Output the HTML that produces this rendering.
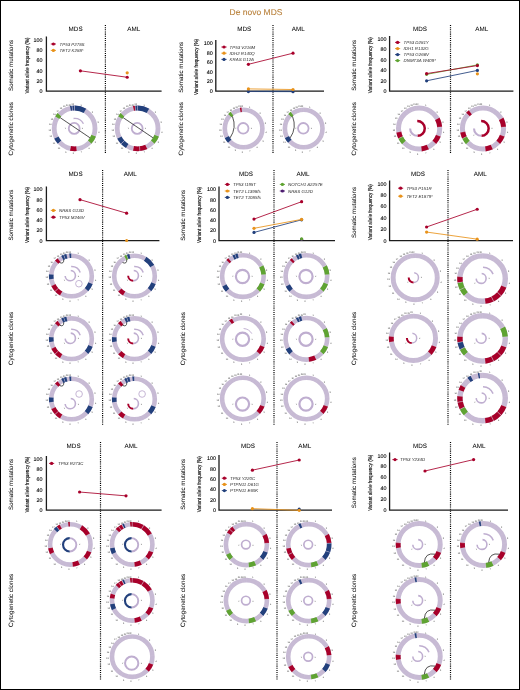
<!DOCTYPE html>
<html><head><meta charset="utf-8"><title>De novo MDS</title>
<style>
html,body{margin:0;padding:0;background:#fff;}
body{width:520px;height:690px;overflow:hidden;position:relative;font-family:"Liberation Sans",sans-serif;}
#frame{position:absolute;left:0;top:0;width:518px;height:688px;border:1px solid #000;}
svg{position:absolute;left:0;top:0;display:block}
svg text{font-family:"Liberation Sans",sans-serif;text-rendering:geometricPrecision;}
</style></head><body>
<svg width="520" height="690" viewBox="0 0 520 690">
<rect x="0" y="0" width="520" height="690" fill="#fff"/>
<defs><filter id="soft" x="0" y="0" width="520" height="690" filterUnits="userSpaceOnUse"><feGaussianBlur stdDeviation="0.28"/></filter></defs>
<g filter="url(#soft)">
<text transform="translate(256 14.6) scale(.1)" font-size="85" text-anchor="middle" fill="#b9823d" stroke="#b9823d" stroke-width="1.2">De novo MDS</text>
<path d="M105.4 25V153.6" stroke="#000" stroke-width="1.2" stroke-dasharray="1.05 1.1" fill="none"/>
<text transform="translate(75.60 31.45) scale(.1)" font-size="63" text-anchor="middle" fill="#000" stroke="#000" stroke-width="0.4">MDS</text>
<text transform="translate(133.70 31.45) scale(.1)" font-size="63" text-anchor="middle" fill="#000" stroke="#000" stroke-width="0.4">AML</text>
<text transform="translate(13.03 65.50) rotate(-90.0) scale(.1)" font-size="62" text-anchor="middle" fill="#000" stroke="#000" stroke-width="0.4">Somatic mutations</text>
<text transform="translate(28.72 65.50) rotate(-90.0) scale(.1)" font-size="56" text-anchor="middle" fill="#000" textLength="560" lengthAdjust="spacingAndGlyphs" stroke="#000" stroke-width="1.3">Variant allele frequency (%)</text>
<text transform="translate(13.07 128.80) rotate(-90.0) scale(.1)" font-size="63" text-anchor="middle" fill="#000" stroke="#000" stroke-width="0.4">Cytogenetic clones</text>
<text transform="translate(42.60 93.15) scale(.1)" font-size="54" text-anchor="end" fill="#000" stroke="#000" stroke-width="1.0">0</text>
<text transform="translate(42.60 82.83) scale(.1)" font-size="54" text-anchor="end" fill="#000" stroke="#000" stroke-width="1.0">20</text>
<text transform="translate(42.60 72.51) scale(.1)" font-size="54" text-anchor="end" fill="#000" stroke="#000" stroke-width="1.0">40</text>
<text transform="translate(42.60 62.19) scale(.1)" font-size="54" text-anchor="end" fill="#000" stroke="#000" stroke-width="1.0">60</text>
<text transform="translate(42.60 51.87) scale(.1)" font-size="54" text-anchor="end" fill="#000" stroke="#000" stroke-width="1.0">80</text>
<text transform="translate(42.60 41.55) scale(.1)" font-size="54" text-anchor="end" fill="#000" stroke="#000" stroke-width="1.0">100</text>
<path d="M46.4 36.6V91.2H161.6" stroke="#1c1c1c" stroke-width="1.3" fill="none" stroke-linejoin="miter"/>
<circle cx="127.20" cy="72.83" r="1.6" fill="#e8921a"/>
<path d="M80.40 70.82L127.20 77.27" stroke="#a8062c" stroke-width="0.85" fill="none"/>
<circle cx="80.40" cy="70.82" r="1.6" fill="#a8062c"/>
<circle cx="127.20" cy="77.27" r="1.6" fill="#a8062c"/>
<path d="M50.8 44H56.0" stroke="#a8062c" stroke-width="0.9"/>
<circle cx="53.4" cy="44" r="1.6" fill="#a8062c"/>
<text transform="translate(59.60 45.55) scale(.1)" font-size="44" text-anchor="start" fill="#2a2a2a" font-style="italic">TP53 P278S</text>
<path d="M50.8 50.4H56.0" stroke="#e8921a" stroke-width="0.9"/>
<circle cx="53.4" cy="50.4" r="1.6" fill="#e8921a"/>
<text transform="translate(59.60 51.95) scale(.1)" font-size="44" text-anchor="start" fill="#2a2a2a" font-style="italic">TET2 K288*</text>
<circle cx="74.6" cy="128.4" r="20.40" fill="none" stroke="#c7bad4" stroke-width="4.80"/>
<text transform="translate(81.16 106.20) scale(.1)" font-size="22" text-anchor="middle" fill="#3a3a3a">1</text>
<text transform="translate(92.28 112.87) scale(.1)" font-size="22" text-anchor="middle" fill="#3a3a3a">2</text>
<text transform="translate(98.09 122.97) scale(.1)" font-size="22" text-anchor="middle" fill="#3a3a3a">3</text>
<text transform="translate(98.80 133.25) scale(.1)" font-size="22" text-anchor="middle" fill="#3a3a3a">4</text>
<text transform="translate(95.45 142.52) scale(.1)" font-size="22" text-anchor="middle" fill="#3a3a3a">5</text>
<text transform="translate(89.15 149.40) scale(.1)" font-size="22" text-anchor="middle" fill="#3a3a3a">6</text>
<text transform="translate(81.29 153.27) scale(.1)" font-size="22" text-anchor="middle" fill="#3a3a3a">7</text>
<text transform="translate(73.24 154.16) scale(.1)" font-size="22" text-anchor="middle" fill="#3a3a3a">8</text>
<text transform="translate(65.79 152.56) scale(.1)" font-size="22" text-anchor="middle" fill="#3a3a3a">9</text>
<text transform="translate(58.90 148.90) scale(.1)" font-size="22" text-anchor="middle" fill="#3a3a3a">10</text>
<text transform="translate(53.98 143.64) scale(.1)" font-size="22" text-anchor="middle" fill="#3a3a3a">11</text>
<text transform="translate(50.82 137.22) scale(.1)" font-size="22" text-anchor="middle" fill="#3a3a3a">12</text>
<text transform="translate(49.67 130.70) scale(.1)" font-size="22" text-anchor="middle" fill="#3a3a3a">13</text>
<text transform="translate(50.15 124.81) scale(.1)" font-size="22" text-anchor="middle" fill="#3a3a3a">14</text>
<text transform="translate(51.90 119.50) scale(.1)" font-size="22" text-anchor="middle" fill="#3a3a3a">15</text>
<text transform="translate(54.54 115.08) scale(.1)" font-size="22" text-anchor="middle" fill="#3a3a3a">16</text>
<text transform="translate(57.60 111.71) scale(.1)" font-size="22" text-anchor="middle" fill="#3a3a3a">17</text>
<text transform="translate(60.96 109.13) scale(.1)" font-size="22" text-anchor="middle" fill="#3a3a3a">18</text>
<text transform="translate(64.18 107.40) scale(.1)" font-size="22" text-anchor="middle" fill="#3a3a3a">19</text>
<text transform="translate(67.23 106.28) scale(.1)" font-size="22" text-anchor="middle" fill="#3a3a3a">20</text>
<text transform="translate(70.12 105.63) scale(.1)" font-size="22" text-anchor="middle" fill="#3a3a3a">21</text>
<text transform="translate(72.74 105.34) scale(.1)" font-size="22" text-anchor="middle" fill="#3a3a3a">22</text>
<path d="M70.43 108.43A20.40 20.40 0 0 1 71.97 108.17" fill="none" stroke="#213f7b" stroke-width="4.80" />
<path d="M72.54 108.10A20.40 20.40 0 0 1 74.32 108.00" fill="none" stroke="#213f7b" stroke-width="4.80" />
<path d="M74.74 108.00A20.40 20.40 0 0 1 85.03 110.87" fill="none" stroke="#213f7b" stroke-width="4.80" />
<path d="M57.23 117.70A20.40 20.40 0 0 1 59.46 114.73" fill="none" stroke="#5ea330" stroke-width="4.80" />
<path d="M93.70 135.57A20.40 20.40 0 0 1 89.67 142.15" fill="none" stroke="#5ea330" stroke-width="4.80" />
<path d="M76.57 148.70A20.40 20.40 0 0 1 70.39 148.36" fill="none" stroke="#a8062c" stroke-width="4.80" />
<path d="M59.59 142.22A20.40 20.40 0 0 1 56.35 137.52" fill="none" stroke="#213f7b" stroke-width="4.80" />
<path d="M83.87 112.97L86.34 108.85" stroke="#f1ecf6" stroke-width="0.32" opacity="0.8"/>
<path d="M90.40 119.78L94.61 117.48" stroke="#f1ecf6" stroke-width="0.25" opacity="0.22"/>
<path d="M92.56 127.19L97.35 126.86" stroke="#f1ecf6" stroke-width="0.25" opacity="0.22"/>
<path d="M91.51 134.56L96.02 136.20" stroke="#f1ecf6" stroke-width="0.32" opacity="0.8"/>
<path d="M87.84 140.59L91.37 143.85" stroke="#f1ecf6" stroke-width="0.32" opacity="0.8"/>
<path d="M82.48 144.58L84.58 148.90" stroke="#f1ecf6" stroke-width="0.25" opacity="0.22"/>
<path d="M76.51 146.30L77.02 151.07" stroke="#f1ecf6" stroke-width="0.32" opacity="0.8"/>
<path d="M70.81 146.00L69.79 150.69" stroke="#f1ecf6" stroke-width="0.32" opacity="0.8"/>
<path d="M65.66 144.02L63.27 148.19" stroke="#f1ecf6" stroke-width="0.25" opacity="0.22"/>
<path d="M61.48 140.72L57.98 144.01" stroke="#f1ecf6" stroke-width="0.32" opacity="0.8"/>
<path d="M58.47 136.38L54.16 138.51" stroke="#f1ecf6" stroke-width="0.32" opacity="0.8"/>
<path d="M56.85 131.39L52.12 132.19" stroke="#f1ecf6" stroke-width="0.25" opacity="0.22"/>
<path d="M56.66 126.89L51.88 126.48" stroke="#f1ecf6" stroke-width="0.25" opacity="0.22"/>
<path d="M57.50 122.78L52.94 121.28" stroke="#f1ecf6" stroke-width="0.25" opacity="0.22"/>
<path d="M59.18 119.11L55.07 116.63" stroke="#f1ecf6" stroke-width="0.32" opacity="0.8"/>
<path d="M61.29 116.28L57.75 113.05" stroke="#f1ecf6" stroke-width="0.32" opacity="0.8"/>
<path d="M63.63 114.13L60.71 110.32" stroke="#f1ecf6" stroke-width="0.25" opacity="0.22"/>
<path d="M66.21 112.48L63.97 108.23" stroke="#f1ecf6" stroke-width="0.25" opacity="0.22"/>
<path d="M68.32 111.53L66.65 107.03" stroke="#f1ecf6" stroke-width="0.25" opacity="0.22"/>
<path d="M70.70 110.83L69.65 106.14" stroke="#f1ecf6" stroke-width="0.25" opacity="0.22"/>
<path d="M72.55 110.52L72.01 105.75" stroke="#f1ecf6" stroke-width="0.25" opacity="0.22"/>
<path d="M74.55 110.40L74.54 105.60" stroke="#f1ecf6" stroke-width="0.32" opacity="0.8"/>
<circle cx="74.20" cy="128.40" r="5.45" fill="none" stroke="#bfaed0" stroke-width="1.8"/>
<text transform="translate(65.40 129.30) scale(.1)" font-size="20" text-anchor="middle" fill="#333">Y</text>
<text transform="translate(82.40 129.30) scale(.1)" font-size="20" text-anchor="middle" fill="#333">X</text>
<path d="M73.55 118.45A10.00 10.00 0 0 1 83.43 123.71" fill="none" stroke="#bfaed0" stroke-width="1.4" />
<path d="M60.15 117.67L89.96 137.78" stroke="#1a1a1a" stroke-width="0.75" fill="none"/>
<circle cx="137.6" cy="128.4" r="20.40" fill="none" stroke="#c7bad4" stroke-width="4.80"/>
<text transform="translate(144.16 106.20) scale(.1)" font-size="22" text-anchor="middle" fill="#3a3a3a">1</text>
<text transform="translate(155.28 112.87) scale(.1)" font-size="22" text-anchor="middle" fill="#3a3a3a">2</text>
<text transform="translate(161.09 122.97) scale(.1)" font-size="22" text-anchor="middle" fill="#3a3a3a">3</text>
<text transform="translate(161.80 133.25) scale(.1)" font-size="22" text-anchor="middle" fill="#3a3a3a">4</text>
<text transform="translate(158.45 142.52) scale(.1)" font-size="22" text-anchor="middle" fill="#3a3a3a">5</text>
<text transform="translate(152.15 149.40) scale(.1)" font-size="22" text-anchor="middle" fill="#3a3a3a">6</text>
<text transform="translate(144.29 153.27) scale(.1)" font-size="22" text-anchor="middle" fill="#3a3a3a">7</text>
<text transform="translate(136.24 154.16) scale(.1)" font-size="22" text-anchor="middle" fill="#3a3a3a">8</text>
<text transform="translate(128.79 152.56) scale(.1)" font-size="22" text-anchor="middle" fill="#3a3a3a">9</text>
<text transform="translate(121.90 148.90) scale(.1)" font-size="22" text-anchor="middle" fill="#3a3a3a">10</text>
<text transform="translate(116.98 143.64) scale(.1)" font-size="22" text-anchor="middle" fill="#3a3a3a">11</text>
<text transform="translate(113.82 137.22) scale(.1)" font-size="22" text-anchor="middle" fill="#3a3a3a">12</text>
<text transform="translate(112.67 130.70) scale(.1)" font-size="22" text-anchor="middle" fill="#3a3a3a">13</text>
<text transform="translate(113.15 124.81) scale(.1)" font-size="22" text-anchor="middle" fill="#3a3a3a">14</text>
<text transform="translate(114.90 119.50) scale(.1)" font-size="22" text-anchor="middle" fill="#3a3a3a">15</text>
<text transform="translate(117.54 115.08) scale(.1)" font-size="22" text-anchor="middle" fill="#3a3a3a">16</text>
<text transform="translate(120.60 111.71) scale(.1)" font-size="22" text-anchor="middle" fill="#3a3a3a">17</text>
<text transform="translate(123.96 109.13) scale(.1)" font-size="22" text-anchor="middle" fill="#3a3a3a">18</text>
<text transform="translate(127.18 107.40) scale(.1)" font-size="22" text-anchor="middle" fill="#3a3a3a">19</text>
<text transform="translate(130.23 106.28) scale(.1)" font-size="22" text-anchor="middle" fill="#3a3a3a">20</text>
<text transform="translate(133.12 105.63) scale(.1)" font-size="22" text-anchor="middle" fill="#3a3a3a">21</text>
<text transform="translate(135.74 105.34) scale(.1)" font-size="22" text-anchor="middle" fill="#3a3a3a">22</text>
<path d="M133.37 108.44A20.40 20.40 0 0 1 135.19 108.14" fill="none" stroke="#a8062c" stroke-width="4.80" />
<path d="M135.48 108.11A20.40 20.40 0 0 1 137.46 108.00" fill="none" stroke="#213f7b" stroke-width="4.80" />
<path d="M137.74 108.00A20.40 20.40 0 0 1 148.03 110.87" fill="none" stroke="#213f7b" stroke-width="4.80" />
<path d="M120.23 117.70A20.40 20.40 0 0 1 122.46 114.73" fill="none" stroke="#5ea330" stroke-width="4.80" />
<path d="M156.70 135.57A20.40 20.40 0 0 1 152.67 142.15" fill="none" stroke="#5ea330" stroke-width="4.80" />
<path d="M146.36 146.82A20.40 20.40 0 0 1 139.85 148.68" fill="none" stroke="#a8062c" stroke-width="4.80" />
<path d="M139.57 148.70A20.40 20.40 0 0 1 133.39 148.36" fill="none" stroke="#a8062c" stroke-width="4.80" />
<path d="M127.29 146.00A20.40 20.40 0 0 1 122.79 142.43" fill="none" stroke="#213f7b" stroke-width="4.80" />
<path d="M122.59 142.22A20.40 20.40 0 0 1 119.35 137.52" fill="none" stroke="#213f7b" stroke-width="4.80" />
<path d="M146.87 112.97L149.34 108.85" stroke="#f1ecf6" stroke-width="0.32" opacity="0.8"/>
<path d="M153.40 119.78L157.61 117.48" stroke="#f1ecf6" stroke-width="0.25" opacity="0.22"/>
<path d="M155.56 127.19L160.35 126.86" stroke="#f1ecf6" stroke-width="0.25" opacity="0.22"/>
<path d="M154.51 134.56L159.02 136.20" stroke="#f1ecf6" stroke-width="0.32" opacity="0.8"/>
<path d="M150.84 140.59L154.37 143.85" stroke="#f1ecf6" stroke-width="0.32" opacity="0.8"/>
<path d="M145.48 144.58L147.58 148.90" stroke="#f1ecf6" stroke-width="0.32" opacity="0.8"/>
<path d="M139.51 146.30L140.02 151.07" stroke="#f1ecf6" stroke-width="0.32" opacity="0.8"/>
<path d="M133.81 146.00L132.79 150.69" stroke="#f1ecf6" stroke-width="0.32" opacity="0.8"/>
<path d="M128.66 144.02L126.27 148.19" stroke="#f1ecf6" stroke-width="0.32" opacity="0.8"/>
<path d="M124.48 140.72L120.98 144.01" stroke="#f1ecf6" stroke-width="0.32" opacity="0.8"/>
<path d="M121.47 136.38L117.16 138.51" stroke="#f1ecf6" stroke-width="0.32" opacity="0.8"/>
<path d="M119.85 131.39L115.12 132.19" stroke="#f1ecf6" stroke-width="0.25" opacity="0.22"/>
<path d="M119.66 126.89L114.88 126.48" stroke="#f1ecf6" stroke-width="0.25" opacity="0.22"/>
<path d="M120.50 122.78L115.94 121.28" stroke="#f1ecf6" stroke-width="0.25" opacity="0.22"/>
<path d="M122.18 119.11L118.07 116.63" stroke="#f1ecf6" stroke-width="0.32" opacity="0.8"/>
<path d="M124.29 116.28L120.75 113.05" stroke="#f1ecf6" stroke-width="0.32" opacity="0.8"/>
<path d="M126.63 114.13L123.71 110.32" stroke="#f1ecf6" stroke-width="0.25" opacity="0.22"/>
<path d="M129.21 112.48L126.97 108.23" stroke="#f1ecf6" stroke-width="0.25" opacity="0.22"/>
<path d="M131.32 111.53L129.65 107.03" stroke="#f1ecf6" stroke-width="0.25" opacity="0.22"/>
<path d="M133.70 110.83L132.65 106.14" stroke="#f1ecf6" stroke-width="0.32" opacity="0.8"/>
<path d="M135.55 110.52L135.01 105.75" stroke="#f1ecf6" stroke-width="0.32" opacity="0.8"/>
<path d="M137.55 110.40L137.54 105.60" stroke="#f1ecf6" stroke-width="0.32" opacity="0.8"/>
<circle cx="137.20" cy="128.40" r="5.45" fill="none" stroke="#bfaed0" stroke-width="1.8"/>
<text transform="translate(128.40 129.30) scale(.1)" font-size="20" text-anchor="middle" fill="#333">Y</text>
<text transform="translate(145.40 129.30) scale(.1)" font-size="20" text-anchor="middle" fill="#333">X</text>
<path d="M123.15 117.67L152.96 137.78" stroke="#1a1a1a" stroke-width="0.75" fill="none"/>
<path d="M273 25V153.6" stroke="#000" stroke-width="1.2" stroke-dasharray="1.05 1.1" fill="none"/>
<text transform="translate(244.30 31.45) scale(.1)" font-size="63" text-anchor="middle" fill="#000" stroke="#000" stroke-width="0.4">MDS</text>
<text transform="translate(298.30 31.45) scale(.1)" font-size="63" text-anchor="middle" fill="#000" stroke="#000" stroke-width="0.4">AML</text>
<text transform="translate(182.63 67.30) rotate(-90.0) scale(.1)" font-size="62" text-anchor="middle" fill="#000" stroke="#000" stroke-width="0.4">Somatic mutations</text>
<text transform="translate(198.32 67.00) rotate(-90.0) scale(.1)" font-size="56" text-anchor="middle" fill="#000" textLength="560" lengthAdjust="spacingAndGlyphs" stroke="#000" stroke-width="1.3">Variant allele frequency (%)</text>
<text transform="translate(182.67 128.80) rotate(-90.0) scale(.1)" font-size="63" text-anchor="middle" fill="#000" stroke="#000" stroke-width="0.4">Cytogenetic clones</text>
<text transform="translate(212.80 93.05) scale(.1)" font-size="54" text-anchor="end" fill="#000" stroke="#000" stroke-width="1.0">0</text>
<text transform="translate(212.80 83.45) scale(.1)" font-size="54" text-anchor="end" fill="#000" stroke="#000" stroke-width="1.0">20</text>
<text transform="translate(212.80 73.85) scale(.1)" font-size="54" text-anchor="end" fill="#000" stroke="#000" stroke-width="1.0">40</text>
<text transform="translate(212.80 64.25) scale(.1)" font-size="54" text-anchor="end" fill="#000" stroke="#000" stroke-width="1.0">60</text>
<text transform="translate(212.80 54.65) scale(.1)" font-size="54" text-anchor="end" fill="#000" stroke="#000" stroke-width="1.0">80</text>
<text transform="translate(212.80 45.05) scale(.1)" font-size="54" text-anchor="end" fill="#000" stroke="#000" stroke-width="1.0">100</text>
<path d="M215.8 40V91.1H324" stroke="#1c1c1c" stroke-width="1.3" fill="none" stroke-linejoin="miter"/>
<path d="M248.40 91.53L293.00 91.63" stroke="#213f7b" stroke-width="0.85" fill="none"/>
<circle cx="248.40" cy="91.53" r="1.6" fill="#213f7b"/>
<circle cx="293.00" cy="91.63" r="1.6" fill="#213f7b"/>
<path d="M248.40 88.89L293.00 89.52" stroke="#e8921a" stroke-width="0.85" fill="none"/>
<circle cx="248.40" cy="88.89" r="1.6" fill="#e8921a"/>
<circle cx="293.00" cy="89.52" r="1.6" fill="#e8921a"/>
<path d="M248.40 64.32L293.00 53.18" stroke="#a8062c" stroke-width="0.85" fill="none"/>
<circle cx="248.40" cy="64.32" r="1.6" fill="#a8062c"/>
<circle cx="293.00" cy="53.18" r="1.6" fill="#a8062c"/>
<path d="M221.4 47H226.6" stroke="#a8062c" stroke-width="0.9"/>
<circle cx="224" cy="47" r="1.6" fill="#a8062c"/>
<text transform="translate(229.60 48.55) scale(.1)" font-size="44" text-anchor="start" fill="#2a2a2a" font-style="italic">TP53 V216M</text>
<path d="M221.4 53.2H226.6" stroke="#e8921a" stroke-width="0.9"/>
<circle cx="224" cy="53.2" r="1.6" fill="#e8921a"/>
<text transform="translate(229.60 54.75) scale(.1)" font-size="44" text-anchor="start" fill="#2a2a2a" font-style="italic">IDH2 R140Q</text>
<path d="M221.4 59.4H226.6" stroke="#213f7b" stroke-width="0.9"/>
<circle cx="224" cy="59.4" r="1.6" fill="#213f7b"/>
<text transform="translate(229.60 60.95) scale(.1)" font-size="44" text-anchor="start" fill="#2a2a2a" font-style="italic">KRAS G12A</text>
<circle cx="243.6" cy="128.5" r="18.80" fill="none" stroke="#c7bad4" stroke-width="4.60"/>
<text transform="translate(249.71 107.93) scale(.1)" font-size="22" text-anchor="middle" fill="#3a3a3a">1</text>
<text transform="translate(260.06 114.14) scale(.1)" font-size="22" text-anchor="middle" fill="#3a3a3a">2</text>
<text transform="translate(265.46 123.54) scale(.1)" font-size="22" text-anchor="middle" fill="#3a3a3a">3</text>
<text transform="translate(266.12 133.10) scale(.1)" font-size="22" text-anchor="middle" fill="#3a3a3a">4</text>
<text transform="translate(263.00 141.73) scale(.1)" font-size="22" text-anchor="middle" fill="#3a3a3a">5</text>
<text transform="translate(257.14 148.13) scale(.1)" font-size="22" text-anchor="middle" fill="#3a3a3a">6</text>
<text transform="translate(249.83 151.73) scale(.1)" font-size="22" text-anchor="middle" fill="#3a3a3a">7</text>
<text transform="translate(242.33 152.56) scale(.1)" font-size="22" text-anchor="middle" fill="#3a3a3a">8</text>
<text transform="translate(235.40 151.07) scale(.1)" font-size="22" text-anchor="middle" fill="#3a3a3a">9</text>
<text transform="translate(228.95 147.67) scale(.1)" font-size="22" text-anchor="middle" fill="#3a3a3a">10</text>
<text transform="translate(224.37 142.77) scale(.1)" font-size="22" text-anchor="middle" fill="#3a3a3a">11</text>
<text transform="translate(221.44 136.80) scale(.1)" font-size="22" text-anchor="middle" fill="#3a3a3a">12</text>
<text transform="translate(220.37 130.73) scale(.1)" font-size="22" text-anchor="middle" fill="#3a3a3a">13</text>
<text transform="translate(220.82 125.25) scale(.1)" font-size="22" text-anchor="middle" fill="#3a3a3a">14</text>
<text transform="translate(222.45 120.31) scale(.1)" font-size="22" text-anchor="middle" fill="#3a3a3a">15</text>
<text transform="translate(224.90 116.20) scale(.1)" font-size="22" text-anchor="middle" fill="#3a3a3a">16</text>
<text transform="translate(227.74 113.06) scale(.1)" font-size="22" text-anchor="middle" fill="#3a3a3a">17</text>
<text transform="translate(230.87 110.67) scale(.1)" font-size="22" text-anchor="middle" fill="#3a3a3a">18</text>
<text transform="translate(233.87 109.06) scale(.1)" font-size="22" text-anchor="middle" fill="#3a3a3a">19</text>
<text transform="translate(236.71 108.02) scale(.1)" font-size="22" text-anchor="middle" fill="#3a3a3a">20</text>
<text transform="translate(239.39 107.40) scale(.1)" font-size="22" text-anchor="middle" fill="#3a3a3a">21</text>
<text transform="translate(241.83 107.14) scale(.1)" font-size="22" text-anchor="middle" fill="#3a3a3a">22</text>
<path d="M240.24 110.00A18.80 18.80 0 0 1 241.73 109.79" fill="none" stroke="#a8062c" stroke-width="4.60" />
<path d="M229.82 115.71A18.80 18.80 0 0 1 232.08 113.64" fill="none" stroke="#5ea330" stroke-width="4.60" />
<path d="M229.77 141.24A18.80 18.80 0 0 1 226.78 136.91" fill="none" stroke="#213f7b" stroke-width="4.60" />
<path d="M252.09 114.35L254.46 110.41" stroke="#f1ecf6" stroke-width="0.25" opacity="0.22"/>
<path d="M258.08 120.59L262.12 118.39" stroke="#f1ecf6" stroke-width="0.25" opacity="0.22"/>
<path d="M260.06 127.39L264.65 127.08" stroke="#f1ecf6" stroke-width="0.25" opacity="0.22"/>
<path d="M259.10 134.15L263.43 135.72" stroke="#f1ecf6" stroke-width="0.25" opacity="0.22"/>
<path d="M255.74 139.68L259.12 142.79" stroke="#f1ecf6" stroke-width="0.25" opacity="0.22"/>
<path d="M250.83 143.33L252.84 147.47" stroke="#f1ecf6" stroke-width="0.25" opacity="0.22"/>
<path d="M245.35 144.91L245.84 149.48" stroke="#f1ecf6" stroke-width="0.25" opacity="0.22"/>
<path d="M240.12 144.63L239.15 149.13" stroke="#f1ecf6" stroke-width="0.25" opacity="0.22"/>
<path d="M235.40 142.82L233.11 146.81" stroke="#f1ecf6" stroke-width="0.25" opacity="0.22"/>
<path d="M231.57 139.79L228.22 142.94" stroke="#f1ecf6" stroke-width="0.32" opacity="0.8"/>
<path d="M228.81 135.81L224.69 137.85" stroke="#f1ecf6" stroke-width="0.32" opacity="0.8"/>
<path d="M227.33 131.24L222.79 132.00" stroke="#f1ecf6" stroke-width="0.25" opacity="0.22"/>
<path d="M227.16 127.11L222.57 126.73" stroke="#f1ecf6" stroke-width="0.25" opacity="0.22"/>
<path d="M227.93 123.35L223.56 121.91" stroke="#f1ecf6" stroke-width="0.25" opacity="0.22"/>
<path d="M229.47 119.98L225.53 117.61" stroke="#f1ecf6" stroke-width="0.25" opacity="0.22"/>
<path d="M231.40 117.39L228.00 114.29" stroke="#f1ecf6" stroke-width="0.32" opacity="0.8"/>
<path d="M233.55 115.42L230.74 111.77" stroke="#f1ecf6" stroke-width="0.32" opacity="0.8"/>
<path d="M235.91 113.90L233.76 109.83" stroke="#f1ecf6" stroke-width="0.25" opacity="0.22"/>
<path d="M237.85 113.04L236.24 108.72" stroke="#f1ecf6" stroke-width="0.25" opacity="0.22"/>
<path d="M240.02 112.39L239.02 107.90" stroke="#f1ecf6" stroke-width="0.25" opacity="0.22"/>
<path d="M241.72 112.11L241.20 107.54" stroke="#f1ecf6" stroke-width="0.25" opacity="0.22"/>
<path d="M243.56 112.00L243.54 107.40" stroke="#f1ecf6" stroke-width="0.25" opacity="0.22"/>
<circle cx="243.20" cy="128.30" r="5.3" fill="none" stroke="#bfaed0" stroke-width="1.8"/>
<text transform="translate(235.80 129.40) scale(.1)" font-size="20" text-anchor="middle" fill="#333">Y</text>
<text transform="translate(251.40 129.40) scale(.1)" font-size="20" text-anchor="middle" fill="#333">X</text>
<path d="M232.41 116.37Q236.94 127.77 230.05 137.92" stroke="#1a1a1a" stroke-width="0.75" fill="none"/>
<circle cx="303.7" cy="128.5" r="18.80" fill="none" stroke="#c7bad4" stroke-width="4.60"/>
<text transform="translate(309.81 107.93) scale(.1)" font-size="22" text-anchor="middle" fill="#3a3a3a">1</text>
<text transform="translate(320.16 114.14) scale(.1)" font-size="22" text-anchor="middle" fill="#3a3a3a">2</text>
<text transform="translate(325.56 123.54) scale(.1)" font-size="22" text-anchor="middle" fill="#3a3a3a">3</text>
<text transform="translate(326.22 133.10) scale(.1)" font-size="22" text-anchor="middle" fill="#3a3a3a">4</text>
<text transform="translate(323.10 141.73) scale(.1)" font-size="22" text-anchor="middle" fill="#3a3a3a">5</text>
<text transform="translate(317.24 148.13) scale(.1)" font-size="22" text-anchor="middle" fill="#3a3a3a">6</text>
<text transform="translate(309.93 151.73) scale(.1)" font-size="22" text-anchor="middle" fill="#3a3a3a">7</text>
<text transform="translate(302.43 152.56) scale(.1)" font-size="22" text-anchor="middle" fill="#3a3a3a">8</text>
<text transform="translate(295.50 151.07) scale(.1)" font-size="22" text-anchor="middle" fill="#3a3a3a">9</text>
<text transform="translate(289.05 147.67) scale(.1)" font-size="22" text-anchor="middle" fill="#3a3a3a">10</text>
<text transform="translate(284.47 142.77) scale(.1)" font-size="22" text-anchor="middle" fill="#3a3a3a">11</text>
<text transform="translate(281.54 136.80) scale(.1)" font-size="22" text-anchor="middle" fill="#3a3a3a">12</text>
<text transform="translate(280.47 130.73) scale(.1)" font-size="22" text-anchor="middle" fill="#3a3a3a">13</text>
<text transform="translate(280.92 125.25) scale(.1)" font-size="22" text-anchor="middle" fill="#3a3a3a">14</text>
<text transform="translate(282.55 120.31) scale(.1)" font-size="22" text-anchor="middle" fill="#3a3a3a">15</text>
<text transform="translate(285.00 116.20) scale(.1)" font-size="22" text-anchor="middle" fill="#3a3a3a">16</text>
<text transform="translate(287.84 113.06) scale(.1)" font-size="22" text-anchor="middle" fill="#3a3a3a">17</text>
<text transform="translate(290.97 110.67) scale(.1)" font-size="22" text-anchor="middle" fill="#3a3a3a">18</text>
<text transform="translate(293.97 109.06) scale(.1)" font-size="22" text-anchor="middle" fill="#3a3a3a">19</text>
<text transform="translate(296.81 108.02) scale(.1)" font-size="22" text-anchor="middle" fill="#3a3a3a">20</text>
<text transform="translate(299.49 107.40) scale(.1)" font-size="22" text-anchor="middle" fill="#3a3a3a">21</text>
<text transform="translate(301.93 107.14) scale(.1)" font-size="22" text-anchor="middle" fill="#3a3a3a">22</text>
<path d="M289.92 115.71A18.80 18.80 0 0 1 292.18 113.64" fill="none" stroke="#5ea330" stroke-width="4.60" />
<path d="M289.87 141.24A18.80 18.80 0 0 1 286.88 136.91" fill="none" stroke="#213f7b" stroke-width="4.60" />
<path d="M312.19 114.35L314.56 110.41" stroke="#f1ecf6" stroke-width="0.25" opacity="0.22"/>
<path d="M318.18 120.59L322.22 118.39" stroke="#f1ecf6" stroke-width="0.25" opacity="0.22"/>
<path d="M320.16 127.39L324.75 127.08" stroke="#f1ecf6" stroke-width="0.25" opacity="0.22"/>
<path d="M319.20 134.15L323.53 135.72" stroke="#f1ecf6" stroke-width="0.25" opacity="0.22"/>
<path d="M315.84 139.68L319.22 142.79" stroke="#f1ecf6" stroke-width="0.25" opacity="0.22"/>
<path d="M310.93 143.33L312.94 147.47" stroke="#f1ecf6" stroke-width="0.25" opacity="0.22"/>
<path d="M305.45 144.91L305.94 149.48" stroke="#f1ecf6" stroke-width="0.25" opacity="0.22"/>
<path d="M300.22 144.63L299.25 149.13" stroke="#f1ecf6" stroke-width="0.25" opacity="0.22"/>
<path d="M295.50 142.82L293.21 146.81" stroke="#f1ecf6" stroke-width="0.25" opacity="0.22"/>
<path d="M291.67 139.79L288.32 142.94" stroke="#f1ecf6" stroke-width="0.32" opacity="0.8"/>
<path d="M288.91 135.81L284.79 137.85" stroke="#f1ecf6" stroke-width="0.32" opacity="0.8"/>
<path d="M287.43 131.24L282.89 132.00" stroke="#f1ecf6" stroke-width="0.25" opacity="0.22"/>
<path d="M287.26 127.11L282.67 126.73" stroke="#f1ecf6" stroke-width="0.25" opacity="0.22"/>
<path d="M288.03 123.35L283.66 121.91" stroke="#f1ecf6" stroke-width="0.25" opacity="0.22"/>
<path d="M289.57 119.98L285.63 117.61" stroke="#f1ecf6" stroke-width="0.25" opacity="0.22"/>
<path d="M291.50 117.39L288.10 114.29" stroke="#f1ecf6" stroke-width="0.32" opacity="0.8"/>
<path d="M293.65 115.42L290.84 111.77" stroke="#f1ecf6" stroke-width="0.32" opacity="0.8"/>
<path d="M296.01 113.90L293.86 109.83" stroke="#f1ecf6" stroke-width="0.25" opacity="0.22"/>
<path d="M297.95 113.04L296.34 108.72" stroke="#f1ecf6" stroke-width="0.25" opacity="0.22"/>
<path d="M300.12 112.39L299.12 107.90" stroke="#f1ecf6" stroke-width="0.25" opacity="0.22"/>
<path d="M301.82 112.11L301.30 107.54" stroke="#f1ecf6" stroke-width="0.25" opacity="0.22"/>
<path d="M303.66 112.00L303.64 107.40" stroke="#f1ecf6" stroke-width="0.25" opacity="0.22"/>
<circle cx="303.30" cy="128.30" r="5.3" fill="none" stroke="#bfaed0" stroke-width="1.8"/>
<text transform="translate(295.90 129.40) scale(.1)" font-size="20" text-anchor="middle" fill="#333">Y</text>
<text transform="translate(311.50 129.40) scale(.1)" font-size="20" text-anchor="middle" fill="#333">X</text>
<path d="M292.51 116.37Q297.04 127.77 290.15 137.92" stroke="#1a1a1a" stroke-width="0.75" fill="none"/>
<path d="M450.5 25V153.6" stroke="#000" stroke-width="1.2" stroke-dasharray="1.05 1.1" fill="none"/>
<text transform="translate(420.00 31.45) scale(.1)" font-size="63" text-anchor="middle" fill="#000" stroke="#000" stroke-width="0.4">MDS</text>
<text transform="translate(481.70 31.45) scale(.1)" font-size="63" text-anchor="middle" fill="#000" stroke="#000" stroke-width="0.4">AML</text>
<text transform="translate(356.03 65.30) rotate(-90.0) scale(.1)" font-size="62" text-anchor="middle" fill="#000" stroke="#000" stroke-width="0.4">Somatic mutations</text>
<text transform="translate(372.12 65.20) rotate(-90.0) scale(.1)" font-size="56" text-anchor="middle" fill="#000" textLength="560" lengthAdjust="spacingAndGlyphs" stroke="#000" stroke-width="1.3">Variant allele frequency (%)</text>
<text transform="translate(356.07 128.80) rotate(-90.0) scale(.1)" font-size="63" text-anchor="middle" fill="#000" stroke="#000" stroke-width="0.4">Cytogenetic clones</text>
<text transform="translate(386.40 93.15) scale(.1)" font-size="54" text-anchor="end" fill="#000" stroke="#000" stroke-width="1.0">0</text>
<text transform="translate(386.40 82.63) scale(.1)" font-size="54" text-anchor="end" fill="#000" stroke="#000" stroke-width="1.0">20</text>
<text transform="translate(386.40 72.11) scale(.1)" font-size="54" text-anchor="end" fill="#000" stroke="#000" stroke-width="1.0">40</text>
<text transform="translate(386.40 61.59) scale(.1)" font-size="54" text-anchor="end" fill="#000" stroke="#000" stroke-width="1.0">60</text>
<text transform="translate(386.40 51.07) scale(.1)" font-size="54" text-anchor="end" fill="#000" stroke="#000" stroke-width="1.0">80</text>
<text transform="translate(386.40 40.55) scale(.1)" font-size="54" text-anchor="end" fill="#000" stroke="#000" stroke-width="1.0">100</text>
<path d="M389.6 36V91.2H513.4" stroke="#1c1c1c" stroke-width="1.3" fill="none" stroke-linejoin="miter"/>
<circle cx="477.40" cy="73.84" r="1.6" fill="#e8921a"/>
<path d="M426.60 80.79L477.40 70.42" stroke="#213f7b" stroke-width="0.85" fill="none"/>
<circle cx="426.60" cy="80.79" r="1.6" fill="#213f7b"/>
<circle cx="477.40" cy="70.42" r="1.6" fill="#213f7b"/>
<path d="M426.60 74.37L477.40 64.90" stroke="#5ea330" stroke-width="0.85" fill="none"/>
<circle cx="426.60" cy="74.37" r="1.6" fill="#5ea330"/>
<circle cx="477.40" cy="64.90" r="1.6" fill="#5ea330"/>
<path d="M426.60 73.58L477.40 65.58" stroke="#a8062c" stroke-width="0.85" fill="none"/>
<circle cx="426.60" cy="73.58" r="1.6" fill="#a8062c"/>
<circle cx="477.40" cy="65.58" r="1.6" fill="#a8062c"/>
<path d="M395.0 42.4H400.20000000000005" stroke="#a8062c" stroke-width="0.9"/>
<circle cx="397.6" cy="42.4" r="1.6" fill="#a8062c"/>
<text transform="translate(403.60 43.95) scale(.1)" font-size="44" text-anchor="start" fill="#2a2a2a" font-style="italic">TP53 D281Y</text>
<path d="M395.0 48.6H400.20000000000005" stroke="#e8921a" stroke-width="0.9"/>
<circle cx="397.6" cy="48.6" r="1.6" fill="#e8921a"/>
<text transform="translate(403.60 50.15) scale(.1)" font-size="44" text-anchor="start" fill="#2a2a2a" font-style="italic">IDH1 R132G</text>
<path d="M395.0 54.6H400.20000000000005" stroke="#213f7b" stroke-width="0.9"/>
<circle cx="397.6" cy="54.6" r="1.6" fill="#213f7b"/>
<text transform="translate(403.60 56.15) scale(.1)" font-size="44" text-anchor="start" fill="#2a2a2a" font-style="italic">TP53 G266V</text>
<path d="M395.0 60.6H400.20000000000005" stroke="#5ea330" stroke-width="0.9"/>
<circle cx="397.6" cy="60.6" r="1.6" fill="#5ea330"/>
<text transform="translate(403.60 62.15) scale(.1)" font-size="44" text-anchor="start" fill="#2a2a2a" font-style="italic">DNMT3A W409*</text>
<circle cx="419.1" cy="128.5" r="20.60" fill="none" stroke="#c7bad4" stroke-width="5.00"/>
<text transform="translate(425.74 106.01) scale(.1)" font-size="22" text-anchor="middle" fill="#3a3a3a">1</text>
<text transform="translate(437.00 112.76) scale(.1)" font-size="22" text-anchor="middle" fill="#3a3a3a">2</text>
<text transform="translate(442.88 122.99) scale(.1)" font-size="22" text-anchor="middle" fill="#3a3a3a">3</text>
<text transform="translate(443.60 133.39) scale(.1)" font-size="22" text-anchor="middle" fill="#3a3a3a">4</text>
<text transform="translate(440.21 142.77) scale(.1)" font-size="22" text-anchor="middle" fill="#3a3a3a">5</text>
<text transform="translate(433.83 149.74) scale(.1)" font-size="22" text-anchor="middle" fill="#3a3a3a">6</text>
<text transform="translate(425.87 153.66) scale(.1)" font-size="22" text-anchor="middle" fill="#3a3a3a">7</text>
<text transform="translate(417.72 154.56) scale(.1)" font-size="22" text-anchor="middle" fill="#3a3a3a">8</text>
<text transform="translate(410.18 152.94) scale(.1)" font-size="22" text-anchor="middle" fill="#3a3a3a">9</text>
<text transform="translate(403.21 149.23) scale(.1)" font-size="22" text-anchor="middle" fill="#3a3a3a">10</text>
<text transform="translate(398.23 143.91) scale(.1)" font-size="22" text-anchor="middle" fill="#3a3a3a">11</text>
<text transform="translate(395.03 137.41) scale(.1)" font-size="22" text-anchor="middle" fill="#3a3a3a">12</text>
<text transform="translate(393.87 130.81) scale(.1)" font-size="22" text-anchor="middle" fill="#3a3a3a">13</text>
<text transform="translate(394.36 124.85) scale(.1)" font-size="22" text-anchor="middle" fill="#3a3a3a">14</text>
<text transform="translate(396.13 119.47) scale(.1)" font-size="22" text-anchor="middle" fill="#3a3a3a">15</text>
<text transform="translate(398.80 115.00) scale(.1)" font-size="22" text-anchor="middle" fill="#3a3a3a">16</text>
<text transform="translate(401.89 111.59) scale(.1)" font-size="22" text-anchor="middle" fill="#3a3a3a">17</text>
<text transform="translate(405.30 108.98) scale(.1)" font-size="22" text-anchor="middle" fill="#3a3a3a">18</text>
<text transform="translate(408.55 107.23) scale(.1)" font-size="22" text-anchor="middle" fill="#3a3a3a">19</text>
<text transform="translate(411.65 106.10) scale(.1)" font-size="22" text-anchor="middle" fill="#3a3a3a">20</text>
<text transform="translate(414.57 105.43) scale(.1)" font-size="22" text-anchor="middle" fill="#3a3a3a">21</text>
<text transform="translate(417.22 105.14) scale(.1)" font-size="22" text-anchor="middle" fill="#3a3a3a">22</text>
<path d="M437.28 118.80A20.60 20.60 0 0 1 439.65 127.02" fill="none" stroke="#a8062c" stroke-width="5.00" />
<path d="M438.39 135.74A20.60 20.60 0 0 1 434.31 142.39" fill="none" stroke="#a8062c" stroke-width="5.00" />
<path d="M427.94 147.11A20.60 20.60 0 0 1 421.37 148.97" fill="none" stroke="#a8062c" stroke-width="5.00" />
<path d="M400.55 137.45A20.60 20.60 0 0 1 398.80 132.01" fill="none" stroke="#a8062c" stroke-width="5.00" />
<path d="M403.95 142.46A20.60 20.60 0 0 1 400.67 137.71" fill="none" stroke="#5ea330" stroke-width="5.00" />
<path d="M428.42 112.98L430.99 108.70" stroke="#f1ecf6" stroke-width="0.25" opacity="0.22"/>
<path d="M434.99 119.83L439.38 117.43" stroke="#f1ecf6" stroke-width="0.32" opacity="0.8"/>
<path d="M437.16 127.28L442.15 126.94" stroke="#f1ecf6" stroke-width="0.32" opacity="0.8"/>
<path d="M436.11 134.69L440.81 136.41" stroke="#f1ecf6" stroke-width="0.32" opacity="0.8"/>
<path d="M432.41 140.76L436.09 144.15" stroke="#f1ecf6" stroke-width="0.32" opacity="0.8"/>
<path d="M427.03 144.77L429.22 149.27" stroke="#f1ecf6" stroke-width="0.32" opacity="0.8"/>
<path d="M421.02 146.50L421.55 151.47" stroke="#f1ecf6" stroke-width="0.32" opacity="0.8"/>
<path d="M415.29 146.19L414.23 151.08" stroke="#f1ecf6" stroke-width="0.25" opacity="0.22"/>
<path d="M410.11 144.21L407.62 148.55" stroke="#f1ecf6" stroke-width="0.25" opacity="0.22"/>
<path d="M405.90 140.89L402.26 144.31" stroke="#f1ecf6" stroke-width="0.32" opacity="0.8"/>
<path d="M402.88 136.52L398.39 138.74" stroke="#f1ecf6" stroke-width="0.32" opacity="0.8"/>
<path d="M401.25 131.51L396.32 132.34" stroke="#f1ecf6" stroke-width="0.32" opacity="0.8"/>
<path d="M401.06 126.98L396.08 126.56" stroke="#f1ecf6" stroke-width="0.25" opacity="0.22"/>
<path d="M401.91 122.85L397.16 121.29" stroke="#f1ecf6" stroke-width="0.25" opacity="0.22"/>
<path d="M403.60 119.16L399.32 116.58" stroke="#f1ecf6" stroke-width="0.25" opacity="0.22"/>
<path d="M405.72 116.31L402.02 112.94" stroke="#f1ecf6" stroke-width="0.25" opacity="0.22"/>
<path d="M408.07 114.15L405.03 110.18" stroke="#f1ecf6" stroke-width="0.25" opacity="0.22"/>
<path d="M410.66 112.49L408.33 108.06" stroke="#f1ecf6" stroke-width="0.25" opacity="0.22"/>
<path d="M412.79 111.54L411.05 106.85" stroke="#f1ecf6" stroke-width="0.25" opacity="0.22"/>
<path d="M415.17 110.83L414.09 105.95" stroke="#f1ecf6" stroke-width="0.25" opacity="0.22"/>
<path d="M417.04 110.52L416.47 105.55" stroke="#f1ecf6" stroke-width="0.25" opacity="0.22"/>
<path d="M419.05 110.40L419.04 105.40" stroke="#f1ecf6" stroke-width="0.25" opacity="0.22"/>
<path d="M417.24 121.00A7.40 7.40 0 1 1 417.50 135.80" fill="none" stroke="#a8062c" stroke-width="2.5" />
<path d="M417.50 135.80A7.40 7.40 0 0 1 410.10 128.40" fill="none" stroke="#bfaed0" stroke-width="2.1" />
<text transform="translate(428.10 129.30) scale(.1)" font-size="20" text-anchor="middle" fill="#333">X</text>
<text transform="translate(410.10 136.00) scale(.1)" font-size="20" text-anchor="middle" fill="#333">Y</text>
<circle cx="483" cy="128.5" r="20.60" fill="none" stroke="#c7bad4" stroke-width="5.00"/>
<text transform="translate(489.64 106.01) scale(.1)" font-size="22" text-anchor="middle" fill="#3a3a3a">1</text>
<text transform="translate(500.90 112.76) scale(.1)" font-size="22" text-anchor="middle" fill="#3a3a3a">2</text>
<text transform="translate(506.78 122.99) scale(.1)" font-size="22" text-anchor="middle" fill="#3a3a3a">3</text>
<text transform="translate(507.50 133.39) scale(.1)" font-size="22" text-anchor="middle" fill="#3a3a3a">4</text>
<text transform="translate(504.11 142.77) scale(.1)" font-size="22" text-anchor="middle" fill="#3a3a3a">5</text>
<text transform="translate(497.73 149.74) scale(.1)" font-size="22" text-anchor="middle" fill="#3a3a3a">6</text>
<text transform="translate(489.77 153.66) scale(.1)" font-size="22" text-anchor="middle" fill="#3a3a3a">7</text>
<text transform="translate(481.62 154.56) scale(.1)" font-size="22" text-anchor="middle" fill="#3a3a3a">8</text>
<text transform="translate(474.08 152.94) scale(.1)" font-size="22" text-anchor="middle" fill="#3a3a3a">9</text>
<text transform="translate(467.11 149.23) scale(.1)" font-size="22" text-anchor="middle" fill="#3a3a3a">10</text>
<text transform="translate(462.13 143.91) scale(.1)" font-size="22" text-anchor="middle" fill="#3a3a3a">11</text>
<text transform="translate(458.93 137.41) scale(.1)" font-size="22" text-anchor="middle" fill="#3a3a3a">12</text>
<text transform="translate(457.77 130.81) scale(.1)" font-size="22" text-anchor="middle" fill="#3a3a3a">13</text>
<text transform="translate(458.26 124.85) scale(.1)" font-size="22" text-anchor="middle" fill="#3a3a3a">14</text>
<text transform="translate(460.03 119.47) scale(.1)" font-size="22" text-anchor="middle" fill="#3a3a3a">15</text>
<text transform="translate(462.70 115.00) scale(.1)" font-size="22" text-anchor="middle" fill="#3a3a3a">16</text>
<text transform="translate(465.79 111.59) scale(.1)" font-size="22" text-anchor="middle" fill="#3a3a3a">17</text>
<text transform="translate(469.20 108.98) scale(.1)" font-size="22" text-anchor="middle" fill="#3a3a3a">18</text>
<text transform="translate(472.45 107.23) scale(.1)" font-size="22" text-anchor="middle" fill="#3a3a3a">19</text>
<text transform="translate(475.55 106.10) scale(.1)" font-size="22" text-anchor="middle" fill="#3a3a3a">20</text>
<text transform="translate(478.47 105.43) scale(.1)" font-size="22" text-anchor="middle" fill="#3a3a3a">21</text>
<text transform="translate(481.12 105.14) scale(.1)" font-size="22" text-anchor="middle" fill="#3a3a3a">22</text>
<path d="M501.18 118.80A20.60 20.60 0 0 1 503.55 127.02" fill="none" stroke="#a8062c" stroke-width="5.00" />
<path d="M502.29 135.74A20.60 20.60 0 0 1 498.21 142.39" fill="none" stroke="#a8062c" stroke-width="5.00" />
<path d="M491.84 147.11A20.60 20.60 0 0 1 485.27 148.97" fill="none" stroke="#a8062c" stroke-width="5.00" />
<path d="M464.45 137.45A20.60 20.60 0 0 1 462.70 132.01" fill="none" stroke="#a8062c" stroke-width="5.00" />
<path d="M467.85 142.46A20.60 20.60 0 0 1 464.57 137.71" fill="none" stroke="#5ea330" stroke-width="5.00" />
<path d="M467.91 114.48A20.60 20.60 0 0 1 470.38 112.22" fill="none" stroke="#a8062c" stroke-width="5.00" />
<path d="M492.32 112.98L494.89 108.70" stroke="#f1ecf6" stroke-width="0.25" opacity="0.22"/>
<path d="M498.89 119.83L503.28 117.43" stroke="#f1ecf6" stroke-width="0.32" opacity="0.8"/>
<path d="M501.06 127.28L506.05 126.94" stroke="#f1ecf6" stroke-width="0.32" opacity="0.8"/>
<path d="M500.01 134.69L504.71 136.41" stroke="#f1ecf6" stroke-width="0.32" opacity="0.8"/>
<path d="M496.31 140.76L499.99 144.15" stroke="#f1ecf6" stroke-width="0.32" opacity="0.8"/>
<path d="M490.93 144.77L493.12 149.27" stroke="#f1ecf6" stroke-width="0.32" opacity="0.8"/>
<path d="M484.92 146.50L485.45 151.47" stroke="#f1ecf6" stroke-width="0.32" opacity="0.8"/>
<path d="M479.19 146.19L478.13 151.08" stroke="#f1ecf6" stroke-width="0.25" opacity="0.22"/>
<path d="M474.01 144.21L471.52 148.55" stroke="#f1ecf6" stroke-width="0.25" opacity="0.22"/>
<path d="M469.80 140.89L466.16 144.31" stroke="#f1ecf6" stroke-width="0.32" opacity="0.8"/>
<path d="M466.78 136.52L462.29 138.74" stroke="#f1ecf6" stroke-width="0.32" opacity="0.8"/>
<path d="M465.15 131.51L460.22 132.34" stroke="#f1ecf6" stroke-width="0.32" opacity="0.8"/>
<path d="M464.96 126.98L459.98 126.56" stroke="#f1ecf6" stroke-width="0.25" opacity="0.22"/>
<path d="M465.81 122.85L461.06 121.29" stroke="#f1ecf6" stroke-width="0.25" opacity="0.22"/>
<path d="M467.50 119.16L463.22 116.58" stroke="#f1ecf6" stroke-width="0.25" opacity="0.22"/>
<path d="M469.62 116.31L465.92 112.94" stroke="#f1ecf6" stroke-width="0.32" opacity="0.8"/>
<path d="M471.97 114.15L468.93 110.18" stroke="#f1ecf6" stroke-width="0.32" opacity="0.8"/>
<path d="M474.56 112.49L472.23 108.06" stroke="#f1ecf6" stroke-width="0.25" opacity="0.22"/>
<path d="M476.69 111.54L474.95 106.85" stroke="#f1ecf6" stroke-width="0.25" opacity="0.22"/>
<path d="M479.07 110.83L477.99 105.95" stroke="#f1ecf6" stroke-width="0.25" opacity="0.22"/>
<path d="M480.94 110.52L480.37 105.55" stroke="#f1ecf6" stroke-width="0.25" opacity="0.22"/>
<path d="M482.95 110.40L482.94 105.40" stroke="#f1ecf6" stroke-width="0.25" opacity="0.22"/>
<path d="M481.14 121.00A7.40 7.40 0 1 1 481.40 135.80" fill="none" stroke="#a8062c" stroke-width="2.5" />
<path d="M481.40 135.80A7.40 7.40 0 0 1 474.00 128.40" fill="none" stroke="#bfaed0" stroke-width="2.1" />
<text transform="translate(492.00 129.30) scale(.1)" font-size="20" text-anchor="middle" fill="#333">X</text>
<text transform="translate(474.00 136.00) scale(.1)" font-size="20" text-anchor="middle" fill="#333">Y</text>
<path d="M102.6 170V425" stroke="#000" stroke-width="1.2" stroke-dasharray="1.05 1.1" fill="none"/>
<text transform="translate(75.60 176.25) scale(.1)" font-size="63" text-anchor="middle" fill="#000" stroke="#000" stroke-width="0.4">MDS</text>
<text transform="translate(130.30 176.25) scale(.1)" font-size="63" text-anchor="middle" fill="#000" stroke="#000" stroke-width="0.4">AML</text>
<text transform="translate(13.03 215.10) rotate(-90.0) scale(.1)" font-size="62" text-anchor="middle" fill="#000" stroke="#000" stroke-width="0.4">Somatic mutations</text>
<text transform="translate(28.52 215.00) rotate(-90.0) scale(.1)" font-size="56" text-anchor="middle" fill="#000" textLength="560" lengthAdjust="spacingAndGlyphs" stroke="#000" stroke-width="1.3">Variant allele frequency (%)</text>
<text transform="translate(13.07 338.40) rotate(-90.0) scale(.1)" font-size="63" text-anchor="middle" fill="#000" stroke="#000" stroke-width="0.4">Cytogenetic clones</text>
<text transform="translate(42.60 242.55) scale(.1)" font-size="54" text-anchor="end" fill="#000" stroke="#000" stroke-width="1.0">0</text>
<text transform="translate(42.60 232.31) scale(.1)" font-size="54" text-anchor="end" fill="#000" stroke="#000" stroke-width="1.0">20</text>
<text transform="translate(42.60 222.07) scale(.1)" font-size="54" text-anchor="end" fill="#000" stroke="#000" stroke-width="1.0">40</text>
<text transform="translate(42.60 211.83) scale(.1)" font-size="54" text-anchor="end" fill="#000" stroke="#000" stroke-width="1.0">60</text>
<text transform="translate(42.60 201.59) scale(.1)" font-size="54" text-anchor="end" fill="#000" stroke="#000" stroke-width="1.0">80</text>
<text transform="translate(42.60 191.35) scale(.1)" font-size="54" text-anchor="end" fill="#000" stroke="#000" stroke-width="1.0">100</text>
<path d="M46.4 186.4V240.6H159.4" stroke="#1c1c1c" stroke-width="1.3" fill="none" stroke-linejoin="miter"/>
<path d="M80.00 199.64L126.60 213.21" stroke="#a8062c" stroke-width="0.85" fill="none"/>
<circle cx="80.00" cy="199.64" r="1.6" fill="#a8062c"/>
<circle cx="126.60" cy="213.21" r="1.6" fill="#a8062c"/>
<path d="M50.8 210.4H56.0" stroke="#e8921a" stroke-width="0.9"/>
<circle cx="53.4" cy="210.4" r="1.6" fill="#e8921a"/>
<text transform="translate(59.00 211.95) scale(.1)" font-size="44" text-anchor="start" fill="#2a2a2a" font-style="italic">NRAS G13D</text>
<path d="M50.8 217.2H56.0" stroke="#a8062c" stroke-width="0.9"/>
<circle cx="53.4" cy="217.2" r="1.6" fill="#a8062c"/>
<text transform="translate(59.00 218.75) scale(.1)" font-size="44" text-anchor="start" fill="#2a2a2a" font-style="italic">TP53 M246V</text>
<circle cx="126.6" cy="240.4" r="1.5" fill="#e8921a"/>
<circle cx="71.5" cy="276" r="20.30" fill="none" stroke="#c7bad4" stroke-width="4.60"/>
<text transform="translate(78.01 253.99) scale(.1)" font-size="22" text-anchor="middle" fill="#3a3a3a">1</text>
<text transform="translate(89.04 260.60) scale(.1)" font-size="22" text-anchor="middle" fill="#3a3a3a">2</text>
<text transform="translate(94.80 270.63) scale(.1)" font-size="22" text-anchor="middle" fill="#3a3a3a">3</text>
<text transform="translate(95.50 280.82) scale(.1)" font-size="22" text-anchor="middle" fill="#3a3a3a">4</text>
<text transform="translate(92.18 290.01) scale(.1)" font-size="22" text-anchor="middle" fill="#3a3a3a">5</text>
<text transform="translate(85.93 296.84) scale(.1)" font-size="22" text-anchor="middle" fill="#3a3a3a">6</text>
<text transform="translate(78.14 300.67) scale(.1)" font-size="22" text-anchor="middle" fill="#3a3a3a">7</text>
<text transform="translate(70.15 301.56) scale(.1)" font-size="22" text-anchor="middle" fill="#3a3a3a">8</text>
<text transform="translate(62.76 299.97) scale(.1)" font-size="22" text-anchor="middle" fill="#3a3a3a">9</text>
<text transform="translate(55.92 296.34) scale(.1)" font-size="22" text-anchor="middle" fill="#3a3a3a">10</text>
<text transform="translate(51.04 291.12) scale(.1)" font-size="22" text-anchor="middle" fill="#3a3a3a">11</text>
<text transform="translate(47.91 284.76) scale(.1)" font-size="22" text-anchor="middle" fill="#3a3a3a">12</text>
<text transform="translate(46.77 278.29) scale(.1)" font-size="22" text-anchor="middle" fill="#3a3a3a">13</text>
<text transform="translate(47.25 272.45) scale(.1)" font-size="22" text-anchor="middle" fill="#3a3a3a">14</text>
<text transform="translate(48.98 267.18) scale(.1)" font-size="22" text-anchor="middle" fill="#3a3a3a">15</text>
<text transform="translate(51.60 262.80) scale(.1)" font-size="22" text-anchor="middle" fill="#3a3a3a">16</text>
<text transform="translate(54.63 259.46) scale(.1)" font-size="22" text-anchor="middle" fill="#3a3a3a">17</text>
<text transform="translate(57.97 256.90) scale(.1)" font-size="22" text-anchor="middle" fill="#3a3a3a">18</text>
<text transform="translate(61.16 255.19) scale(.1)" font-size="22" text-anchor="middle" fill="#3a3a3a">19</text>
<text transform="translate(64.19 254.08) scale(.1)" font-size="22" text-anchor="middle" fill="#3a3a3a">20</text>
<text transform="translate(67.05 253.42) scale(.1)" font-size="22" text-anchor="middle" fill="#3a3a3a">21</text>
<text transform="translate(69.65 253.14) scale(.1)" font-size="22" text-anchor="middle" fill="#3a3a3a">22</text>
<path d="M69.39 255.81A20.30 20.30 0 0 1 71.36 255.70" fill="none" stroke="#213f7b" stroke-width="4.60" />
<path d="M62.21 257.95A20.30 20.30 0 0 1 64.34 257.01" fill="none" stroke="#213f7b" stroke-width="4.60" />
<path d="M64.60 256.91A20.30 20.30 0 0 1 67.01 256.20" fill="none" stroke="#213f7b" stroke-width="4.60" />
<path d="M56.63 262.19A20.30 20.30 0 0 1 59.06 259.96" fill="none" stroke="#a8062c" stroke-width="4.60" />
<path d="M51.45 279.18A20.30 20.30 0 0 1 51.26 274.38" fill="none" stroke="#213f7b" stroke-width="4.60" />
<path d="M61.24 293.52A20.30 20.30 0 0 1 56.76 289.96" fill="none" stroke="#a8062c" stroke-width="4.60" />
<path d="M56.57 289.75A20.30 20.30 0 0 1 53.34 285.08" fill="none" stroke="#a8062c" stroke-width="4.60" />
<path d="M90.51 283.13A20.30 20.30 0 0 1 86.49 289.69" fill="none" stroke="#213f7b" stroke-width="4.60" />
<path d="M80.77 260.57L83.14 256.63" stroke="#f1ecf6" stroke-width="0.25" opacity="0.22"/>
<path d="M87.30 267.38L91.34 265.17" stroke="#f1ecf6" stroke-width="0.25" opacity="0.22"/>
<path d="M89.46 274.79L94.05 274.47" stroke="#f1ecf6" stroke-width="0.25" opacity="0.22"/>
<path d="M88.41 282.16L92.74 283.73" stroke="#f1ecf6" stroke-width="0.32" opacity="0.8"/>
<path d="M84.74 288.19L88.12 291.31" stroke="#f1ecf6" stroke-width="0.32" opacity="0.8"/>
<path d="M79.38 292.18L81.40 296.32" stroke="#f1ecf6" stroke-width="0.25" opacity="0.22"/>
<path d="M73.41 293.90L73.90 298.47" stroke="#f1ecf6" stroke-width="0.25" opacity="0.22"/>
<path d="M67.71 293.60L66.74 298.09" stroke="#f1ecf6" stroke-width="0.25" opacity="0.22"/>
<path d="M62.56 291.62L60.27 295.61" stroke="#f1ecf6" stroke-width="0.32" opacity="0.8"/>
<path d="M58.38 288.32L55.02 291.47" stroke="#f1ecf6" stroke-width="0.32" opacity="0.8"/>
<path d="M55.37 283.98L51.24 286.02" stroke="#f1ecf6" stroke-width="0.32" opacity="0.8"/>
<path d="M53.75 278.99L49.21 279.75" stroke="#f1ecf6" stroke-width="0.32" opacity="0.8"/>
<path d="M53.56 274.49L48.98 274.10" stroke="#f1ecf6" stroke-width="0.32" opacity="0.8"/>
<path d="M54.40 270.38L50.03 268.94" stroke="#f1ecf6" stroke-width="0.25" opacity="0.22"/>
<path d="M56.08 266.71L52.14 264.33" stroke="#f1ecf6" stroke-width="0.25" opacity="0.22"/>
<path d="M58.19 263.88L54.79 260.78" stroke="#f1ecf6" stroke-width="0.32" opacity="0.8"/>
<path d="M60.53 261.73L57.73 258.08" stroke="#f1ecf6" stroke-width="0.32" opacity="0.8"/>
<path d="M63.11 260.08L60.97 256.01" stroke="#f1ecf6" stroke-width="0.32" opacity="0.8"/>
<path d="M65.22 259.13L63.62 254.82" stroke="#f1ecf6" stroke-width="0.32" opacity="0.8"/>
<path d="M67.60 258.43L66.60 253.94" stroke="#f1ecf6" stroke-width="0.32" opacity="0.8"/>
<path d="M69.45 258.12L68.93 253.55" stroke="#f1ecf6" stroke-width="0.32" opacity="0.8"/>
<path d="M71.45 258.00L71.44 253.40" stroke="#f1ecf6" stroke-width="0.32" opacity="0.8"/>
<path d="M71.17 266.61A9.40 9.40 0 0 1 80.22 272.48" fill="none" stroke="#bfaed0" stroke-width="1.5" />
<path d="M70.75 270.47A5.15 5.15 0 1 1 65.16 275.96" fill="none" stroke="#bfaed0" stroke-width="1.6" />
<circle cx="78.90" cy="283.70" r="3.3" fill="none" stroke="#bfaed0" stroke-width="0.9"/>
<text transform="translate(78.30 276.50) scale(.1)" font-size="20" text-anchor="middle" fill="#333">X</text>
<text transform="translate(64.50 281.30) scale(.1)" font-size="20" text-anchor="middle" fill="#333">Y</text>
<path d="M59.57 262.52Q63.85 264.45 63.75 259.75" stroke="#1a1a1a" stroke-width="0.75" fill="none"/>
<circle cx="134.5" cy="276" r="20.30" fill="none" stroke="#c7bad4" stroke-width="4.60"/>
<text transform="translate(141.01 253.99) scale(.1)" font-size="22" text-anchor="middle" fill="#3a3a3a">1</text>
<text transform="translate(152.04 260.60) scale(.1)" font-size="22" text-anchor="middle" fill="#3a3a3a">2</text>
<text transform="translate(157.80 270.63) scale(.1)" font-size="22" text-anchor="middle" fill="#3a3a3a">3</text>
<text transform="translate(158.50 280.82) scale(.1)" font-size="22" text-anchor="middle" fill="#3a3a3a">4</text>
<text transform="translate(155.18 290.01) scale(.1)" font-size="22" text-anchor="middle" fill="#3a3a3a">5</text>
<text transform="translate(148.93 296.84) scale(.1)" font-size="22" text-anchor="middle" fill="#3a3a3a">6</text>
<text transform="translate(141.14 300.67) scale(.1)" font-size="22" text-anchor="middle" fill="#3a3a3a">7</text>
<text transform="translate(133.15 301.56) scale(.1)" font-size="22" text-anchor="middle" fill="#3a3a3a">8</text>
<text transform="translate(125.76 299.97) scale(.1)" font-size="22" text-anchor="middle" fill="#3a3a3a">9</text>
<text transform="translate(118.92 296.34) scale(.1)" font-size="22" text-anchor="middle" fill="#3a3a3a">10</text>
<text transform="translate(114.04 291.12) scale(.1)" font-size="22" text-anchor="middle" fill="#3a3a3a">11</text>
<text transform="translate(110.91 284.76) scale(.1)" font-size="22" text-anchor="middle" fill="#3a3a3a">12</text>
<text transform="translate(109.77 278.29) scale(.1)" font-size="22" text-anchor="middle" fill="#3a3a3a">13</text>
<text transform="translate(110.25 272.45) scale(.1)" font-size="22" text-anchor="middle" fill="#3a3a3a">14</text>
<text transform="translate(111.98 267.18) scale(.1)" font-size="22" text-anchor="middle" fill="#3a3a3a">15</text>
<text transform="translate(114.60 262.80) scale(.1)" font-size="22" text-anchor="middle" fill="#3a3a3a">16</text>
<text transform="translate(117.63 259.46) scale(.1)" font-size="22" text-anchor="middle" fill="#3a3a3a">17</text>
<text transform="translate(120.97 256.90) scale(.1)" font-size="22" text-anchor="middle" fill="#3a3a3a">18</text>
<text transform="translate(124.16 255.19) scale(.1)" font-size="22" text-anchor="middle" fill="#3a3a3a">19</text>
<text transform="translate(127.19 254.08) scale(.1)" font-size="22" text-anchor="middle" fill="#3a3a3a">20</text>
<text transform="translate(130.05 253.42) scale(.1)" font-size="22" text-anchor="middle" fill="#3a3a3a">21</text>
<text transform="translate(132.65 253.14) scale(.1)" font-size="22" text-anchor="middle" fill="#3a3a3a">22</text>
<path d="M125.21 257.95A20.30 20.30 0 0 1 127.34 257.01" fill="none" stroke="#5ea330" stroke-width="4.60" />
<path d="M127.60 256.91A20.30 20.30 0 0 1 130.01 256.20" fill="none" stroke="#213f7b" stroke-width="4.60" />
<path d="M145.12 258.70A20.30 20.30 0 0 1 152.28 266.20" fill="none" stroke="#213f7b" stroke-width="4.60" />
<path d="M153.51 283.13A20.30 20.30 0 0 1 149.49 289.69" fill="none" stroke="#213f7b" stroke-width="4.60" />
<path d="M124.24 293.52A20.30 20.30 0 0 1 119.76 289.96" fill="none" stroke="#a8062c" stroke-width="4.60" />
<path d="M143.77 260.57L146.14 256.63" stroke="#f1ecf6" stroke-width="0.32" opacity="0.8"/>
<path d="M150.30 267.38L154.34 265.17" stroke="#f1ecf6" stroke-width="0.32" opacity="0.8"/>
<path d="M152.46 274.79L157.05 274.47" stroke="#f1ecf6" stroke-width="0.25" opacity="0.22"/>
<path d="M151.41 282.16L155.74 283.73" stroke="#f1ecf6" stroke-width="0.32" opacity="0.8"/>
<path d="M147.74 288.19L151.12 291.31" stroke="#f1ecf6" stroke-width="0.32" opacity="0.8"/>
<path d="M142.38 292.18L144.40 296.32" stroke="#f1ecf6" stroke-width="0.25" opacity="0.22"/>
<path d="M136.41 293.90L136.90 298.47" stroke="#f1ecf6" stroke-width="0.25" opacity="0.22"/>
<path d="M130.71 293.60L129.74 298.09" stroke="#f1ecf6" stroke-width="0.25" opacity="0.22"/>
<path d="M125.56 291.62L123.27 295.61" stroke="#f1ecf6" stroke-width="0.32" opacity="0.8"/>
<path d="M121.38 288.32L118.02 291.47" stroke="#f1ecf6" stroke-width="0.32" opacity="0.8"/>
<path d="M118.37 283.98L114.24 286.02" stroke="#f1ecf6" stroke-width="0.25" opacity="0.22"/>
<path d="M116.75 278.99L112.21 279.75" stroke="#f1ecf6" stroke-width="0.25" opacity="0.22"/>
<path d="M116.56 274.49L111.98 274.10" stroke="#f1ecf6" stroke-width="0.25" opacity="0.22"/>
<path d="M117.40 270.38L113.03 268.94" stroke="#f1ecf6" stroke-width="0.25" opacity="0.22"/>
<path d="M119.08 266.71L115.14 264.33" stroke="#f1ecf6" stroke-width="0.25" opacity="0.22"/>
<path d="M121.19 263.88L117.79 260.78" stroke="#f1ecf6" stroke-width="0.25" opacity="0.22"/>
<path d="M123.53 261.73L120.73 258.08" stroke="#f1ecf6" stroke-width="0.25" opacity="0.22"/>
<path d="M126.11 260.08L123.97 256.01" stroke="#f1ecf6" stroke-width="0.32" opacity="0.8"/>
<path d="M128.22 259.13L126.62 254.82" stroke="#f1ecf6" stroke-width="0.32" opacity="0.8"/>
<path d="M130.60 258.43L129.60 253.94" stroke="#f1ecf6" stroke-width="0.32" opacity="0.8"/>
<path d="M132.45 258.12L131.93 253.55" stroke="#f1ecf6" stroke-width="0.25" opacity="0.22"/>
<path d="M134.45 258.00L134.44 253.40" stroke="#f1ecf6" stroke-width="0.25" opacity="0.22"/>
<path d="M134.17 266.61A9.40 9.40 0 0 1 143.22 272.48" fill="none" stroke="#bfaed0" stroke-width="1.5" />
<path d="M133.75 270.47A5.15 5.15 0 0 1 133.21 280.75" fill="none" stroke="#bfaed0" stroke-width="1.6" />
<path d="M133.21 280.75A5.15 5.15 0 0 1 128.15 275.78" fill="none" stroke="#a8062c" stroke-width="1.95" />
<text transform="translate(141.30 276.50) scale(.1)" font-size="20" text-anchor="middle" fill="#333">X</text>
<text transform="translate(127.50 281.30) scale(.1)" font-size="20" text-anchor="middle" fill="#333">Y</text>
<path d="M122.57 262.52Q126.85 264.45 126.75 259.75" stroke="#1a1a1a" stroke-width="0.75" fill="none"/>
<circle cx="71.5" cy="338.7" r="20.30" fill="none" stroke="#c7bad4" stroke-width="4.60"/>
<text transform="translate(78.01 316.69) scale(.1)" font-size="22" text-anchor="middle" fill="#3a3a3a">1</text>
<text transform="translate(89.04 323.30) scale(.1)" font-size="22" text-anchor="middle" fill="#3a3a3a">2</text>
<text transform="translate(94.80 333.33) scale(.1)" font-size="22" text-anchor="middle" fill="#3a3a3a">3</text>
<text transform="translate(95.50 343.52) scale(.1)" font-size="22" text-anchor="middle" fill="#3a3a3a">4</text>
<text transform="translate(92.18 352.71) scale(.1)" font-size="22" text-anchor="middle" fill="#3a3a3a">5</text>
<text transform="translate(85.93 359.54) scale(.1)" font-size="22" text-anchor="middle" fill="#3a3a3a">6</text>
<text transform="translate(78.14 363.37) scale(.1)" font-size="22" text-anchor="middle" fill="#3a3a3a">7</text>
<text transform="translate(70.15 364.26) scale(.1)" font-size="22" text-anchor="middle" fill="#3a3a3a">8</text>
<text transform="translate(62.76 362.67) scale(.1)" font-size="22" text-anchor="middle" fill="#3a3a3a">9</text>
<text transform="translate(55.92 359.04) scale(.1)" font-size="22" text-anchor="middle" fill="#3a3a3a">10</text>
<text transform="translate(51.04 353.82) scale(.1)" font-size="22" text-anchor="middle" fill="#3a3a3a">11</text>
<text transform="translate(47.91 347.46) scale(.1)" font-size="22" text-anchor="middle" fill="#3a3a3a">12</text>
<text transform="translate(46.77 340.99) scale(.1)" font-size="22" text-anchor="middle" fill="#3a3a3a">13</text>
<text transform="translate(47.25 335.15) scale(.1)" font-size="22" text-anchor="middle" fill="#3a3a3a">14</text>
<text transform="translate(48.98 329.88) scale(.1)" font-size="22" text-anchor="middle" fill="#3a3a3a">15</text>
<text transform="translate(51.60 325.50) scale(.1)" font-size="22" text-anchor="middle" fill="#3a3a3a">16</text>
<text transform="translate(54.63 322.16) scale(.1)" font-size="22" text-anchor="middle" fill="#3a3a3a">17</text>
<text transform="translate(57.97 319.60) scale(.1)" font-size="22" text-anchor="middle" fill="#3a3a3a">18</text>
<text transform="translate(61.16 317.89) scale(.1)" font-size="22" text-anchor="middle" fill="#3a3a3a">19</text>
<text transform="translate(64.19 316.78) scale(.1)" font-size="22" text-anchor="middle" fill="#3a3a3a">20</text>
<text transform="translate(67.05 316.12) scale(.1)" font-size="22" text-anchor="middle" fill="#3a3a3a">21</text>
<text transform="translate(69.65 315.84) scale(.1)" font-size="22" text-anchor="middle" fill="#3a3a3a">22</text>
<path d="M62.21 320.65A20.30 20.30 0 0 1 64.34 319.71" fill="none" stroke="#213f7b" stroke-width="4.60" />
<path d="M64.60 319.61A20.30 20.30 0 0 1 67.01 318.90" fill="none" stroke="#213f7b" stroke-width="4.60" />
<path d="M56.63 324.89A20.30 20.30 0 0 1 59.06 322.66" fill="none" stroke="#a8062c" stroke-width="4.60" />
<path d="M51.45 341.88A20.30 20.30 0 0 1 51.26 337.08" fill="none" stroke="#213f7b" stroke-width="4.60" />
<path d="M61.24 356.22A20.30 20.30 0 0 1 56.76 352.66" fill="none" stroke="#a8062c" stroke-width="4.60" />
<path d="M56.57 352.45A20.30 20.30 0 0 1 53.34 347.78" fill="none" stroke="#a8062c" stroke-width="4.60" />
<path d="M90.51 345.83A20.30 20.30 0 0 1 86.49 352.39" fill="none" stroke="#213f7b" stroke-width="4.60" />
<path d="M80.77 323.27L83.14 319.33" stroke="#f1ecf6" stroke-width="0.25" opacity="0.22"/>
<path d="M87.30 330.08L91.34 327.87" stroke="#f1ecf6" stroke-width="0.25" opacity="0.22"/>
<path d="M89.46 337.49L94.05 337.17" stroke="#f1ecf6" stroke-width="0.25" opacity="0.22"/>
<path d="M88.41 344.86L92.74 346.43" stroke="#f1ecf6" stroke-width="0.32" opacity="0.8"/>
<path d="M84.74 350.89L88.12 354.01" stroke="#f1ecf6" stroke-width="0.32" opacity="0.8"/>
<path d="M79.38 354.88L81.40 359.02" stroke="#f1ecf6" stroke-width="0.25" opacity="0.22"/>
<path d="M73.41 356.60L73.90 361.17" stroke="#f1ecf6" stroke-width="0.25" opacity="0.22"/>
<path d="M67.71 356.30L66.74 360.79" stroke="#f1ecf6" stroke-width="0.25" opacity="0.22"/>
<path d="M62.56 354.32L60.27 358.31" stroke="#f1ecf6" stroke-width="0.32" opacity="0.8"/>
<path d="M58.38 351.02L55.02 354.17" stroke="#f1ecf6" stroke-width="0.32" opacity="0.8"/>
<path d="M55.37 346.68L51.24 348.72" stroke="#f1ecf6" stroke-width="0.32" opacity="0.8"/>
<path d="M53.75 341.69L49.21 342.45" stroke="#f1ecf6" stroke-width="0.32" opacity="0.8"/>
<path d="M53.56 337.19L48.98 336.80" stroke="#f1ecf6" stroke-width="0.32" opacity="0.8"/>
<path d="M54.40 333.08L50.03 331.64" stroke="#f1ecf6" stroke-width="0.25" opacity="0.22"/>
<path d="M56.08 329.41L52.14 327.03" stroke="#f1ecf6" stroke-width="0.25" opacity="0.22"/>
<path d="M58.19 326.58L54.79 323.48" stroke="#f1ecf6" stroke-width="0.32" opacity="0.8"/>
<path d="M60.53 324.43L57.73 320.78" stroke="#f1ecf6" stroke-width="0.32" opacity="0.8"/>
<path d="M63.11 322.78L60.97 318.71" stroke="#f1ecf6" stroke-width="0.32" opacity="0.8"/>
<path d="M65.22 321.83L63.62 317.52" stroke="#f1ecf6" stroke-width="0.32" opacity="0.8"/>
<path d="M67.60 321.13L66.60 316.64" stroke="#f1ecf6" stroke-width="0.32" opacity="0.8"/>
<path d="M69.45 320.82L68.93 316.25" stroke="#f1ecf6" stroke-width="0.25" opacity="0.22"/>
<path d="M71.45 320.70L71.44 316.10" stroke="#f1ecf6" stroke-width="0.25" opacity="0.22"/>
<path d="M71.17 329.31A9.40 9.40 0 0 1 80.22 335.18" fill="none" stroke="#bfaed0" stroke-width="1.5" />
<path d="M70.75 333.17A5.15 5.15 0 1 1 65.16 338.66" fill="none" stroke="#bfaed0" stroke-width="1.6" />
<text transform="translate(78.30 339.20) scale(.1)" font-size="20" text-anchor="middle" fill="#333">X</text>
<text transform="translate(64.50 344.00) scale(.1)" font-size="20" text-anchor="middle" fill="#333">Y</text>
<path d="M59.57 325.22Q63.85 327.15 63.75 322.45" stroke="#1a1a1a" stroke-width="0.75" fill="none"/>
<circle cx="134.5" cy="338.7" r="20.30" fill="none" stroke="#c7bad4" stroke-width="4.60"/>
<text transform="translate(141.01 316.69) scale(.1)" font-size="22" text-anchor="middle" fill="#3a3a3a">1</text>
<text transform="translate(152.04 323.30) scale(.1)" font-size="22" text-anchor="middle" fill="#3a3a3a">2</text>
<text transform="translate(157.80 333.33) scale(.1)" font-size="22" text-anchor="middle" fill="#3a3a3a">3</text>
<text transform="translate(158.50 343.52) scale(.1)" font-size="22" text-anchor="middle" fill="#3a3a3a">4</text>
<text transform="translate(155.18 352.71) scale(.1)" font-size="22" text-anchor="middle" fill="#3a3a3a">5</text>
<text transform="translate(148.93 359.54) scale(.1)" font-size="22" text-anchor="middle" fill="#3a3a3a">6</text>
<text transform="translate(141.14 363.37) scale(.1)" font-size="22" text-anchor="middle" fill="#3a3a3a">7</text>
<text transform="translate(133.15 364.26) scale(.1)" font-size="22" text-anchor="middle" fill="#3a3a3a">8</text>
<text transform="translate(125.76 362.67) scale(.1)" font-size="22" text-anchor="middle" fill="#3a3a3a">9</text>
<text transform="translate(118.92 359.04) scale(.1)" font-size="22" text-anchor="middle" fill="#3a3a3a">10</text>
<text transform="translate(114.04 353.82) scale(.1)" font-size="22" text-anchor="middle" fill="#3a3a3a">11</text>
<text transform="translate(110.91 347.46) scale(.1)" font-size="22" text-anchor="middle" fill="#3a3a3a">12</text>
<text transform="translate(109.77 340.99) scale(.1)" font-size="22" text-anchor="middle" fill="#3a3a3a">13</text>
<text transform="translate(110.25 335.15) scale(.1)" font-size="22" text-anchor="middle" fill="#3a3a3a">14</text>
<text transform="translate(111.98 329.88) scale(.1)" font-size="22" text-anchor="middle" fill="#3a3a3a">15</text>
<text transform="translate(114.60 325.50) scale(.1)" font-size="22" text-anchor="middle" fill="#3a3a3a">16</text>
<text transform="translate(117.63 322.16) scale(.1)" font-size="22" text-anchor="middle" fill="#3a3a3a">17</text>
<text transform="translate(120.97 319.60) scale(.1)" font-size="22" text-anchor="middle" fill="#3a3a3a">18</text>
<text transform="translate(124.16 317.89) scale(.1)" font-size="22" text-anchor="middle" fill="#3a3a3a">19</text>
<text transform="translate(127.19 316.78) scale(.1)" font-size="22" text-anchor="middle" fill="#3a3a3a">20</text>
<text transform="translate(130.05 316.12) scale(.1)" font-size="22" text-anchor="middle" fill="#3a3a3a">21</text>
<text transform="translate(132.65 315.84) scale(.1)" font-size="22" text-anchor="middle" fill="#3a3a3a">22</text>
<path d="M125.21 320.65A20.30 20.30 0 0 1 127.34 319.71" fill="none" stroke="#213f7b" stroke-width="4.60" />
<path d="M127.60 319.61A20.30 20.30 0 0 1 130.01 318.90" fill="none" stroke="#213f7b" stroke-width="4.60" />
<path d="M119.63 324.89A20.30 20.30 0 0 1 122.06 322.66" fill="none" stroke="#a8062c" stroke-width="4.60" />
<path d="M114.45 341.88A20.30 20.30 0 0 1 114.26 337.08" fill="none" stroke="#213f7b" stroke-width="4.60" />
<path d="M124.24 356.22A20.30 20.30 0 0 1 119.76 352.66" fill="none" stroke="#a8062c" stroke-width="4.60" />
<path d="M153.51 345.83A20.30 20.30 0 0 1 149.49 352.39" fill="none" stroke="#213f7b" stroke-width="4.60" />
<path d="M143.77 323.27L146.14 319.33" stroke="#f1ecf6" stroke-width="0.25" opacity="0.22"/>
<path d="M150.30 330.08L154.34 327.87" stroke="#f1ecf6" stroke-width="0.25" opacity="0.22"/>
<path d="M152.46 337.49L157.05 337.17" stroke="#f1ecf6" stroke-width="0.25" opacity="0.22"/>
<path d="M151.41 344.86L155.74 346.43" stroke="#f1ecf6" stroke-width="0.32" opacity="0.8"/>
<path d="M147.74 350.89L151.12 354.01" stroke="#f1ecf6" stroke-width="0.32" opacity="0.8"/>
<path d="M142.38 354.88L144.40 359.02" stroke="#f1ecf6" stroke-width="0.25" opacity="0.22"/>
<path d="M136.41 356.60L136.90 361.17" stroke="#f1ecf6" stroke-width="0.25" opacity="0.22"/>
<path d="M130.71 356.30L129.74 360.79" stroke="#f1ecf6" stroke-width="0.25" opacity="0.22"/>
<path d="M125.56 354.32L123.27 358.31" stroke="#f1ecf6" stroke-width="0.32" opacity="0.8"/>
<path d="M121.38 351.02L118.02 354.17" stroke="#f1ecf6" stroke-width="0.32" opacity="0.8"/>
<path d="M118.37 346.68L114.24 348.72" stroke="#f1ecf6" stroke-width="0.25" opacity="0.22"/>
<path d="M116.75 341.69L112.21 342.45" stroke="#f1ecf6" stroke-width="0.32" opacity="0.8"/>
<path d="M116.56 337.19L111.98 336.80" stroke="#f1ecf6" stroke-width="0.32" opacity="0.8"/>
<path d="M117.40 333.08L113.03 331.64" stroke="#f1ecf6" stroke-width="0.25" opacity="0.22"/>
<path d="M119.08 329.41L115.14 327.03" stroke="#f1ecf6" stroke-width="0.25" opacity="0.22"/>
<path d="M121.19 326.58L117.79 323.48" stroke="#f1ecf6" stroke-width="0.32" opacity="0.8"/>
<path d="M123.53 324.43L120.73 320.78" stroke="#f1ecf6" stroke-width="0.32" opacity="0.8"/>
<path d="M126.11 322.78L123.97 318.71" stroke="#f1ecf6" stroke-width="0.32" opacity="0.8"/>
<path d="M128.22 321.83L126.62 317.52" stroke="#f1ecf6" stroke-width="0.32" opacity="0.8"/>
<path d="M130.60 321.13L129.60 316.64" stroke="#f1ecf6" stroke-width="0.32" opacity="0.8"/>
<path d="M132.45 320.82L131.93 316.25" stroke="#f1ecf6" stroke-width="0.25" opacity="0.22"/>
<path d="M134.45 320.70L134.44 316.10" stroke="#f1ecf6" stroke-width="0.25" opacity="0.22"/>
<path d="M134.17 329.31A9.40 9.40 0 0 1 143.22 335.18" fill="none" stroke="#bfaed0" stroke-width="1.5" />
<path d="M133.75 333.17A5.15 5.15 0 0 1 133.21 343.45" fill="none" stroke="#bfaed0" stroke-width="1.6" />
<path d="M133.21 343.45A5.15 5.15 0 0 1 128.15 338.48" fill="none" stroke="#a8062c" stroke-width="1.95" />
<text transform="translate(141.30 339.20) scale(.1)" font-size="20" text-anchor="middle" fill="#333">X</text>
<text transform="translate(127.50 344.00) scale(.1)" font-size="20" text-anchor="middle" fill="#333">Y</text>
<path d="M122.57 325.22Q126.85 327.15 126.75 322.45" stroke="#1a1a1a" stroke-width="0.75" fill="none"/>
<circle cx="71.5" cy="399" r="20.30" fill="none" stroke="#c7bad4" stroke-width="4.60"/>
<text transform="translate(78.01 376.99) scale(.1)" font-size="22" text-anchor="middle" fill="#3a3a3a">1</text>
<text transform="translate(89.04 383.60) scale(.1)" font-size="22" text-anchor="middle" fill="#3a3a3a">2</text>
<text transform="translate(94.80 393.63) scale(.1)" font-size="22" text-anchor="middle" fill="#3a3a3a">3</text>
<text transform="translate(95.50 403.82) scale(.1)" font-size="22" text-anchor="middle" fill="#3a3a3a">4</text>
<text transform="translate(92.18 413.01) scale(.1)" font-size="22" text-anchor="middle" fill="#3a3a3a">5</text>
<text transform="translate(85.93 419.84) scale(.1)" font-size="22" text-anchor="middle" fill="#3a3a3a">6</text>
<text transform="translate(78.14 423.67) scale(.1)" font-size="22" text-anchor="middle" fill="#3a3a3a">7</text>
<text transform="translate(70.15 424.56) scale(.1)" font-size="22" text-anchor="middle" fill="#3a3a3a">8</text>
<text transform="translate(62.76 422.97) scale(.1)" font-size="22" text-anchor="middle" fill="#3a3a3a">9</text>
<text transform="translate(55.92 419.34) scale(.1)" font-size="22" text-anchor="middle" fill="#3a3a3a">10</text>
<text transform="translate(51.04 414.12) scale(.1)" font-size="22" text-anchor="middle" fill="#3a3a3a">11</text>
<text transform="translate(47.91 407.76) scale(.1)" font-size="22" text-anchor="middle" fill="#3a3a3a">12</text>
<text transform="translate(46.77 401.29) scale(.1)" font-size="22" text-anchor="middle" fill="#3a3a3a">13</text>
<text transform="translate(47.25 395.45) scale(.1)" font-size="22" text-anchor="middle" fill="#3a3a3a">14</text>
<text transform="translate(48.98 390.18) scale(.1)" font-size="22" text-anchor="middle" fill="#3a3a3a">15</text>
<text transform="translate(51.60 385.80) scale(.1)" font-size="22" text-anchor="middle" fill="#3a3a3a">16</text>
<text transform="translate(54.63 382.46) scale(.1)" font-size="22" text-anchor="middle" fill="#3a3a3a">17</text>
<text transform="translate(57.97 379.90) scale(.1)" font-size="22" text-anchor="middle" fill="#3a3a3a">18</text>
<text transform="translate(61.16 378.19) scale(.1)" font-size="22" text-anchor="middle" fill="#3a3a3a">19</text>
<text transform="translate(64.19 377.08) scale(.1)" font-size="22" text-anchor="middle" fill="#3a3a3a">20</text>
<text transform="translate(67.05 376.42) scale(.1)" font-size="22" text-anchor="middle" fill="#3a3a3a">21</text>
<text transform="translate(69.65 376.14) scale(.1)" font-size="22" text-anchor="middle" fill="#3a3a3a">22</text>
<path d="M69.39 378.81A20.30 20.30 0 0 1 71.36 378.70" fill="none" stroke="#213f7b" stroke-width="4.60" />
<path d="M62.21 380.95A20.30 20.30 0 0 1 64.34 380.01" fill="none" stroke="#213f7b" stroke-width="4.60" />
<path d="M64.60 379.91A20.30 20.30 0 0 1 67.01 379.20" fill="none" stroke="#213f7b" stroke-width="4.60" />
<path d="M56.63 385.19A20.30 20.30 0 0 1 59.06 382.96" fill="none" stroke="#a8062c" stroke-width="4.60" />
<path d="M51.45 402.18A20.30 20.30 0 0 1 51.26 397.38" fill="none" stroke="#213f7b" stroke-width="4.60" />
<path d="M61.24 416.52A20.30 20.30 0 0 1 56.76 412.96" fill="none" stroke="#a8062c" stroke-width="4.60" />
<path d="M56.57 412.75A20.30 20.30 0 0 1 53.34 408.08" fill="none" stroke="#a8062c" stroke-width="4.60" />
<path d="M90.51 406.13A20.30 20.30 0 0 1 86.49 412.69" fill="none" stroke="#213f7b" stroke-width="4.60" />
<path d="M80.77 383.57L83.14 379.63" stroke="#f1ecf6" stroke-width="0.25" opacity="0.22"/>
<path d="M87.30 390.38L91.34 388.17" stroke="#f1ecf6" stroke-width="0.25" opacity="0.22"/>
<path d="M89.46 397.79L94.05 397.47" stroke="#f1ecf6" stroke-width="0.25" opacity="0.22"/>
<path d="M88.41 405.16L92.74 406.73" stroke="#f1ecf6" stroke-width="0.32" opacity="0.8"/>
<path d="M84.74 411.19L88.12 414.31" stroke="#f1ecf6" stroke-width="0.32" opacity="0.8"/>
<path d="M79.38 415.18L81.40 419.32" stroke="#f1ecf6" stroke-width="0.25" opacity="0.22"/>
<path d="M73.41 416.90L73.90 421.47" stroke="#f1ecf6" stroke-width="0.25" opacity="0.22"/>
<path d="M67.71 416.60L66.74 421.09" stroke="#f1ecf6" stroke-width="0.25" opacity="0.22"/>
<path d="M62.56 414.62L60.27 418.61" stroke="#f1ecf6" stroke-width="0.32" opacity="0.8"/>
<path d="M58.38 411.32L55.02 414.47" stroke="#f1ecf6" stroke-width="0.32" opacity="0.8"/>
<path d="M55.37 406.98L51.24 409.02" stroke="#f1ecf6" stroke-width="0.32" opacity="0.8"/>
<path d="M53.75 401.99L49.21 402.75" stroke="#f1ecf6" stroke-width="0.32" opacity="0.8"/>
<path d="M53.56 397.49L48.98 397.10" stroke="#f1ecf6" stroke-width="0.32" opacity="0.8"/>
<path d="M54.40 393.38L50.03 391.94" stroke="#f1ecf6" stroke-width="0.25" opacity="0.22"/>
<path d="M56.08 389.71L52.14 387.33" stroke="#f1ecf6" stroke-width="0.25" opacity="0.22"/>
<path d="M58.19 386.88L54.79 383.78" stroke="#f1ecf6" stroke-width="0.32" opacity="0.8"/>
<path d="M60.53 384.73L57.73 381.08" stroke="#f1ecf6" stroke-width="0.32" opacity="0.8"/>
<path d="M63.11 383.08L60.97 379.01" stroke="#f1ecf6" stroke-width="0.32" opacity="0.8"/>
<path d="M65.22 382.13L63.62 377.82" stroke="#f1ecf6" stroke-width="0.32" opacity="0.8"/>
<path d="M67.60 381.43L66.60 376.94" stroke="#f1ecf6" stroke-width="0.32" opacity="0.8"/>
<path d="M69.45 381.12L68.93 376.55" stroke="#f1ecf6" stroke-width="0.32" opacity="0.8"/>
<path d="M71.45 381.00L71.44 376.40" stroke="#f1ecf6" stroke-width="0.32" opacity="0.8"/>
<path d="M70.75 398.47A5.15 5.15 0 1 1 65.16 403.96" fill="none" stroke="#bfaed0" stroke-width="1.6" />
<circle cx="79.10" cy="394.00" r="3.3" fill="none" stroke="#bfaed0" stroke-width="0.9"/>
<text transform="translate(78.30 404.50) scale(.1)" font-size="20" text-anchor="middle" fill="#333">X</text>
<text transform="translate(64.50 409.30) scale(.1)" font-size="20" text-anchor="middle" fill="#333">Y</text>
<path d="M59.57 385.52Q63.85 387.45 63.75 382.75" stroke="#1a1a1a" stroke-width="0.75" fill="none"/>
<circle cx="134.5" cy="399" r="20.30" fill="none" stroke="#c7bad4" stroke-width="4.60"/>
<text transform="translate(141.01 376.99) scale(.1)" font-size="22" text-anchor="middle" fill="#3a3a3a">1</text>
<text transform="translate(152.04 383.60) scale(.1)" font-size="22" text-anchor="middle" fill="#3a3a3a">2</text>
<text transform="translate(157.80 393.63) scale(.1)" font-size="22" text-anchor="middle" fill="#3a3a3a">3</text>
<text transform="translate(158.50 403.82) scale(.1)" font-size="22" text-anchor="middle" fill="#3a3a3a">4</text>
<text transform="translate(155.18 413.01) scale(.1)" font-size="22" text-anchor="middle" fill="#3a3a3a">5</text>
<text transform="translate(148.93 419.84) scale(.1)" font-size="22" text-anchor="middle" fill="#3a3a3a">6</text>
<text transform="translate(141.14 423.67) scale(.1)" font-size="22" text-anchor="middle" fill="#3a3a3a">7</text>
<text transform="translate(133.15 424.56) scale(.1)" font-size="22" text-anchor="middle" fill="#3a3a3a">8</text>
<text transform="translate(125.76 422.97) scale(.1)" font-size="22" text-anchor="middle" fill="#3a3a3a">9</text>
<text transform="translate(118.92 419.34) scale(.1)" font-size="22" text-anchor="middle" fill="#3a3a3a">10</text>
<text transform="translate(114.04 414.12) scale(.1)" font-size="22" text-anchor="middle" fill="#3a3a3a">11</text>
<text transform="translate(110.91 407.76) scale(.1)" font-size="22" text-anchor="middle" fill="#3a3a3a">12</text>
<text transform="translate(109.77 401.29) scale(.1)" font-size="22" text-anchor="middle" fill="#3a3a3a">13</text>
<text transform="translate(110.25 395.45) scale(.1)" font-size="22" text-anchor="middle" fill="#3a3a3a">14</text>
<text transform="translate(111.98 390.18) scale(.1)" font-size="22" text-anchor="middle" fill="#3a3a3a">15</text>
<text transform="translate(114.60 385.80) scale(.1)" font-size="22" text-anchor="middle" fill="#3a3a3a">16</text>
<text transform="translate(117.63 382.46) scale(.1)" font-size="22" text-anchor="middle" fill="#3a3a3a">17</text>
<text transform="translate(120.97 379.90) scale(.1)" font-size="22" text-anchor="middle" fill="#3a3a3a">18</text>
<text transform="translate(124.16 378.19) scale(.1)" font-size="22" text-anchor="middle" fill="#3a3a3a">19</text>
<text transform="translate(127.19 377.08) scale(.1)" font-size="22" text-anchor="middle" fill="#3a3a3a">20</text>
<text transform="translate(130.05 376.42) scale(.1)" font-size="22" text-anchor="middle" fill="#3a3a3a">21</text>
<text transform="translate(132.65 376.14) scale(.1)" font-size="22" text-anchor="middle" fill="#3a3a3a">22</text>
<path d="M132.39 378.81A20.30 20.30 0 0 1 134.36 378.70" fill="none" stroke="#213f7b" stroke-width="4.60" />
<path d="M125.21 380.95A20.30 20.30 0 0 1 127.34 380.01" fill="none" stroke="#213f7b" stroke-width="4.60" />
<path d="M127.60 379.91A20.30 20.30 0 0 1 130.01 379.20" fill="none" stroke="#213f7b" stroke-width="4.60" />
<path d="M119.63 385.19A20.30 20.30 0 0 1 122.06 382.96" fill="none" stroke="#a8062c" stroke-width="4.60" />
<path d="M114.45 402.18A20.30 20.30 0 0 1 114.26 397.38" fill="none" stroke="#213f7b" stroke-width="4.60" />
<path d="M124.24 416.52A20.30 20.30 0 0 1 119.76 412.96" fill="none" stroke="#a8062c" stroke-width="4.60" />
<path d="M153.51 406.13A20.30 20.30 0 0 1 149.49 412.69" fill="none" stroke="#213f7b" stroke-width="4.60" />
<path d="M143.77 383.57L146.14 379.63" stroke="#f1ecf6" stroke-width="0.25" opacity="0.22"/>
<path d="M150.30 390.38L154.34 388.17" stroke="#f1ecf6" stroke-width="0.25" opacity="0.22"/>
<path d="M152.46 397.79L157.05 397.47" stroke="#f1ecf6" stroke-width="0.25" opacity="0.22"/>
<path d="M151.41 405.16L155.74 406.73" stroke="#f1ecf6" stroke-width="0.32" opacity="0.8"/>
<path d="M147.74 411.19L151.12 414.31" stroke="#f1ecf6" stroke-width="0.32" opacity="0.8"/>
<path d="M142.38 415.18L144.40 419.32" stroke="#f1ecf6" stroke-width="0.25" opacity="0.22"/>
<path d="M136.41 416.90L136.90 421.47" stroke="#f1ecf6" stroke-width="0.25" opacity="0.22"/>
<path d="M130.71 416.60L129.74 421.09" stroke="#f1ecf6" stroke-width="0.25" opacity="0.22"/>
<path d="M125.56 414.62L123.27 418.61" stroke="#f1ecf6" stroke-width="0.32" opacity="0.8"/>
<path d="M121.38 411.32L118.02 414.47" stroke="#f1ecf6" stroke-width="0.32" opacity="0.8"/>
<path d="M118.37 406.98L114.24 409.02" stroke="#f1ecf6" stroke-width="0.25" opacity="0.22"/>
<path d="M116.75 401.99L112.21 402.75" stroke="#f1ecf6" stroke-width="0.32" opacity="0.8"/>
<path d="M116.56 397.49L111.98 397.10" stroke="#f1ecf6" stroke-width="0.32" opacity="0.8"/>
<path d="M117.40 393.38L113.03 391.94" stroke="#f1ecf6" stroke-width="0.25" opacity="0.22"/>
<path d="M119.08 389.71L115.14 387.33" stroke="#f1ecf6" stroke-width="0.25" opacity="0.22"/>
<path d="M121.19 386.88L117.79 383.78" stroke="#f1ecf6" stroke-width="0.32" opacity="0.8"/>
<path d="M123.53 384.73L120.73 381.08" stroke="#f1ecf6" stroke-width="0.32" opacity="0.8"/>
<path d="M126.11 383.08L123.97 379.01" stroke="#f1ecf6" stroke-width="0.32" opacity="0.8"/>
<path d="M128.22 382.13L126.62 377.82" stroke="#f1ecf6" stroke-width="0.32" opacity="0.8"/>
<path d="M130.60 381.43L129.60 376.94" stroke="#f1ecf6" stroke-width="0.32" opacity="0.8"/>
<path d="M132.45 381.12L131.93 376.55" stroke="#f1ecf6" stroke-width="0.32" opacity="0.8"/>
<path d="M134.45 381.00L134.44 376.40" stroke="#f1ecf6" stroke-width="0.32" opacity="0.8"/>
<path d="M133.75 398.47A5.15 5.15 0 0 1 133.21 408.75" fill="none" stroke="#bfaed0" stroke-width="1.6" />
<path d="M133.21 408.75A5.15 5.15 0 0 1 128.15 403.78" fill="none" stroke="#a8062c" stroke-width="1.95" />
<circle cx="142.10" cy="394.00" r="3.3" fill="none" stroke="#bfaed0" stroke-width="0.9"/>
<text transform="translate(141.30 404.50) scale(.1)" font-size="20" text-anchor="middle" fill="#333">X</text>
<text transform="translate(127.50 409.30) scale(.1)" font-size="20" text-anchor="middle" fill="#333">Y</text>
<path d="M122.57 385.52Q126.85 387.45 126.75 382.75" stroke="#1a1a1a" stroke-width="0.75" fill="none"/>
<path d="M274 170V425.8" stroke="#000" stroke-width="1.2" stroke-dasharray="1.05 1.1" fill="none"/>
<text transform="translate(246.00 176.25) scale(.1)" font-size="63" text-anchor="middle" fill="#000" stroke="#000" stroke-width="0.4">MDS</text>
<text transform="translate(303.00 176.25) scale(.1)" font-size="63" text-anchor="middle" fill="#000" stroke="#000" stroke-width="0.4">AML</text>
<text transform="translate(185.03 215.30) rotate(-90.0) scale(.1)" font-size="62" text-anchor="middle" fill="#000" stroke="#000" stroke-width="0.4">Somatic mutations</text>
<text transform="translate(201.32 215.00) rotate(-90.0) scale(.1)" font-size="56" text-anchor="middle" fill="#000" textLength="560" lengthAdjust="spacingAndGlyphs" stroke="#000" stroke-width="1.3">Variant allele frequency (%)</text>
<text transform="translate(185.07 338.70) rotate(-90.0) scale(.1)" font-size="63" text-anchor="middle" fill="#000" stroke="#000" stroke-width="0.4">Cytogenetic clones</text>
<text transform="translate(216.00 242.55) scale(.1)" font-size="54" text-anchor="end" fill="#000" stroke="#000" stroke-width="1.0">0</text>
<text transform="translate(216.00 232.31) scale(.1)" font-size="54" text-anchor="end" fill="#000" stroke="#000" stroke-width="1.0">20</text>
<text transform="translate(216.00 222.07) scale(.1)" font-size="54" text-anchor="end" fill="#000" stroke="#000" stroke-width="1.0">40</text>
<text transform="translate(216.00 211.83) scale(.1)" font-size="54" text-anchor="end" fill="#000" stroke="#000" stroke-width="1.0">60</text>
<text transform="translate(216.00 201.59) scale(.1)" font-size="54" text-anchor="end" fill="#000" stroke="#000" stroke-width="1.0">80</text>
<text transform="translate(216.00 191.35) scale(.1)" font-size="54" text-anchor="end" fill="#000" stroke="#000" stroke-width="1.0">100</text>
<path d="M219 186.4V240.6H335" stroke="#1c1c1c" stroke-width="1.3" fill="none" stroke-linejoin="miter"/>
<circle cx="301.60" cy="239.32" r="1.6" fill="#4a1a6e"/>
<circle cx="301.60" cy="238.81" r="1.6" fill="#5ea330"/>
<path d="M254.00 232.41L301.60 219.81" stroke="#213f7b" stroke-width="0.85" fill="none"/>
<circle cx="254.00" cy="232.41" r="1.6" fill="#213f7b"/>
<circle cx="301.60" cy="219.81" r="1.6" fill="#213f7b"/>
<path d="M254.00 228.31L301.60 219.40" stroke="#e8921a" stroke-width="0.85" fill="none"/>
<circle cx="254.00" cy="228.31" r="1.6" fill="#e8921a"/>
<circle cx="301.60" cy="219.40" r="1.6" fill="#e8921a"/>
<path d="M254.00 219.10L301.60 201.69" stroke="#a8062c" stroke-width="0.85" fill="none"/>
<circle cx="254.00" cy="219.10" r="1.6" fill="#a8062c"/>
<circle cx="301.60" cy="201.69" r="1.6" fill="#a8062c"/>
<path d="M224.8 184.4H230.0" stroke="#a8062c" stroke-width="0.9"/>
<circle cx="227.4" cy="184.4" r="1.6" fill="#a8062c"/>
<text transform="translate(233.00 185.95) scale(.1)" font-size="44" text-anchor="start" fill="#2a2a2a" font-style="italic">TP53 I195T</text>
<path d="M224.8 191H230.0" stroke="#e8921a" stroke-width="0.9"/>
<circle cx="227.4" cy="191" r="1.6" fill="#e8921a"/>
<text transform="translate(233.00 192.55) scale(.1)" font-size="44" text-anchor="start" fill="#2a2a2a" font-style="italic">TET2 L1398fs</text>
<path d="M224.8 197.4H230.0" stroke="#213f7b" stroke-width="0.9"/>
<circle cx="227.4" cy="197.4" r="1.6" fill="#213f7b"/>
<text transform="translate(233.00 198.95) scale(.1)" font-size="44" text-anchor="start" fill="#2a2a2a" font-style="italic">TET2 T1085fs</text>
<path d="M279.79999999999995 184.4H285.0" stroke="#5ea330" stroke-width="0.9"/>
<circle cx="282.4" cy="184.4" r="1.6" fill="#5ea330"/>
<text transform="translate(288.00 185.95) scale(.1)" font-size="44" text-anchor="start" fill="#2a2a2a" font-style="italic">NOTCH1 A2257E</text>
<path d="M279.79999999999995 191H285.0" stroke="#4a1a6e" stroke-width="0.9"/>
<circle cx="282.4" cy="191" r="1.6" fill="#4a1a6e"/>
<text transform="translate(288.00 192.55) scale(.1)" font-size="44" text-anchor="start" fill="#2a2a2a" font-style="italic">NRAS G12D</text>
<circle cx="242.9" cy="276.1" r="20.80" fill="none" stroke="#c7bad4" stroke-width="4.60"/>
<text transform="translate(249.54 253.61) scale(.1)" font-size="22" text-anchor="middle" fill="#3a3a3a">1</text>
<text transform="translate(260.80 260.36) scale(.1)" font-size="22" text-anchor="middle" fill="#3a3a3a">2</text>
<text transform="translate(266.68 270.59) scale(.1)" font-size="22" text-anchor="middle" fill="#3a3a3a">3</text>
<text transform="translate(267.40 280.99) scale(.1)" font-size="22" text-anchor="middle" fill="#3a3a3a">4</text>
<text transform="translate(264.01 290.37) scale(.1)" font-size="22" text-anchor="middle" fill="#3a3a3a">5</text>
<text transform="translate(257.63 297.34) scale(.1)" font-size="22" text-anchor="middle" fill="#3a3a3a">6</text>
<text transform="translate(249.67 301.26) scale(.1)" font-size="22" text-anchor="middle" fill="#3a3a3a">7</text>
<text transform="translate(241.52 302.16) scale(.1)" font-size="22" text-anchor="middle" fill="#3a3a3a">8</text>
<text transform="translate(233.98 300.54) scale(.1)" font-size="22" text-anchor="middle" fill="#3a3a3a">9</text>
<text transform="translate(227.01 296.83) scale(.1)" font-size="22" text-anchor="middle" fill="#3a3a3a">10</text>
<text transform="translate(222.03 291.51) scale(.1)" font-size="22" text-anchor="middle" fill="#3a3a3a">11</text>
<text transform="translate(218.83 285.01) scale(.1)" font-size="22" text-anchor="middle" fill="#3a3a3a">12</text>
<text transform="translate(217.67 278.41) scale(.1)" font-size="22" text-anchor="middle" fill="#3a3a3a">13</text>
<text transform="translate(218.16 272.45) scale(.1)" font-size="22" text-anchor="middle" fill="#3a3a3a">14</text>
<text transform="translate(219.93 267.07) scale(.1)" font-size="22" text-anchor="middle" fill="#3a3a3a">15</text>
<text transform="translate(222.60 262.60) scale(.1)" font-size="22" text-anchor="middle" fill="#3a3a3a">16</text>
<text transform="translate(225.69 259.19) scale(.1)" font-size="22" text-anchor="middle" fill="#3a3a3a">17</text>
<text transform="translate(229.10 256.58) scale(.1)" font-size="22" text-anchor="middle" fill="#3a3a3a">18</text>
<text transform="translate(232.35 254.83) scale(.1)" font-size="22" text-anchor="middle" fill="#3a3a3a">19</text>
<text transform="translate(235.45 253.70) scale(.1)" font-size="22" text-anchor="middle" fill="#3a3a3a">20</text>
<text transform="translate(238.37 253.03) scale(.1)" font-size="22" text-anchor="middle" fill="#3a3a3a">21</text>
<text transform="translate(241.02 252.74) scale(.1)" font-size="22" text-anchor="middle" fill="#3a3a3a">22</text>
<path d="M233.38 257.61A20.80 20.80 0 0 1 235.56 256.64" fill="none" stroke="#213f7b" stroke-width="4.60" />
<path d="M235.83 256.54A20.80 20.80 0 0 1 238.30 255.82" fill="none" stroke="#213f7b" stroke-width="4.60" />
<path d="M228.04 261.55A20.80 20.80 0 0 1 229.70 260.03" fill="none" stroke="#a8062c" stroke-width="4.60" />
<path d="M261.25 266.31A20.80 20.80 0 0 1 263.65 274.61" fill="none" stroke="#5ea330" stroke-width="4.60" />
<path d="M262.37 283.41A20.80 20.80 0 0 1 258.26 290.12" fill="none" stroke="#5ea330" stroke-width="4.60" />
<path d="M227.60 290.19A20.80 20.80 0 0 1 224.30 285.40" fill="none" stroke="#213f7b" stroke-width="4.60" />
<path d="M252.42 260.24L254.79 256.30" stroke="#f1ecf6" stroke-width="0.25" opacity="0.22"/>
<path d="M259.14 267.24L263.18 265.03" stroke="#f1ecf6" stroke-width="0.32" opacity="0.8"/>
<path d="M261.36 274.85L265.95 274.54" stroke="#f1ecf6" stroke-width="0.32" opacity="0.8"/>
<path d="M260.28 282.43L264.61 284.01" stroke="#f1ecf6" stroke-width="0.32" opacity="0.8"/>
<path d="M256.51 288.63L259.89 291.75" stroke="#f1ecf6" stroke-width="0.32" opacity="0.8"/>
<path d="M251.00 292.73L253.02 296.87" stroke="#f1ecf6" stroke-width="0.25" opacity="0.22"/>
<path d="M244.86 294.50L245.35 299.07" stroke="#f1ecf6" stroke-width="0.25" opacity="0.22"/>
<path d="M239.00 294.18L238.03 298.68" stroke="#f1ecf6" stroke-width="0.25" opacity="0.22"/>
<path d="M233.71 292.15L231.42 296.15" stroke="#f1ecf6" stroke-width="0.25" opacity="0.22"/>
<path d="M229.41 288.76L226.06 291.91" stroke="#f1ecf6" stroke-width="0.32" opacity="0.8"/>
<path d="M226.32 284.30L222.19 286.34" stroke="#f1ecf6" stroke-width="0.32" opacity="0.8"/>
<path d="M224.66 279.17L220.12 279.94" stroke="#f1ecf6" stroke-width="0.25" opacity="0.22"/>
<path d="M224.47 274.55L219.88 274.16" stroke="#f1ecf6" stroke-width="0.25" opacity="0.22"/>
<path d="M225.33 270.32L220.96 268.89" stroke="#f1ecf6" stroke-width="0.25" opacity="0.22"/>
<path d="M227.06 266.55L223.12 264.18" stroke="#f1ecf6" stroke-width="0.25" opacity="0.22"/>
<path d="M229.22 263.64L225.82 260.54" stroke="#f1ecf6" stroke-width="0.25" opacity="0.22"/>
<path d="M231.63 261.43L228.83 257.78" stroke="#f1ecf6" stroke-width="0.25" opacity="0.22"/>
<path d="M234.28 259.73L232.13 255.66" stroke="#f1ecf6" stroke-width="0.32" opacity="0.8"/>
<path d="M236.45 258.76L234.85 254.45" stroke="#f1ecf6" stroke-width="0.32" opacity="0.8"/>
<path d="M238.89 258.04L237.89 253.55" stroke="#f1ecf6" stroke-width="0.32" opacity="0.8"/>
<path d="M240.80 257.72L240.27 253.15" stroke="#f1ecf6" stroke-width="0.25" opacity="0.22"/>
<path d="M242.85 257.60L242.84 253.00" stroke="#f1ecf6" stroke-width="0.25" opacity="0.22"/>
<circle cx="242.50" cy="276.50" r="6.6" fill="none" stroke="#bfaed0" stroke-width="2.2"/>
<text transform="translate(232.90 277.30) scale(.1)" font-size="20" text-anchor="middle" fill="#333">Y</text>
<text transform="translate(252.20 277.30) scale(.1)" font-size="20" text-anchor="middle" fill="#333">X</text>
<circle cx="306.4" cy="276.1" r="20.80" fill="none" stroke="#c7bad4" stroke-width="4.60"/>
<text transform="translate(313.04 253.61) scale(.1)" font-size="22" text-anchor="middle" fill="#3a3a3a">1</text>
<text transform="translate(324.30 260.36) scale(.1)" font-size="22" text-anchor="middle" fill="#3a3a3a">2</text>
<text transform="translate(330.18 270.59) scale(.1)" font-size="22" text-anchor="middle" fill="#3a3a3a">3</text>
<text transform="translate(330.90 280.99) scale(.1)" font-size="22" text-anchor="middle" fill="#3a3a3a">4</text>
<text transform="translate(327.51 290.37) scale(.1)" font-size="22" text-anchor="middle" fill="#3a3a3a">5</text>
<text transform="translate(321.13 297.34) scale(.1)" font-size="22" text-anchor="middle" fill="#3a3a3a">6</text>
<text transform="translate(313.17 301.26) scale(.1)" font-size="22" text-anchor="middle" fill="#3a3a3a">7</text>
<text transform="translate(305.02 302.16) scale(.1)" font-size="22" text-anchor="middle" fill="#3a3a3a">8</text>
<text transform="translate(297.48 300.54) scale(.1)" font-size="22" text-anchor="middle" fill="#3a3a3a">9</text>
<text transform="translate(290.51 296.83) scale(.1)" font-size="22" text-anchor="middle" fill="#3a3a3a">10</text>
<text transform="translate(285.53 291.51) scale(.1)" font-size="22" text-anchor="middle" fill="#3a3a3a">11</text>
<text transform="translate(282.33 285.01) scale(.1)" font-size="22" text-anchor="middle" fill="#3a3a3a">12</text>
<text transform="translate(281.17 278.41) scale(.1)" font-size="22" text-anchor="middle" fill="#3a3a3a">13</text>
<text transform="translate(281.66 272.45) scale(.1)" font-size="22" text-anchor="middle" fill="#3a3a3a">14</text>
<text transform="translate(283.43 267.07) scale(.1)" font-size="22" text-anchor="middle" fill="#3a3a3a">15</text>
<text transform="translate(286.10 262.60) scale(.1)" font-size="22" text-anchor="middle" fill="#3a3a3a">16</text>
<text transform="translate(289.19 259.19) scale(.1)" font-size="22" text-anchor="middle" fill="#3a3a3a">17</text>
<text transform="translate(292.60 256.58) scale(.1)" font-size="22" text-anchor="middle" fill="#3a3a3a">18</text>
<text transform="translate(295.85 254.83) scale(.1)" font-size="22" text-anchor="middle" fill="#3a3a3a">19</text>
<text transform="translate(298.95 253.70) scale(.1)" font-size="22" text-anchor="middle" fill="#3a3a3a">20</text>
<text transform="translate(301.87 253.03) scale(.1)" font-size="22" text-anchor="middle" fill="#3a3a3a">21</text>
<text transform="translate(304.52 252.74) scale(.1)" font-size="22" text-anchor="middle" fill="#3a3a3a">22</text>
<path d="M296.88 257.61A20.80 20.80 0 0 1 299.06 256.64" fill="none" stroke="#213f7b" stroke-width="4.60" />
<path d="M299.33 256.54A20.80 20.80 0 0 1 301.80 255.82" fill="none" stroke="#213f7b" stroke-width="4.60" />
<path d="M291.54 261.55A20.80 20.80 0 0 1 293.20 260.03" fill="none" stroke="#a8062c" stroke-width="4.60" />
<path d="M324.75 266.31A20.80 20.80 0 0 1 327.15 274.61" fill="none" stroke="#5ea330" stroke-width="4.60" />
<path d="M325.87 283.41A20.80 20.80 0 0 1 321.76 290.12" fill="none" stroke="#5ea330" stroke-width="4.60" />
<path d="M291.10 290.19A20.80 20.80 0 0 1 287.80 285.40" fill="none" stroke="#213f7b" stroke-width="4.60" />
<path d="M315.92 260.24L318.29 256.30" stroke="#f1ecf6" stroke-width="0.25" opacity="0.22"/>
<path d="M322.64 267.24L326.68 265.03" stroke="#f1ecf6" stroke-width="0.32" opacity="0.8"/>
<path d="M324.86 274.85L329.45 274.54" stroke="#f1ecf6" stroke-width="0.32" opacity="0.8"/>
<path d="M323.78 282.43L328.11 284.01" stroke="#f1ecf6" stroke-width="0.32" opacity="0.8"/>
<path d="M320.01 288.63L323.39 291.75" stroke="#f1ecf6" stroke-width="0.32" opacity="0.8"/>
<path d="M314.50 292.73L316.52 296.87" stroke="#f1ecf6" stroke-width="0.25" opacity="0.22"/>
<path d="M308.36 294.50L308.85 299.07" stroke="#f1ecf6" stroke-width="0.25" opacity="0.22"/>
<path d="M302.50 294.18L301.53 298.68" stroke="#f1ecf6" stroke-width="0.25" opacity="0.22"/>
<path d="M297.21 292.15L294.92 296.15" stroke="#f1ecf6" stroke-width="0.25" opacity="0.22"/>
<path d="M292.91 288.76L289.56 291.91" stroke="#f1ecf6" stroke-width="0.32" opacity="0.8"/>
<path d="M289.82 284.30L285.69 286.34" stroke="#f1ecf6" stroke-width="0.32" opacity="0.8"/>
<path d="M288.16 279.17L283.62 279.94" stroke="#f1ecf6" stroke-width="0.25" opacity="0.22"/>
<path d="M287.97 274.55L283.38 274.16" stroke="#f1ecf6" stroke-width="0.25" opacity="0.22"/>
<path d="M288.83 270.32L284.46 268.89" stroke="#f1ecf6" stroke-width="0.25" opacity="0.22"/>
<path d="M290.56 266.55L286.62 264.18" stroke="#f1ecf6" stroke-width="0.25" opacity="0.22"/>
<path d="M292.72 263.64L289.32 260.54" stroke="#f1ecf6" stroke-width="0.25" opacity="0.22"/>
<path d="M295.13 261.43L292.33 257.78" stroke="#f1ecf6" stroke-width="0.25" opacity="0.22"/>
<path d="M297.78 259.73L295.63 255.66" stroke="#f1ecf6" stroke-width="0.32" opacity="0.8"/>
<path d="M299.95 258.76L298.35 254.45" stroke="#f1ecf6" stroke-width="0.32" opacity="0.8"/>
<path d="M302.39 258.04L301.39 253.55" stroke="#f1ecf6" stroke-width="0.32" opacity="0.8"/>
<path d="M304.30 257.72L303.77 253.15" stroke="#f1ecf6" stroke-width="0.25" opacity="0.22"/>
<path d="M306.35 257.60L306.34 253.00" stroke="#f1ecf6" stroke-width="0.25" opacity="0.22"/>
<circle cx="306.00" cy="276.50" r="6.6" fill="none" stroke="#bfaed0" stroke-width="2.2"/>
<text transform="translate(296.40 277.30) scale(.1)" font-size="20" text-anchor="middle" fill="#333">Y</text>
<text transform="translate(315.70 277.30) scale(.1)" font-size="20" text-anchor="middle" fill="#333">X</text>
<circle cx="242.9" cy="338.8" r="20.80" fill="none" stroke="#c7bad4" stroke-width="4.60"/>
<text transform="translate(249.54 316.31) scale(.1)" font-size="22" text-anchor="middle" fill="#3a3a3a">1</text>
<text transform="translate(260.80 323.06) scale(.1)" font-size="22" text-anchor="middle" fill="#3a3a3a">2</text>
<text transform="translate(266.68 333.29) scale(.1)" font-size="22" text-anchor="middle" fill="#3a3a3a">3</text>
<text transform="translate(267.40 343.69) scale(.1)" font-size="22" text-anchor="middle" fill="#3a3a3a">4</text>
<text transform="translate(264.01 353.07) scale(.1)" font-size="22" text-anchor="middle" fill="#3a3a3a">5</text>
<text transform="translate(257.63 360.04) scale(.1)" font-size="22" text-anchor="middle" fill="#3a3a3a">6</text>
<text transform="translate(249.67 363.96) scale(.1)" font-size="22" text-anchor="middle" fill="#3a3a3a">7</text>
<text transform="translate(241.52 364.86) scale(.1)" font-size="22" text-anchor="middle" fill="#3a3a3a">8</text>
<text transform="translate(233.98 363.24) scale(.1)" font-size="22" text-anchor="middle" fill="#3a3a3a">9</text>
<text transform="translate(227.01 359.53) scale(.1)" font-size="22" text-anchor="middle" fill="#3a3a3a">10</text>
<text transform="translate(222.03 354.21) scale(.1)" font-size="22" text-anchor="middle" fill="#3a3a3a">11</text>
<text transform="translate(218.83 347.71) scale(.1)" font-size="22" text-anchor="middle" fill="#3a3a3a">12</text>
<text transform="translate(217.67 341.11) scale(.1)" font-size="22" text-anchor="middle" fill="#3a3a3a">13</text>
<text transform="translate(218.16 335.15) scale(.1)" font-size="22" text-anchor="middle" fill="#3a3a3a">14</text>
<text transform="translate(219.93 329.77) scale(.1)" font-size="22" text-anchor="middle" fill="#3a3a3a">15</text>
<text transform="translate(222.60 325.30) scale(.1)" font-size="22" text-anchor="middle" fill="#3a3a3a">16</text>
<text transform="translate(225.69 321.89) scale(.1)" font-size="22" text-anchor="middle" fill="#3a3a3a">17</text>
<text transform="translate(229.10 319.28) scale(.1)" font-size="22" text-anchor="middle" fill="#3a3a3a">18</text>
<text transform="translate(232.35 317.53) scale(.1)" font-size="22" text-anchor="middle" fill="#3a3a3a">19</text>
<text transform="translate(235.45 316.40) scale(.1)" font-size="22" text-anchor="middle" fill="#3a3a3a">20</text>
<text transform="translate(238.37 315.73) scale(.1)" font-size="22" text-anchor="middle" fill="#3a3a3a">21</text>
<text transform="translate(241.02 315.44) scale(.1)" font-size="22" text-anchor="middle" fill="#3a3a3a">22</text>
<path d="M230.39 322.19A20.80 20.80 0 0 1 233.12 320.44" fill="none" stroke="#a8062c" stroke-width="4.60" />
<path d="M262.37 346.11A20.80 20.80 0 0 1 258.26 352.82" fill="none" stroke="#a8062c" stroke-width="4.60" />
<path d="M252.42 322.94L254.79 319.00" stroke="#f1ecf6" stroke-width="0.25" opacity="0.22"/>
<path d="M259.14 329.94L263.18 327.73" stroke="#f1ecf6" stroke-width="0.25" opacity="0.22"/>
<path d="M261.36 337.55L265.95 337.24" stroke="#f1ecf6" stroke-width="0.25" opacity="0.22"/>
<path d="M260.28 345.13L264.61 346.71" stroke="#f1ecf6" stroke-width="0.32" opacity="0.8"/>
<path d="M256.51 351.33L259.89 354.45" stroke="#f1ecf6" stroke-width="0.32" opacity="0.8"/>
<path d="M251.00 355.43L253.02 359.57" stroke="#f1ecf6" stroke-width="0.25" opacity="0.22"/>
<path d="M244.86 357.20L245.35 361.77" stroke="#f1ecf6" stroke-width="0.25" opacity="0.22"/>
<path d="M239.00 356.88L238.03 361.38" stroke="#f1ecf6" stroke-width="0.25" opacity="0.22"/>
<path d="M233.71 354.85L231.42 358.85" stroke="#f1ecf6" stroke-width="0.25" opacity="0.22"/>
<path d="M229.41 351.46L226.06 354.61" stroke="#f1ecf6" stroke-width="0.25" opacity="0.22"/>
<path d="M226.32 347.00L222.19 349.04" stroke="#f1ecf6" stroke-width="0.25" opacity="0.22"/>
<path d="M224.66 341.87L220.12 342.64" stroke="#f1ecf6" stroke-width="0.25" opacity="0.22"/>
<path d="M224.47 337.25L219.88 336.86" stroke="#f1ecf6" stroke-width="0.25" opacity="0.22"/>
<path d="M225.33 333.02L220.96 331.59" stroke="#f1ecf6" stroke-width="0.25" opacity="0.22"/>
<path d="M227.06 329.25L223.12 326.88" stroke="#f1ecf6" stroke-width="0.25" opacity="0.22"/>
<path d="M229.22 326.34L225.82 323.24" stroke="#f1ecf6" stroke-width="0.25" opacity="0.22"/>
<path d="M231.63 324.13L228.83 320.48" stroke="#f1ecf6" stroke-width="0.32" opacity="0.8"/>
<path d="M234.28 322.43L232.13 318.36" stroke="#f1ecf6" stroke-width="0.32" opacity="0.8"/>
<path d="M236.45 321.46L234.85 317.15" stroke="#f1ecf6" stroke-width="0.25" opacity="0.22"/>
<path d="M238.89 320.74L237.89 316.25" stroke="#f1ecf6" stroke-width="0.25" opacity="0.22"/>
<path d="M240.80 320.42L240.27 315.85" stroke="#f1ecf6" stroke-width="0.25" opacity="0.22"/>
<path d="M242.85 320.30L242.84 315.70" stroke="#f1ecf6" stroke-width="0.25" opacity="0.22"/>
<circle cx="242.50" cy="339.20" r="6.6" fill="none" stroke="#bfaed0" stroke-width="2.2"/>
<text transform="translate(232.90 340.00) scale(.1)" font-size="20" text-anchor="middle" fill="#333">Y</text>
<text transform="translate(252.20 340.00) scale(.1)" font-size="20" text-anchor="middle" fill="#333">X</text>
<path d="M243.62 328.53A10.30 10.30 0 0 1 251.82 333.65" fill="none" stroke="#bfaed0" stroke-width="0.95" />
<circle cx="306.4" cy="338.8" r="20.80" fill="none" stroke="#c7bad4" stroke-width="4.60"/>
<text transform="translate(313.04 316.31) scale(.1)" font-size="22" text-anchor="middle" fill="#3a3a3a">1</text>
<text transform="translate(324.30 323.06) scale(.1)" font-size="22" text-anchor="middle" fill="#3a3a3a">2</text>
<text transform="translate(330.18 333.29) scale(.1)" font-size="22" text-anchor="middle" fill="#3a3a3a">3</text>
<text transform="translate(330.90 343.69) scale(.1)" font-size="22" text-anchor="middle" fill="#3a3a3a">4</text>
<text transform="translate(327.51 353.07) scale(.1)" font-size="22" text-anchor="middle" fill="#3a3a3a">5</text>
<text transform="translate(321.13 360.04) scale(.1)" font-size="22" text-anchor="middle" fill="#3a3a3a">6</text>
<text transform="translate(313.17 363.96) scale(.1)" font-size="22" text-anchor="middle" fill="#3a3a3a">7</text>
<text transform="translate(305.02 364.86) scale(.1)" font-size="22" text-anchor="middle" fill="#3a3a3a">8</text>
<text transform="translate(297.48 363.24) scale(.1)" font-size="22" text-anchor="middle" fill="#3a3a3a">9</text>
<text transform="translate(290.51 359.53) scale(.1)" font-size="22" text-anchor="middle" fill="#3a3a3a">10</text>
<text transform="translate(285.53 354.21) scale(.1)" font-size="22" text-anchor="middle" fill="#3a3a3a">11</text>
<text transform="translate(282.33 347.71) scale(.1)" font-size="22" text-anchor="middle" fill="#3a3a3a">12</text>
<text transform="translate(281.17 341.11) scale(.1)" font-size="22" text-anchor="middle" fill="#3a3a3a">13</text>
<text transform="translate(281.66 335.15) scale(.1)" font-size="22" text-anchor="middle" fill="#3a3a3a">14</text>
<text transform="translate(283.43 329.77) scale(.1)" font-size="22" text-anchor="middle" fill="#3a3a3a">15</text>
<text transform="translate(286.10 325.30) scale(.1)" font-size="22" text-anchor="middle" fill="#3a3a3a">16</text>
<text transform="translate(289.19 321.89) scale(.1)" font-size="22" text-anchor="middle" fill="#3a3a3a">17</text>
<text transform="translate(292.60 319.28) scale(.1)" font-size="22" text-anchor="middle" fill="#3a3a3a">18</text>
<text transform="translate(295.85 317.53) scale(.1)" font-size="22" text-anchor="middle" fill="#3a3a3a">19</text>
<text transform="translate(298.95 316.40) scale(.1)" font-size="22" text-anchor="middle" fill="#3a3a3a">20</text>
<text transform="translate(301.87 315.73) scale(.1)" font-size="22" text-anchor="middle" fill="#3a3a3a">21</text>
<text transform="translate(304.52 315.44) scale(.1)" font-size="22" text-anchor="middle" fill="#3a3a3a">22</text>
<path d="M296.88 320.31A20.80 20.80 0 0 1 299.06 319.34" fill="none" stroke="#213f7b" stroke-width="4.60" />
<path d="M299.33 319.24A20.80 20.80 0 0 1 301.80 318.52" fill="none" stroke="#213f7b" stroke-width="4.60" />
<path d="M291.54 324.25A20.80 20.80 0 0 1 293.20 322.73" fill="none" stroke="#a8062c" stroke-width="4.60" />
<path d="M324.75 329.01A20.80 20.80 0 0 1 327.15 337.31" fill="none" stroke="#5ea330" stroke-width="4.60" />
<path d="M325.87 346.11A20.80 20.80 0 0 1 321.76 352.82" fill="none" stroke="#5ea330" stroke-width="4.60" />
<path d="M291.10 352.89A20.80 20.80 0 0 1 287.80 348.10" fill="none" stroke="#213f7b" stroke-width="4.60" />
<path d="M315.33 357.59A20.80 20.80 0 0 1 308.70 359.47" fill="none" stroke="#a8062c" stroke-width="4.60" />
<path d="M315.92 322.94L318.29 319.00" stroke="#f1ecf6" stroke-width="0.25" opacity="0.22"/>
<path d="M322.64 329.94L326.68 327.73" stroke="#f1ecf6" stroke-width="0.32" opacity="0.8"/>
<path d="M324.86 337.55L329.45 337.24" stroke="#f1ecf6" stroke-width="0.32" opacity="0.8"/>
<path d="M323.78 345.13L328.11 346.71" stroke="#f1ecf6" stroke-width="0.32" opacity="0.8"/>
<path d="M320.01 351.33L323.39 354.45" stroke="#f1ecf6" stroke-width="0.32" opacity="0.8"/>
<path d="M314.50 355.43L316.52 359.57" stroke="#f1ecf6" stroke-width="0.32" opacity="0.8"/>
<path d="M308.36 357.20L308.85 361.77" stroke="#f1ecf6" stroke-width="0.32" opacity="0.8"/>
<path d="M302.50 356.88L301.53 361.38" stroke="#f1ecf6" stroke-width="0.25" opacity="0.22"/>
<path d="M297.21 354.85L294.92 358.85" stroke="#f1ecf6" stroke-width="0.25" opacity="0.22"/>
<path d="M292.91 351.46L289.56 354.61" stroke="#f1ecf6" stroke-width="0.32" opacity="0.8"/>
<path d="M289.82 347.00L285.69 349.04" stroke="#f1ecf6" stroke-width="0.32" opacity="0.8"/>
<path d="M288.16 341.87L283.62 342.64" stroke="#f1ecf6" stroke-width="0.25" opacity="0.22"/>
<path d="M287.97 337.25L283.38 336.86" stroke="#f1ecf6" stroke-width="0.25" opacity="0.22"/>
<path d="M288.83 333.02L284.46 331.59" stroke="#f1ecf6" stroke-width="0.25" opacity="0.22"/>
<path d="M290.56 329.25L286.62 326.88" stroke="#f1ecf6" stroke-width="0.25" opacity="0.22"/>
<path d="M292.72 326.34L289.32 323.24" stroke="#f1ecf6" stroke-width="0.25" opacity="0.22"/>
<path d="M295.13 324.13L292.33 320.48" stroke="#f1ecf6" stroke-width="0.25" opacity="0.22"/>
<path d="M297.78 322.43L295.63 318.36" stroke="#f1ecf6" stroke-width="0.32" opacity="0.8"/>
<path d="M299.95 321.46L298.35 317.15" stroke="#f1ecf6" stroke-width="0.32" opacity="0.8"/>
<path d="M302.39 320.74L301.39 316.25" stroke="#f1ecf6" stroke-width="0.32" opacity="0.8"/>
<path d="M304.30 320.42L303.77 315.85" stroke="#f1ecf6" stroke-width="0.25" opacity="0.22"/>
<path d="M306.35 320.30L306.34 315.70" stroke="#f1ecf6" stroke-width="0.25" opacity="0.22"/>
<circle cx="306.00" cy="339.20" r="6.6" fill="none" stroke="#bfaed0" stroke-width="2.2"/>
<text transform="translate(296.40 340.00) scale(.1)" font-size="20" text-anchor="middle" fill="#333">Y</text>
<text transform="translate(315.70 340.00) scale(.1)" font-size="20" text-anchor="middle" fill="#333">X</text>
<circle cx="242.9" cy="398.5" r="20.80" fill="none" stroke="#c7bad4" stroke-width="4.60"/>
<text transform="translate(249.54 376.01) scale(.1)" font-size="22" text-anchor="middle" fill="#3a3a3a">1</text>
<text transform="translate(260.80 382.76) scale(.1)" font-size="22" text-anchor="middle" fill="#3a3a3a">2</text>
<text transform="translate(266.68 392.99) scale(.1)" font-size="22" text-anchor="middle" fill="#3a3a3a">3</text>
<text transform="translate(267.40 403.39) scale(.1)" font-size="22" text-anchor="middle" fill="#3a3a3a">4</text>
<text transform="translate(264.01 412.77) scale(.1)" font-size="22" text-anchor="middle" fill="#3a3a3a">5</text>
<text transform="translate(257.63 419.74) scale(.1)" font-size="22" text-anchor="middle" fill="#3a3a3a">6</text>
<text transform="translate(249.67 423.66) scale(.1)" font-size="22" text-anchor="middle" fill="#3a3a3a">7</text>
<text transform="translate(241.52 424.56) scale(.1)" font-size="22" text-anchor="middle" fill="#3a3a3a">8</text>
<text transform="translate(233.98 422.94) scale(.1)" font-size="22" text-anchor="middle" fill="#3a3a3a">9</text>
<text transform="translate(227.01 419.23) scale(.1)" font-size="22" text-anchor="middle" fill="#3a3a3a">10</text>
<text transform="translate(222.03 413.91) scale(.1)" font-size="22" text-anchor="middle" fill="#3a3a3a">11</text>
<text transform="translate(218.83 407.41) scale(.1)" font-size="22" text-anchor="middle" fill="#3a3a3a">12</text>
<text transform="translate(217.67 400.81) scale(.1)" font-size="22" text-anchor="middle" fill="#3a3a3a">13</text>
<text transform="translate(218.16 394.85) scale(.1)" font-size="22" text-anchor="middle" fill="#3a3a3a">14</text>
<text transform="translate(219.93 389.47) scale(.1)" font-size="22" text-anchor="middle" fill="#3a3a3a">15</text>
<text transform="translate(222.60 385.00) scale(.1)" font-size="22" text-anchor="middle" fill="#3a3a3a">16</text>
<text transform="translate(225.69 381.59) scale(.1)" font-size="22" text-anchor="middle" fill="#3a3a3a">17</text>
<text transform="translate(229.10 378.98) scale(.1)" font-size="22" text-anchor="middle" fill="#3a3a3a">18</text>
<text transform="translate(232.35 377.23) scale(.1)" font-size="22" text-anchor="middle" fill="#3a3a3a">19</text>
<text transform="translate(235.45 376.10) scale(.1)" font-size="22" text-anchor="middle" fill="#3a3a3a">20</text>
<text transform="translate(238.37 375.43) scale(.1)" font-size="22" text-anchor="middle" fill="#3a3a3a">21</text>
<text transform="translate(241.02 375.14) scale(.1)" font-size="22" text-anchor="middle" fill="#3a3a3a">22</text>
<path d="M262.37 405.81A20.80 20.80 0 0 1 258.26 412.52" fill="none" stroke="#a8062c" stroke-width="4.60" />
<path d="M252.42 382.64L254.79 378.70" stroke="#f1ecf6" stroke-width="0.25" opacity="0.22"/>
<path d="M259.14 389.64L263.18 387.43" stroke="#f1ecf6" stroke-width="0.25" opacity="0.22"/>
<path d="M261.36 397.25L265.95 396.94" stroke="#f1ecf6" stroke-width="0.25" opacity="0.22"/>
<path d="M260.28 404.83L264.61 406.41" stroke="#f1ecf6" stroke-width="0.32" opacity="0.8"/>
<path d="M256.51 411.03L259.89 414.15" stroke="#f1ecf6" stroke-width="0.32" opacity="0.8"/>
<path d="M251.00 415.13L253.02 419.27" stroke="#f1ecf6" stroke-width="0.25" opacity="0.22"/>
<path d="M244.86 416.90L245.35 421.47" stroke="#f1ecf6" stroke-width="0.25" opacity="0.22"/>
<path d="M239.00 416.58L238.03 421.08" stroke="#f1ecf6" stroke-width="0.25" opacity="0.22"/>
<path d="M233.71 414.55L231.42 418.55" stroke="#f1ecf6" stroke-width="0.25" opacity="0.22"/>
<path d="M229.41 411.16L226.06 414.31" stroke="#f1ecf6" stroke-width="0.25" opacity="0.22"/>
<path d="M226.32 406.70L222.19 408.74" stroke="#f1ecf6" stroke-width="0.25" opacity="0.22"/>
<path d="M224.66 401.57L220.12 402.34" stroke="#f1ecf6" stroke-width="0.25" opacity="0.22"/>
<path d="M224.47 396.95L219.88 396.56" stroke="#f1ecf6" stroke-width="0.25" opacity="0.22"/>
<path d="M225.33 392.72L220.96 391.29" stroke="#f1ecf6" stroke-width="0.25" opacity="0.22"/>
<path d="M227.06 388.95L223.12 386.58" stroke="#f1ecf6" stroke-width="0.25" opacity="0.22"/>
<path d="M229.22 386.04L225.82 382.94" stroke="#f1ecf6" stroke-width="0.25" opacity="0.22"/>
<path d="M231.63 383.83L228.83 380.18" stroke="#f1ecf6" stroke-width="0.25" opacity="0.22"/>
<path d="M234.28 382.13L232.13 378.06" stroke="#f1ecf6" stroke-width="0.25" opacity="0.22"/>
<path d="M236.45 381.16L234.85 376.85" stroke="#f1ecf6" stroke-width="0.25" opacity="0.22"/>
<path d="M238.89 380.44L237.89 375.95" stroke="#f1ecf6" stroke-width="0.25" opacity="0.22"/>
<path d="M240.80 380.12L240.27 375.55" stroke="#f1ecf6" stroke-width="0.25" opacity="0.22"/>
<path d="M242.85 380.00L242.84 375.40" stroke="#f1ecf6" stroke-width="0.25" opacity="0.22"/>
<circle cx="242.50" cy="404.10" r="6.6" fill="none" stroke="#bfaed0" stroke-width="2.2"/>
<text transform="translate(232.90 404.90) scale(.1)" font-size="20" text-anchor="middle" fill="#333">Y</text>
<text transform="translate(252.20 404.90) scale(.1)" font-size="20" text-anchor="middle" fill="#333">X</text>
<circle cx="306.4" cy="398.5" r="20.80" fill="none" stroke="#c7bad4" stroke-width="4.60"/>
<text transform="translate(313.04 376.01) scale(.1)" font-size="22" text-anchor="middle" fill="#3a3a3a">1</text>
<text transform="translate(324.30 382.76) scale(.1)" font-size="22" text-anchor="middle" fill="#3a3a3a">2</text>
<text transform="translate(330.18 392.99) scale(.1)" font-size="22" text-anchor="middle" fill="#3a3a3a">3</text>
<text transform="translate(330.90 403.39) scale(.1)" font-size="22" text-anchor="middle" fill="#3a3a3a">4</text>
<text transform="translate(327.51 412.77) scale(.1)" font-size="22" text-anchor="middle" fill="#3a3a3a">5</text>
<text transform="translate(321.13 419.74) scale(.1)" font-size="22" text-anchor="middle" fill="#3a3a3a">6</text>
<text transform="translate(313.17 423.66) scale(.1)" font-size="22" text-anchor="middle" fill="#3a3a3a">7</text>
<text transform="translate(305.02 424.56) scale(.1)" font-size="22" text-anchor="middle" fill="#3a3a3a">8</text>
<text transform="translate(297.48 422.94) scale(.1)" font-size="22" text-anchor="middle" fill="#3a3a3a">9</text>
<text transform="translate(290.51 419.23) scale(.1)" font-size="22" text-anchor="middle" fill="#3a3a3a">10</text>
<text transform="translate(285.53 413.91) scale(.1)" font-size="22" text-anchor="middle" fill="#3a3a3a">11</text>
<text transform="translate(282.33 407.41) scale(.1)" font-size="22" text-anchor="middle" fill="#3a3a3a">12</text>
<text transform="translate(281.17 400.81) scale(.1)" font-size="22" text-anchor="middle" fill="#3a3a3a">13</text>
<text transform="translate(281.66 394.85) scale(.1)" font-size="22" text-anchor="middle" fill="#3a3a3a">14</text>
<text transform="translate(283.43 389.47) scale(.1)" font-size="22" text-anchor="middle" fill="#3a3a3a">15</text>
<text transform="translate(286.10 385.00) scale(.1)" font-size="22" text-anchor="middle" fill="#3a3a3a">16</text>
<text transform="translate(289.19 381.59) scale(.1)" font-size="22" text-anchor="middle" fill="#3a3a3a">17</text>
<text transform="translate(292.60 378.98) scale(.1)" font-size="22" text-anchor="middle" fill="#3a3a3a">18</text>
<text transform="translate(295.85 377.23) scale(.1)" font-size="22" text-anchor="middle" fill="#3a3a3a">19</text>
<text transform="translate(298.95 376.10) scale(.1)" font-size="22" text-anchor="middle" fill="#3a3a3a">20</text>
<text transform="translate(301.87 375.43) scale(.1)" font-size="22" text-anchor="middle" fill="#3a3a3a">21</text>
<text transform="translate(304.52 375.14) scale(.1)" font-size="22" text-anchor="middle" fill="#3a3a3a">22</text>
<path d="M325.87 405.81A20.80 20.80 0 0 1 321.76 412.52" fill="none" stroke="#a8062c" stroke-width="4.60" />
<path d="M315.92 382.64L318.29 378.70" stroke="#f1ecf6" stroke-width="0.25" opacity="0.22"/>
<path d="M322.64 389.64L326.68 387.43" stroke="#f1ecf6" stroke-width="0.25" opacity="0.22"/>
<path d="M324.86 397.25L329.45 396.94" stroke="#f1ecf6" stroke-width="0.25" opacity="0.22"/>
<path d="M323.78 404.83L328.11 406.41" stroke="#f1ecf6" stroke-width="0.32" opacity="0.8"/>
<path d="M320.01 411.03L323.39 414.15" stroke="#f1ecf6" stroke-width="0.32" opacity="0.8"/>
<path d="M314.50 415.13L316.52 419.27" stroke="#f1ecf6" stroke-width="0.25" opacity="0.22"/>
<path d="M308.36 416.90L308.85 421.47" stroke="#f1ecf6" stroke-width="0.25" opacity="0.22"/>
<path d="M302.50 416.58L301.53 421.08" stroke="#f1ecf6" stroke-width="0.25" opacity="0.22"/>
<path d="M297.21 414.55L294.92 418.55" stroke="#f1ecf6" stroke-width="0.25" opacity="0.22"/>
<path d="M292.91 411.16L289.56 414.31" stroke="#f1ecf6" stroke-width="0.25" opacity="0.22"/>
<path d="M289.82 406.70L285.69 408.74" stroke="#f1ecf6" stroke-width="0.25" opacity="0.22"/>
<path d="M288.16 401.57L283.62 402.34" stroke="#f1ecf6" stroke-width="0.25" opacity="0.22"/>
<path d="M287.97 396.95L283.38 396.56" stroke="#f1ecf6" stroke-width="0.25" opacity="0.22"/>
<path d="M288.83 392.72L284.46 391.29" stroke="#f1ecf6" stroke-width="0.25" opacity="0.22"/>
<path d="M290.56 388.95L286.62 386.58" stroke="#f1ecf6" stroke-width="0.25" opacity="0.22"/>
<path d="M292.72 386.04L289.32 382.94" stroke="#f1ecf6" stroke-width="0.25" opacity="0.22"/>
<path d="M295.13 383.83L292.33 380.18" stroke="#f1ecf6" stroke-width="0.25" opacity="0.22"/>
<path d="M297.78 382.13L295.63 378.06" stroke="#f1ecf6" stroke-width="0.25" opacity="0.22"/>
<path d="M299.95 381.16L298.35 376.85" stroke="#f1ecf6" stroke-width="0.25" opacity="0.22"/>
<path d="M302.39 380.44L301.39 375.95" stroke="#f1ecf6" stroke-width="0.25" opacity="0.22"/>
<path d="M304.30 380.12L303.77 375.55" stroke="#f1ecf6" stroke-width="0.25" opacity="0.22"/>
<path d="M306.35 380.00L306.34 375.40" stroke="#f1ecf6" stroke-width="0.25" opacity="0.22"/>
<circle cx="306.00" cy="404.10" r="6.6" fill="none" stroke="#bfaed0" stroke-width="2.2"/>
<text transform="translate(296.40 404.90) scale(.1)" font-size="20" text-anchor="middle" fill="#333">Y</text>
<text transform="translate(315.70 404.90) scale(.1)" font-size="20" text-anchor="middle" fill="#333">X</text>
<path d="M448.0 170V425.8" stroke="#000" stroke-width="1.2" stroke-dasharray="1.05 1.1" fill="none"/>
<text transform="translate(418.00 176.25) scale(.1)" font-size="63" text-anchor="middle" fill="#000" stroke="#000" stroke-width="0.4">MDS</text>
<text transform="translate(480.20 176.25) scale(.1)" font-size="63" text-anchor="middle" fill="#000" stroke="#000" stroke-width="0.4">AML</text>
<text transform="translate(356.03 212.50) rotate(-90.0) scale(.1)" font-size="62" text-anchor="middle" fill="#000" stroke="#000" stroke-width="0.4">Somatic mutations</text>
<text transform="translate(372.12 212.20) rotate(-90.0) scale(.1)" font-size="56" text-anchor="middle" fill="#000" textLength="560" lengthAdjust="spacingAndGlyphs" stroke="#000" stroke-width="1.3">Variant allele frequency (%)</text>
<text transform="translate(356.07 338.50) rotate(-90.0) scale(.1)" font-size="63" text-anchor="middle" fill="#000" stroke="#000" stroke-width="0.4">Cytogenetic clones</text>
<text transform="translate(386.40 242.55) scale(.1)" font-size="54" text-anchor="end" fill="#000" stroke="#000" stroke-width="1.0">0</text>
<text transform="translate(386.40 231.15) scale(.1)" font-size="54" text-anchor="end" fill="#000" stroke="#000" stroke-width="1.0">20</text>
<text transform="translate(386.40 219.75) scale(.1)" font-size="54" text-anchor="end" fill="#000" stroke="#000" stroke-width="1.0">40</text>
<text transform="translate(386.40 208.35) scale(.1)" font-size="54" text-anchor="end" fill="#000" stroke="#000" stroke-width="1.0">60</text>
<text transform="translate(386.40 196.95) scale(.1)" font-size="54" text-anchor="end" fill="#000" stroke="#000" stroke-width="1.0">80</text>
<text transform="translate(386.40 185.55) scale(.1)" font-size="54" text-anchor="end" fill="#000" stroke="#000" stroke-width="1.0">100</text>
<path d="M389.6 180.6V240.6H513" stroke="#1c1c1c" stroke-width="1.3" fill="none" stroke-linejoin="miter"/>
<path d="M426.60 232.05L477.20 239.17" stroke="#e8921a" stroke-width="0.85" fill="none"/>
<circle cx="426.60" cy="232.05" r="1.6" fill="#e8921a"/>
<circle cx="477.20" cy="239.17" r="1.6" fill="#e8921a"/>
<path d="M426.60 226.98L477.20 209.25" stroke="#a8062c" stroke-width="0.85" fill="none"/>
<circle cx="426.60" cy="226.98" r="1.6" fill="#a8062c"/>
<circle cx="477.20" cy="209.25" r="1.6" fill="#a8062c"/>
<path d="M398.0 188.2H403.20000000000005" stroke="#a8062c" stroke-width="0.9"/>
<circle cx="400.6" cy="188.2" r="1.6" fill="#a8062c"/>
<text transform="translate(406.40 189.75) scale(.1)" font-size="44" text-anchor="start" fill="#2a2a2a" font-style="italic">TP53 P151R</text>
<path d="M398.0 196.2H403.20000000000005" stroke="#e8921a" stroke-width="0.9"/>
<circle cx="400.6" cy="196.2" r="1.6" fill="#e8921a"/>
<text transform="translate(406.40 197.75) scale(.1)" font-size="44" text-anchor="start" fill="#2a2a2a" font-style="italic">TET2 E1879*</text>
<circle cx="415.2" cy="277.7" r="22.05" fill="none" stroke="#c7bad4" stroke-width="4.90"/>
<text transform="translate(422.22 253.86) scale(.1)" font-size="22" text-anchor="middle" fill="#3a3a3a">1</text>
<text transform="translate(434.11 260.99) scale(.1)" font-size="22" text-anchor="middle" fill="#3a3a3a">2</text>
<text transform="translate(440.32 271.80) scale(.1)" font-size="22" text-anchor="middle" fill="#3a3a3a">3</text>
<text transform="translate(441.08 282.79) scale(.1)" font-size="22" text-anchor="middle" fill="#3a3a3a">4</text>
<text transform="translate(437.50 292.71) scale(.1)" font-size="22" text-anchor="middle" fill="#3a3a3a">5</text>
<text transform="translate(430.76 300.07) scale(.1)" font-size="22" text-anchor="middle" fill="#3a3a3a">6</text>
<text transform="translate(422.36 304.20) scale(.1)" font-size="22" text-anchor="middle" fill="#3a3a3a">7</text>
<text transform="translate(413.75 305.16) scale(.1)" font-size="22" text-anchor="middle" fill="#3a3a3a">8</text>
<text transform="translate(405.77 303.44) scale(.1)" font-size="22" text-anchor="middle" fill="#3a3a3a">9</text>
<text transform="translate(398.44 299.53) scale(.1)" font-size="22" text-anchor="middle" fill="#3a3a3a">10</text>
<text transform="translate(393.18 293.90) scale(.1)" font-size="22" text-anchor="middle" fill="#3a3a3a">11</text>
<text transform="translate(389.80 287.04) scale(.1)" font-size="22" text-anchor="middle" fill="#3a3a3a">12</text>
<text transform="translate(388.57 280.06) scale(.1)" font-size="22" text-anchor="middle" fill="#3a3a3a">13</text>
<text transform="translate(389.09 273.76) scale(.1)" font-size="22" text-anchor="middle" fill="#3a3a3a">14</text>
<text transform="translate(390.96 268.09) scale(.1)" font-size="22" text-anchor="middle" fill="#3a3a3a">15</text>
<text transform="translate(393.78 263.36) scale(.1)" font-size="22" text-anchor="middle" fill="#3a3a3a">16</text>
<text transform="translate(397.05 259.76) scale(.1)" font-size="22" text-anchor="middle" fill="#3a3a3a">17</text>
<text transform="translate(400.65 257.00) scale(.1)" font-size="22" text-anchor="middle" fill="#3a3a3a">18</text>
<text transform="translate(404.09 255.15) scale(.1)" font-size="22" text-anchor="middle" fill="#3a3a3a">19</text>
<text transform="translate(407.35 253.95) scale(.1)" font-size="22" text-anchor="middle" fill="#3a3a3a">20</text>
<text transform="translate(410.44 253.25) scale(.1)" font-size="22" text-anchor="middle" fill="#3a3a3a">21</text>
<text transform="translate(413.25 252.94) scale(.1)" font-size="22" text-anchor="middle" fill="#3a3a3a">22</text>
<path d="M425.29 260.90L427.81 256.70" stroke="#f1ecf6" stroke-width="0.25" opacity="0.22"/>
<path d="M432.40 268.31L436.70 265.96" stroke="#f1ecf6" stroke-width="0.25" opacity="0.22"/>
<path d="M434.76 276.38L439.64 276.05" stroke="#f1ecf6" stroke-width="0.25" opacity="0.22"/>
<path d="M433.62 284.41L438.22 286.08" stroke="#f1ecf6" stroke-width="0.25" opacity="0.22"/>
<path d="M429.62 290.98L433.22 294.30" stroke="#f1ecf6" stroke-width="0.25" opacity="0.22"/>
<path d="M423.78 295.32L425.93 299.73" stroke="#f1ecf6" stroke-width="0.25" opacity="0.22"/>
<path d="M417.28 297.19L417.80 302.06" stroke="#f1ecf6" stroke-width="0.25" opacity="0.22"/>
<path d="M411.07 296.86L410.04 301.65" stroke="#f1ecf6" stroke-width="0.25" opacity="0.22"/>
<path d="M405.46 294.71L403.02 298.96" stroke="#f1ecf6" stroke-width="0.25" opacity="0.22"/>
<path d="M400.91 291.12L397.34 294.47" stroke="#f1ecf6" stroke-width="0.25" opacity="0.22"/>
<path d="M397.63 286.39L393.24 288.56" stroke="#f1ecf6" stroke-width="0.25" opacity="0.22"/>
<path d="M395.87 280.96L391.04 281.77" stroke="#f1ecf6" stroke-width="0.25" opacity="0.22"/>
<path d="M395.67 276.05L390.79 275.64" stroke="#f1ecf6" stroke-width="0.25" opacity="0.22"/>
<path d="M396.58 271.58L391.93 270.05" stroke="#f1ecf6" stroke-width="0.25" opacity="0.22"/>
<path d="M398.41 267.58L394.22 265.05" stroke="#f1ecf6" stroke-width="0.25" opacity="0.22"/>
<path d="M400.71 264.50L397.09 261.20" stroke="#f1ecf6" stroke-width="0.25" opacity="0.22"/>
<path d="M403.26 262.16L400.27 258.27" stroke="#f1ecf6" stroke-width="0.25" opacity="0.22"/>
<path d="M406.06 260.36L403.78 256.02" stroke="#f1ecf6" stroke-width="0.25" opacity="0.22"/>
<path d="M408.37 259.33L406.66 254.74" stroke="#f1ecf6" stroke-width="0.25" opacity="0.22"/>
<path d="M410.95 258.57L409.88 253.78" stroke="#f1ecf6" stroke-width="0.25" opacity="0.22"/>
<path d="M412.97 258.23L412.41 253.36" stroke="#f1ecf6" stroke-width="0.25" opacity="0.22"/>
<path d="M415.15 258.10L415.14 253.20" stroke="#f1ecf6" stroke-width="0.25" opacity="0.22"/>
<path d="M414.20 272.74A4.90 4.90 0 0 1 413.51 282.50" fill="none" stroke="#bfaed0" stroke-width="1.5" />
<path d="M413.51 282.50A4.90 4.90 0 0 1 408.70 277.43" fill="none" stroke="#a8062c" stroke-width="2.0" />
<text transform="translate(421.40 278.40) scale(.1)" font-size="20" text-anchor="middle" fill="#333">X</text>
<text transform="translate(407.80 283.30) scale(.1)" font-size="20" text-anchor="middle" fill="#333">Y</text>
<circle cx="413.4" cy="338.3" r="22.15" fill="none" stroke="#c7bad4" stroke-width="4.90"/>
<text transform="translate(420.44 314.36) scale(.1)" font-size="22" text-anchor="middle" fill="#3a3a3a">1</text>
<text transform="translate(432.39 321.52) scale(.1)" font-size="22" text-anchor="middle" fill="#3a3a3a">2</text>
<text transform="translate(438.62 332.37) scale(.1)" font-size="22" text-anchor="middle" fill="#3a3a3a">3</text>
<text transform="translate(439.38 343.40) scale(.1)" font-size="22" text-anchor="middle" fill="#3a3a3a">4</text>
<text transform="translate(435.79 353.36) scale(.1)" font-size="22" text-anchor="middle" fill="#3a3a3a">5</text>
<text transform="translate(429.02 360.75) scale(.1)" font-size="22" text-anchor="middle" fill="#3a3a3a">6</text>
<text transform="translate(420.58 364.90) scale(.1)" font-size="22" text-anchor="middle" fill="#3a3a3a">7</text>
<text transform="translate(411.94 365.86) scale(.1)" font-size="22" text-anchor="middle" fill="#3a3a3a">8</text>
<text transform="translate(403.94 364.13) scale(.1)" font-size="22" text-anchor="middle" fill="#3a3a3a">9</text>
<text transform="translate(396.58 360.21) scale(.1)" font-size="22" text-anchor="middle" fill="#3a3a3a">10</text>
<text transform="translate(391.29 354.56) scale(.1)" font-size="22" text-anchor="middle" fill="#3a3a3a">11</text>
<text transform="translate(387.90 347.67) scale(.1)" font-size="22" text-anchor="middle" fill="#3a3a3a">12</text>
<text transform="translate(386.67 340.67) scale(.1)" font-size="22" text-anchor="middle" fill="#3a3a3a">13</text>
<text transform="translate(387.19 334.34) scale(.1)" font-size="22" text-anchor="middle" fill="#3a3a3a">14</text>
<text transform="translate(389.07 328.64) scale(.1)" font-size="22" text-anchor="middle" fill="#3a3a3a">15</text>
<text transform="translate(391.90 323.90) scale(.1)" font-size="22" text-anchor="middle" fill="#3a3a3a">16</text>
<text transform="translate(395.18 320.28) scale(.1)" font-size="22" text-anchor="middle" fill="#3a3a3a">17</text>
<text transform="translate(398.79 317.51) scale(.1)" font-size="22" text-anchor="middle" fill="#3a3a3a">18</text>
<text transform="translate(402.25 315.66) scale(.1)" font-size="22" text-anchor="middle" fill="#3a3a3a">19</text>
<text transform="translate(405.52 314.46) scale(.1)" font-size="22" text-anchor="middle" fill="#3a3a3a">20</text>
<text transform="translate(408.62 313.75) scale(.1)" font-size="22" text-anchor="middle" fill="#3a3a3a">21</text>
<text transform="translate(411.44 313.44) scale(.1)" font-size="22" text-anchor="middle" fill="#3a3a3a">22</text>
<path d="M391.52 341.77A22.15 22.15 0 0 1 391.32 336.53" fill="none" stroke="#a8062c" stroke-width="4.90" />
<path d="M434.14 346.08A22.15 22.15 0 0 1 429.76 353.23" fill="none" stroke="#a8062c" stroke-width="4.90" />
<path d="M423.54 321.41L426.06 317.21" stroke="#f1ecf6" stroke-width="0.25" opacity="0.22"/>
<path d="M430.69 328.86L434.99 326.51" stroke="#f1ecf6" stroke-width="0.25" opacity="0.22"/>
<path d="M433.06 336.97L437.94 336.64" stroke="#f1ecf6" stroke-width="0.25" opacity="0.22"/>
<path d="M431.91 345.04L436.51 346.72" stroke="#f1ecf6" stroke-width="0.32" opacity="0.8"/>
<path d="M427.89 351.65L431.49 354.97" stroke="#f1ecf6" stroke-width="0.32" opacity="0.8"/>
<path d="M422.03 356.01L424.17 360.42" stroke="#f1ecf6" stroke-width="0.25" opacity="0.22"/>
<path d="M415.49 357.89L416.01 362.76" stroke="#f1ecf6" stroke-width="0.25" opacity="0.22"/>
<path d="M409.25 357.56L408.22 362.35" stroke="#f1ecf6" stroke-width="0.25" opacity="0.22"/>
<path d="M403.61 355.40L401.18 359.65" stroke="#f1ecf6" stroke-width="0.25" opacity="0.22"/>
<path d="M399.04 351.78L395.47 355.14" stroke="#f1ecf6" stroke-width="0.25" opacity="0.22"/>
<path d="M395.74 347.03L391.35 349.21" stroke="#f1ecf6" stroke-width="0.25" opacity="0.22"/>
<path d="M393.97 341.57L389.14 342.39" stroke="#f1ecf6" stroke-width="0.32" opacity="0.8"/>
<path d="M393.77 336.64L388.89 336.23" stroke="#f1ecf6" stroke-width="0.32" opacity="0.8"/>
<path d="M394.69 332.15L390.03 330.62" stroke="#f1ecf6" stroke-width="0.25" opacity="0.22"/>
<path d="M396.53 328.13L392.33 325.60" stroke="#f1ecf6" stroke-width="0.25" opacity="0.22"/>
<path d="M398.84 325.03L395.21 321.73" stroke="#f1ecf6" stroke-width="0.25" opacity="0.22"/>
<path d="M401.40 322.68L398.41 318.79" stroke="#f1ecf6" stroke-width="0.25" opacity="0.22"/>
<path d="M404.22 320.87L401.93 316.54" stroke="#f1ecf6" stroke-width="0.25" opacity="0.22"/>
<path d="M406.53 319.84L404.82 315.24" stroke="#f1ecf6" stroke-width="0.25" opacity="0.22"/>
<path d="M409.13 319.07L408.06 314.29" stroke="#f1ecf6" stroke-width="0.25" opacity="0.22"/>
<path d="M411.16 318.73L410.60 313.86" stroke="#f1ecf6" stroke-width="0.25" opacity="0.22"/>
<path d="M413.35 318.60L413.34 313.70" stroke="#f1ecf6" stroke-width="0.25" opacity="0.22"/>
<path d="M412.40 333.34A4.90 4.90 0 0 1 411.71 343.10" fill="none" stroke="#bfaed0" stroke-width="1.5" />
<path d="M411.71 343.10A4.90 4.90 0 0 1 406.90 338.03" fill="none" stroke="#a8062c" stroke-width="2.0" />
<text transform="translate(419.60 339.00) scale(.1)" font-size="20" text-anchor="middle" fill="#333">X</text>
<text transform="translate(406.00 343.90) scale(.1)" font-size="20" text-anchor="middle" fill="#333">Y</text>
<circle cx="482.6" cy="278.6" r="22.70" fill="none" stroke="#c7bad4" stroke-width="5.40"/>
<text transform="translate(489.86 253.89) scale(.1)" font-size="22" text-anchor="middle" fill="#3a3a3a">1</text>
<text transform="translate(502.17 261.27) scale(.1)" font-size="22" text-anchor="middle" fill="#3a3a3a">2</text>
<text transform="translate(508.59 272.45) scale(.1)" font-size="22" text-anchor="middle" fill="#3a3a3a">3</text>
<text transform="translate(509.37 283.82) scale(.1)" font-size="22" text-anchor="middle" fill="#3a3a3a">4</text>
<text transform="translate(505.67 294.08) scale(.1)" font-size="22" text-anchor="middle" fill="#3a3a3a">5</text>
<text transform="translate(498.69 301.69) scale(.1)" font-size="22" text-anchor="middle" fill="#3a3a3a">6</text>
<text transform="translate(490.00 305.97) scale(.1)" font-size="22" text-anchor="middle" fill="#3a3a3a">7</text>
<text transform="translate(481.10 306.96) scale(.1)" font-size="22" text-anchor="middle" fill="#3a3a3a">8</text>
<text transform="translate(472.85 305.18) scale(.1)" font-size="22" text-anchor="middle" fill="#3a3a3a">9</text>
<text transform="translate(465.28 301.13) scale(.1)" font-size="22" text-anchor="middle" fill="#3a3a3a">10</text>
<text transform="translate(459.84 295.31) scale(.1)" font-size="22" text-anchor="middle" fill="#3a3a3a">11</text>
<text transform="translate(456.34 288.21) scale(.1)" font-size="22" text-anchor="middle" fill="#3a3a3a">12</text>
<text transform="translate(455.07 281.00) scale(.1)" font-size="22" text-anchor="middle" fill="#3a3a3a">13</text>
<text transform="translate(455.61 274.48) scale(.1)" font-size="22" text-anchor="middle" fill="#3a3a3a">14</text>
<text transform="translate(457.54 268.61) scale(.1)" font-size="22" text-anchor="middle" fill="#3a3a3a">15</text>
<text transform="translate(460.46 263.73) scale(.1)" font-size="22" text-anchor="middle" fill="#3a3a3a">16</text>
<text transform="translate(463.84 259.99) scale(.1)" font-size="22" text-anchor="middle" fill="#3a3a3a">17</text>
<text transform="translate(467.56 257.14) scale(.1)" font-size="22" text-anchor="middle" fill="#3a3a3a">18</text>
<text transform="translate(471.12 255.23) scale(.1)" font-size="22" text-anchor="middle" fill="#3a3a3a">19</text>
<text transform="translate(474.50 253.99) scale(.1)" font-size="22" text-anchor="middle" fill="#3a3a3a">20</text>
<text transform="translate(477.69 253.26) scale(.1)" font-size="22" text-anchor="middle" fill="#3a3a3a">21</text>
<text transform="translate(480.60 252.94) scale(.1)" font-size="22" text-anchor="middle" fill="#3a3a3a">22</text>
<path d="M503.85 286.57A22.70 22.70 0 0 1 499.36 293.91" fill="none" stroke="#a8062c" stroke-width="5.40" />
<path d="M499.15 294.14A22.70 22.70 0 0 1 492.63 298.96" fill="none" stroke="#a8062c" stroke-width="5.40" />
<path d="M492.34 299.10A22.70 22.70 0 0 1 485.11 301.16" fill="none" stroke="#a8062c" stroke-width="5.40" />
<path d="M465.90 293.98A22.70 22.70 0 0 1 462.30 288.75" fill="none" stroke="#5ea330" stroke-width="5.40" />
<path d="M462.16 288.47A22.70 22.70 0 0 1 460.23 282.47" fill="none" stroke="#5ea330" stroke-width="5.40" />
<path d="M460.18 282.15A22.70 22.70 0 0 1 459.97 276.79" fill="none" stroke="#a8062c" stroke-width="5.40" />
<path d="M492.90 261.45L495.68 256.82" stroke="#f1ecf6" stroke-width="0.25" opacity="0.22"/>
<path d="M500.15 269.02L504.89 266.43" stroke="#f1ecf6" stroke-width="0.25" opacity="0.22"/>
<path d="M502.55 277.25L507.94 276.89" stroke="#f1ecf6" stroke-width="0.25" opacity="0.22"/>
<path d="M501.39 285.44L506.47 287.29" stroke="#f1ecf6" stroke-width="0.32" opacity="0.8"/>
<path d="M497.31 292.15L501.28 295.81" stroke="#f1ecf6" stroke-width="0.32" opacity="0.8"/>
<path d="M491.36 296.58L493.72 301.43" stroke="#f1ecf6" stroke-width="0.32" opacity="0.8"/>
<path d="M484.72 298.49L485.29 303.86" stroke="#f1ecf6" stroke-width="0.32" opacity="0.8"/>
<path d="M478.38 298.15L477.25 303.43" stroke="#f1ecf6" stroke-width="0.25" opacity="0.22"/>
<path d="M472.66 295.96L469.98 300.64" stroke="#f1ecf6" stroke-width="0.25" opacity="0.22"/>
<path d="M468.02 292.29L464.08 295.99" stroke="#f1ecf6" stroke-width="0.32" opacity="0.8"/>
<path d="M464.67 287.47L459.83 289.86" stroke="#f1ecf6" stroke-width="0.32" opacity="0.8"/>
<path d="M462.88 281.92L457.55 282.82" stroke="#f1ecf6" stroke-width="0.32" opacity="0.8"/>
<path d="M462.67 276.92L457.29 276.47" stroke="#f1ecf6" stroke-width="0.32" opacity="0.8"/>
<path d="M463.60 272.35L458.47 270.67" stroke="#f1ecf6" stroke-width="0.25" opacity="0.22"/>
<path d="M465.47 268.28L460.85 265.49" stroke="#f1ecf6" stroke-width="0.25" opacity="0.22"/>
<path d="M467.82 265.13L463.82 261.49" stroke="#f1ecf6" stroke-width="0.25" opacity="0.22"/>
<path d="M470.41 262.74L467.12 258.46" stroke="#f1ecf6" stroke-width="0.25" opacity="0.22"/>
<path d="M473.28 260.91L470.76 256.13" stroke="#f1ecf6" stroke-width="0.25" opacity="0.22"/>
<path d="M475.63 259.86L473.74 254.79" stroke="#f1ecf6" stroke-width="0.25" opacity="0.22"/>
<path d="M478.26 259.08L477.09 253.80" stroke="#f1ecf6" stroke-width="0.25" opacity="0.22"/>
<path d="M480.33 258.73L479.71 253.36" stroke="#f1ecf6" stroke-width="0.25" opacity="0.22"/>
<path d="M482.55 258.60L482.53 253.20" stroke="#f1ecf6" stroke-width="0.25" opacity="0.22"/>
<path d="M483.00 267.21A11.40 11.40 0 0 1 493.09 274.15" fill="none" stroke="#bfaed0" stroke-width="1.5" />
<path d="M481.67 273.53A4.95 4.95 0 1 1 476.20 278.62" fill="none" stroke="#bfaed0" stroke-width="1.6" />
<text transform="translate(489.20 279.00) scale(.1)" font-size="20" text-anchor="middle" fill="#333">X</text>
<text transform="translate(474.80 283.90) scale(.1)" font-size="20" text-anchor="middle" fill="#333">Y</text>
<circle cx="482.6" cy="338.4" r="22.70" fill="none" stroke="#c7bad4" stroke-width="5.40"/>
<text transform="translate(489.86 313.69) scale(.1)" font-size="22" text-anchor="middle" fill="#3a3a3a">1</text>
<text transform="translate(502.17 321.07) scale(.1)" font-size="22" text-anchor="middle" fill="#3a3a3a">2</text>
<text transform="translate(508.59 332.25) scale(.1)" font-size="22" text-anchor="middle" fill="#3a3a3a">3</text>
<text transform="translate(509.37 343.62) scale(.1)" font-size="22" text-anchor="middle" fill="#3a3a3a">4</text>
<text transform="translate(505.67 353.88) scale(.1)" font-size="22" text-anchor="middle" fill="#3a3a3a">5</text>
<text transform="translate(498.69 361.49) scale(.1)" font-size="22" text-anchor="middle" fill="#3a3a3a">6</text>
<text transform="translate(490.00 365.77) scale(.1)" font-size="22" text-anchor="middle" fill="#3a3a3a">7</text>
<text transform="translate(481.10 366.76) scale(.1)" font-size="22" text-anchor="middle" fill="#3a3a3a">8</text>
<text transform="translate(472.85 364.98) scale(.1)" font-size="22" text-anchor="middle" fill="#3a3a3a">9</text>
<text transform="translate(465.28 360.93) scale(.1)" font-size="22" text-anchor="middle" fill="#3a3a3a">10</text>
<text transform="translate(459.84 355.11) scale(.1)" font-size="22" text-anchor="middle" fill="#3a3a3a">11</text>
<text transform="translate(456.34 348.01) scale(.1)" font-size="22" text-anchor="middle" fill="#3a3a3a">12</text>
<text transform="translate(455.07 340.80) scale(.1)" font-size="22" text-anchor="middle" fill="#3a3a3a">13</text>
<text transform="translate(455.61 334.28) scale(.1)" font-size="22" text-anchor="middle" fill="#3a3a3a">14</text>
<text transform="translate(457.54 328.41) scale(.1)" font-size="22" text-anchor="middle" fill="#3a3a3a">15</text>
<text transform="translate(460.46 323.53) scale(.1)" font-size="22" text-anchor="middle" fill="#3a3a3a">16</text>
<text transform="translate(463.84 319.79) scale(.1)" font-size="22" text-anchor="middle" fill="#3a3a3a">17</text>
<text transform="translate(467.56 316.94) scale(.1)" font-size="22" text-anchor="middle" fill="#3a3a3a">18</text>
<text transform="translate(471.12 315.03) scale(.1)" font-size="22" text-anchor="middle" fill="#3a3a3a">19</text>
<text transform="translate(474.50 313.79) scale(.1)" font-size="22" text-anchor="middle" fill="#3a3a3a">20</text>
<text transform="translate(477.69 313.06) scale(.1)" font-size="22" text-anchor="middle" fill="#3a3a3a">21</text>
<text transform="translate(480.60 312.74) scale(.1)" font-size="22" text-anchor="middle" fill="#3a3a3a">22</text>
<path d="M502.63 327.72A22.70 22.70 0 0 1 505.24 336.77" fill="none" stroke="#5ea330" stroke-width="5.40" />
<path d="M503.85 346.37A22.70 22.70 0 0 1 499.36 353.71" fill="none" stroke="#a8062c" stroke-width="5.40" />
<path d="M499.15 353.94A22.70 22.70 0 0 1 492.63 358.76" fill="none" stroke="#a8062c" stroke-width="5.40" />
<path d="M492.34 358.90A22.70 22.70 0 0 1 485.11 360.96" fill="none" stroke="#a8062c" stroke-width="5.40" />
<path d="M465.90 353.78A22.70 22.70 0 0 1 462.30 348.55" fill="none" stroke="#5ea330" stroke-width="5.40" />
<path d="M462.16 348.27A22.70 22.70 0 0 1 460.23 342.27" fill="none" stroke="#213f7b" stroke-width="5.40" />
<path d="M460.18 341.95A22.70 22.70 0 0 1 459.97 336.59" fill="none" stroke="#a8062c" stroke-width="5.40" />
<path d="M492.90 321.25L495.68 316.62" stroke="#f1ecf6" stroke-width="0.25" opacity="0.22"/>
<path d="M500.15 328.82L504.89 326.23" stroke="#f1ecf6" stroke-width="0.32" opacity="0.8"/>
<path d="M502.55 337.05L507.94 336.69" stroke="#f1ecf6" stroke-width="0.32" opacity="0.8"/>
<path d="M501.39 345.24L506.47 347.09" stroke="#f1ecf6" stroke-width="0.32" opacity="0.8"/>
<path d="M497.31 351.95L501.28 355.61" stroke="#f1ecf6" stroke-width="0.32" opacity="0.8"/>
<path d="M491.36 356.38L493.72 361.23" stroke="#f1ecf6" stroke-width="0.32" opacity="0.8"/>
<path d="M484.72 358.29L485.29 363.66" stroke="#f1ecf6" stroke-width="0.32" opacity="0.8"/>
<path d="M478.38 357.95L477.25 363.23" stroke="#f1ecf6" stroke-width="0.25" opacity="0.22"/>
<path d="M472.66 355.76L469.98 360.44" stroke="#f1ecf6" stroke-width="0.25" opacity="0.22"/>
<path d="M468.02 352.09L464.08 355.79" stroke="#f1ecf6" stroke-width="0.32" opacity="0.8"/>
<path d="M464.67 347.27L459.83 349.66" stroke="#f1ecf6" stroke-width="0.32" opacity="0.8"/>
<path d="M462.88 341.72L457.55 342.62" stroke="#f1ecf6" stroke-width="0.32" opacity="0.8"/>
<path d="M462.67 336.72L457.29 336.27" stroke="#f1ecf6" stroke-width="0.32" opacity="0.8"/>
<path d="M463.60 332.15L458.47 330.47" stroke="#f1ecf6" stroke-width="0.25" opacity="0.22"/>
<path d="M465.47 328.08L460.85 325.29" stroke="#f1ecf6" stroke-width="0.25" opacity="0.22"/>
<path d="M467.82 324.93L463.82 321.29" stroke="#f1ecf6" stroke-width="0.25" opacity="0.22"/>
<path d="M470.41 322.54L467.12 318.26" stroke="#f1ecf6" stroke-width="0.25" opacity="0.22"/>
<path d="M473.28 320.71L470.76 315.93" stroke="#f1ecf6" stroke-width="0.25" opacity="0.22"/>
<path d="M475.63 319.66L473.74 314.59" stroke="#f1ecf6" stroke-width="0.25" opacity="0.22"/>
<path d="M478.26 318.88L477.09 313.60" stroke="#f1ecf6" stroke-width="0.25" opacity="0.22"/>
<path d="M480.33 318.53L479.71 313.16" stroke="#f1ecf6" stroke-width="0.25" opacity="0.22"/>
<path d="M482.55 318.40L482.53 313.00" stroke="#f1ecf6" stroke-width="0.25" opacity="0.22"/>
<path d="M481.67 333.33A4.95 4.95 0 1 1 476.20 338.42" fill="none" stroke="#bfaed0" stroke-width="1.6" />
<text transform="translate(489.20 338.80) scale(.1)" font-size="20" text-anchor="middle" fill="#333">X</text>
<text transform="translate(474.80 343.70) scale(.1)" font-size="20" text-anchor="middle" fill="#333">Y</text>
<circle cx="482.6" cy="398.1" r="22.70" fill="none" stroke="#c7bad4" stroke-width="5.40"/>
<text transform="translate(489.86 373.39) scale(.1)" font-size="22" text-anchor="middle" fill="#3a3a3a">1</text>
<text transform="translate(502.17 380.77) scale(.1)" font-size="22" text-anchor="middle" fill="#3a3a3a">2</text>
<text transform="translate(508.59 391.95) scale(.1)" font-size="22" text-anchor="middle" fill="#3a3a3a">3</text>
<text transform="translate(509.37 403.32) scale(.1)" font-size="22" text-anchor="middle" fill="#3a3a3a">4</text>
<text transform="translate(505.67 413.58) scale(.1)" font-size="22" text-anchor="middle" fill="#3a3a3a">5</text>
<text transform="translate(498.69 421.19) scale(.1)" font-size="22" text-anchor="middle" fill="#3a3a3a">6</text>
<text transform="translate(490.00 425.47) scale(.1)" font-size="22" text-anchor="middle" fill="#3a3a3a">7</text>
<text transform="translate(481.10 426.46) scale(.1)" font-size="22" text-anchor="middle" fill="#3a3a3a">8</text>
<text transform="translate(472.85 424.68) scale(.1)" font-size="22" text-anchor="middle" fill="#3a3a3a">9</text>
<text transform="translate(465.28 420.63) scale(.1)" font-size="22" text-anchor="middle" fill="#3a3a3a">10</text>
<text transform="translate(459.84 414.81) scale(.1)" font-size="22" text-anchor="middle" fill="#3a3a3a">11</text>
<text transform="translate(456.34 407.71) scale(.1)" font-size="22" text-anchor="middle" fill="#3a3a3a">12</text>
<text transform="translate(455.07 400.50) scale(.1)" font-size="22" text-anchor="middle" fill="#3a3a3a">13</text>
<text transform="translate(455.61 393.98) scale(.1)" font-size="22" text-anchor="middle" fill="#3a3a3a">14</text>
<text transform="translate(457.54 388.11) scale(.1)" font-size="22" text-anchor="middle" fill="#3a3a3a">15</text>
<text transform="translate(460.46 383.23) scale(.1)" font-size="22" text-anchor="middle" fill="#3a3a3a">16</text>
<text transform="translate(463.84 379.49) scale(.1)" font-size="22" text-anchor="middle" fill="#3a3a3a">17</text>
<text transform="translate(467.56 376.64) scale(.1)" font-size="22" text-anchor="middle" fill="#3a3a3a">18</text>
<text transform="translate(471.12 374.73) scale(.1)" font-size="22" text-anchor="middle" fill="#3a3a3a">19</text>
<text transform="translate(474.50 373.49) scale(.1)" font-size="22" text-anchor="middle" fill="#3a3a3a">20</text>
<text transform="translate(477.69 372.76) scale(.1)" font-size="22" text-anchor="middle" fill="#3a3a3a">21</text>
<text transform="translate(480.60 372.44) scale(.1)" font-size="22" text-anchor="middle" fill="#3a3a3a">22</text>
<path d="M478.35 375.80A22.70 22.70 0 0 1 479.75 375.58" fill="none" stroke="#213f7b" stroke-width="5.40" />
<path d="M468.94 379.97A22.70 22.70 0 0 1 471.93 378.06" fill="none" stroke="#213f7b" stroke-width="5.40" />
<path d="M461.10 390.80A22.70 22.70 0 0 1 463.11 386.47" fill="none" stroke="#a8062c" stroke-width="5.40" />
<path d="M503.85 406.07A22.70 22.70 0 0 1 499.36 413.41" fill="none" stroke="#a8062c" stroke-width="5.40" />
<path d="M499.15 413.64A22.70 22.70 0 0 1 492.63 418.46" fill="none" stroke="#a8062c" stroke-width="5.40" />
<path d="M492.34 418.60A22.70 22.70 0 0 1 485.11 420.66" fill="none" stroke="#a8062c" stroke-width="5.40" />
<path d="M465.90 413.48A22.70 22.70 0 0 1 462.30 408.25" fill="none" stroke="#5ea330" stroke-width="5.40" />
<path d="M462.16 407.97A22.70 22.70 0 0 1 460.23 401.97" fill="none" stroke="#a8062c" stroke-width="5.40" />
<path d="M460.18 401.65A22.70 22.70 0 0 1 459.97 396.29" fill="none" stroke="#a8062c" stroke-width="5.40" />
<path d="M492.90 380.95L495.68 376.32" stroke="#f1ecf6" stroke-width="0.25" opacity="0.22"/>
<path d="M500.15 388.52L504.89 385.93" stroke="#f1ecf6" stroke-width="0.25" opacity="0.22"/>
<path d="M502.55 396.75L507.94 396.39" stroke="#f1ecf6" stroke-width="0.25" opacity="0.22"/>
<path d="M501.39 404.94L506.47 406.79" stroke="#f1ecf6" stroke-width="0.32" opacity="0.8"/>
<path d="M497.31 411.65L501.28 415.31" stroke="#f1ecf6" stroke-width="0.32" opacity="0.8"/>
<path d="M491.36 416.08L493.72 420.93" stroke="#f1ecf6" stroke-width="0.32" opacity="0.8"/>
<path d="M484.72 417.99L485.29 423.36" stroke="#f1ecf6" stroke-width="0.32" opacity="0.8"/>
<path d="M478.38 417.65L477.25 422.93" stroke="#f1ecf6" stroke-width="0.25" opacity="0.22"/>
<path d="M472.66 415.46L469.98 420.14" stroke="#f1ecf6" stroke-width="0.25" opacity="0.22"/>
<path d="M468.02 411.79L464.08 415.49" stroke="#f1ecf6" stroke-width="0.32" opacity="0.8"/>
<path d="M464.67 406.97L459.83 409.36" stroke="#f1ecf6" stroke-width="0.32" opacity="0.8"/>
<path d="M462.88 401.42L457.55 402.32" stroke="#f1ecf6" stroke-width="0.32" opacity="0.8"/>
<path d="M462.67 396.42L457.29 395.97" stroke="#f1ecf6" stroke-width="0.32" opacity="0.8"/>
<path d="M463.60 391.85L458.47 390.17" stroke="#f1ecf6" stroke-width="0.32" opacity="0.8"/>
<path d="M465.47 387.78L460.85 384.99" stroke="#f1ecf6" stroke-width="0.32" opacity="0.8"/>
<path d="M467.82 384.63L463.82 380.99" stroke="#f1ecf6" stroke-width="0.25" opacity="0.22"/>
<path d="M470.41 382.24L467.12 377.96" stroke="#f1ecf6" stroke-width="0.32" opacity="0.8"/>
<path d="M473.28 380.41L470.76 375.63" stroke="#f1ecf6" stroke-width="0.32" opacity="0.8"/>
<path d="M475.63 379.36L473.74 374.29" stroke="#f1ecf6" stroke-width="0.25" opacity="0.22"/>
<path d="M478.26 378.58L477.09 373.30" stroke="#f1ecf6" stroke-width="0.25" opacity="0.22"/>
<path d="M480.33 378.23L479.71 372.86" stroke="#f1ecf6" stroke-width="0.25" opacity="0.22"/>
<path d="M482.55 378.10L482.53 372.70" stroke="#f1ecf6" stroke-width="0.25" opacity="0.22"/>
<path d="M483.00 386.71A11.40 11.40 0 0 1 493.09 393.65" fill="none" stroke="#bfaed0" stroke-width="1.5" />
<path d="M481.67 393.03A4.95 4.95 0 1 1 476.20 398.12" fill="none" stroke="#bfaed0" stroke-width="1.6" />
<text transform="translate(489.20 398.50) scale(.1)" font-size="20" text-anchor="middle" fill="#333">X</text>
<text transform="translate(474.80 403.40) scale(.1)" font-size="20" text-anchor="middle" fill="#333">Y</text>
<path d="M100.5 442V680.7" stroke="#000" stroke-width="1.2" stroke-dasharray="1.05 1.1" fill="none"/>
<text transform="translate(73.60 448.25) scale(.1)" font-size="63" text-anchor="middle" fill="#000" stroke="#000" stroke-width="0.4">MDS</text>
<text transform="translate(131.00 448.25) scale(.1)" font-size="63" text-anchor="middle" fill="#000" stroke="#000" stroke-width="0.4">AML</text>
<text transform="translate(13.03 484.50) rotate(-90.0) scale(.1)" font-size="62" text-anchor="middle" fill="#000" stroke="#000" stroke-width="0.4">Somatic mutations</text>
<text transform="translate(28.72 484.60) rotate(-90.0) scale(.1)" font-size="56" text-anchor="middle" fill="#000" textLength="560" lengthAdjust="spacingAndGlyphs" stroke="#000" stroke-width="1.3">Variant allele frequency (%)</text>
<text transform="translate(13.07 600.40) rotate(-90.0) scale(.1)" font-size="63" text-anchor="middle" fill="#000" stroke="#000" stroke-width="0.4">Cytogenetic clones</text>
<text transform="translate(42.60 512.15) scale(.1)" font-size="54" text-anchor="end" fill="#000" stroke="#000" stroke-width="1.0">0</text>
<text transform="translate(42.60 501.91) scale(.1)" font-size="54" text-anchor="end" fill="#000" stroke="#000" stroke-width="1.0">20</text>
<text transform="translate(42.60 491.67) scale(.1)" font-size="54" text-anchor="end" fill="#000" stroke="#000" stroke-width="1.0">40</text>
<text transform="translate(42.60 481.43) scale(.1)" font-size="54" text-anchor="end" fill="#000" stroke="#000" stroke-width="1.0">60</text>
<text transform="translate(42.60 471.19) scale(.1)" font-size="54" text-anchor="end" fill="#000" stroke="#000" stroke-width="1.0">80</text>
<text transform="translate(42.60 460.95) scale(.1)" font-size="54" text-anchor="end" fill="#000" stroke="#000" stroke-width="1.0">100</text>
<path d="M46.4 456V510.2H161.6" stroke="#1c1c1c" stroke-width="1.3" fill="none" stroke-linejoin="miter"/>
<path d="M79.60 492.02L126.00 495.86" stroke="#a8062c" stroke-width="0.85" fill="none"/>
<circle cx="79.60" cy="492.02" r="1.6" fill="#a8062c"/>
<circle cx="126.00" cy="495.86" r="1.6" fill="#a8062c"/>
<path d="M49.0 463.4H54.2" stroke="#a8062c" stroke-width="0.9"/>
<circle cx="51.6" cy="463.4" r="1.6" fill="#a8062c"/>
<text transform="translate(58.00 464.95) scale(.1)" font-size="44" text-anchor="start" fill="#2a2a2a" font-style="italic">TP53 R273C</text>
<circle cx="70.3" cy="544.4" r="20.20" fill="none" stroke="#c7bad4" stroke-width="4.60"/>
<text transform="translate(76.78 522.49) scale(.1)" font-size="22" text-anchor="middle" fill="#3a3a3a">1</text>
<text transform="translate(87.77 529.07) scale(.1)" font-size="22" text-anchor="middle" fill="#3a3a3a">2</text>
<text transform="translate(93.50 539.05) scale(.1)" font-size="22" text-anchor="middle" fill="#3a3a3a">3</text>
<text transform="translate(94.20 549.20) scale(.1)" font-size="22" text-anchor="middle" fill="#3a3a3a">4</text>
<text transform="translate(90.90 558.36) scale(.1)" font-size="22" text-anchor="middle" fill="#3a3a3a">5</text>
<text transform="translate(84.67 565.16) scale(.1)" font-size="22" text-anchor="middle" fill="#3a3a3a">6</text>
<text transform="translate(76.91 568.98) scale(.1)" font-size="22" text-anchor="middle" fill="#3a3a3a">7</text>
<text transform="translate(68.96 569.86) scale(.1)" font-size="22" text-anchor="middle" fill="#3a3a3a">8</text>
<text transform="translate(61.59 568.28) scale(.1)" font-size="22" text-anchor="middle" fill="#3a3a3a">9</text>
<text transform="translate(54.78 564.66) scale(.1)" font-size="22" text-anchor="middle" fill="#3a3a3a">10</text>
<text transform="translate(49.92 559.47) scale(.1)" font-size="22" text-anchor="middle" fill="#3a3a3a">11</text>
<text transform="translate(46.80 553.13) scale(.1)" font-size="22" text-anchor="middle" fill="#3a3a3a">12</text>
<text transform="translate(45.67 546.69) scale(.1)" font-size="22" text-anchor="middle" fill="#3a3a3a">13</text>
<text transform="translate(46.15 540.87) scale(.1)" font-size="22" text-anchor="middle" fill="#3a3a3a">14</text>
<text transform="translate(47.88 535.62) scale(.1)" font-size="22" text-anchor="middle" fill="#3a3a3a">15</text>
<text transform="translate(50.48 531.26) scale(.1)" font-size="22" text-anchor="middle" fill="#3a3a3a">16</text>
<text transform="translate(53.50 527.93) scale(.1)" font-size="22" text-anchor="middle" fill="#3a3a3a">17</text>
<text transform="translate(56.82 525.38) scale(.1)" font-size="22" text-anchor="middle" fill="#3a3a3a">18</text>
<text transform="translate(60.00 523.68) scale(.1)" font-size="22" text-anchor="middle" fill="#3a3a3a">19</text>
<text transform="translate(63.01 522.57) scale(.1)" font-size="22" text-anchor="middle" fill="#3a3a3a">20</text>
<text transform="translate(65.86 521.92) scale(.1)" font-size="22" text-anchor="middle" fill="#3a3a3a">21</text>
<text transform="translate(68.46 521.64) scale(.1)" font-size="22" text-anchor="middle" fill="#3a3a3a">22</text>
<path d="M68.33 524.30A20.20 20.20 0 0 1 69.88 524.20" fill="none" stroke="#a8062c" stroke-width="4.60" />
<path d="M58.15 528.27A20.20 20.20 0 0 1 60.81 526.57" fill="none" stroke="#a8062c" stroke-width="4.60" />
<path d="M55.50 530.65A20.20 20.20 0 0 1 57.92 528.44" fill="none" stroke="#213f7b" stroke-width="4.60" />
<path d="M80.87 527.18A20.20 20.20 0 0 1 87.99 534.64" fill="none" stroke="#a8062c" stroke-width="4.60" />
<path d="M89.21 551.50A20.20 20.20 0 0 1 85.22 558.02" fill="none" stroke="#a8062c" stroke-width="4.60" />
<path d="M78.97 562.64A20.20 20.20 0 0 1 72.53 564.48" fill="none" stroke="#a8062c" stroke-width="4.60" />
<path d="M52.11 553.18A20.20 20.20 0 0 1 50.40 547.84" fill="none" stroke="#a8062c" stroke-width="4.60" />
<path d="M79.52 529.05L81.88 525.11" stroke="#f1ecf6" stroke-width="0.32" opacity="0.8"/>
<path d="M86.01 535.82L90.05 533.62" stroke="#f1ecf6" stroke-width="0.32" opacity="0.8"/>
<path d="M88.16 543.19L92.75 542.88" stroke="#f1ecf6" stroke-width="0.25" opacity="0.22"/>
<path d="M87.12 550.53L91.44 552.10" stroke="#f1ecf6" stroke-width="0.32" opacity="0.8"/>
<path d="M83.47 556.53L86.85 559.64" stroke="#f1ecf6" stroke-width="0.32" opacity="0.8"/>
<path d="M78.14 560.49L80.15 564.63" stroke="#f1ecf6" stroke-width="0.32" opacity="0.8"/>
<path d="M72.20 562.20L72.69 566.77" stroke="#f1ecf6" stroke-width="0.32" opacity="0.8"/>
<path d="M66.53 561.90L65.56 566.39" stroke="#f1ecf6" stroke-width="0.25" opacity="0.22"/>
<path d="M61.40 559.93L59.12 563.93" stroke="#f1ecf6" stroke-width="0.25" opacity="0.22"/>
<path d="M57.25 556.65L53.90 559.80" stroke="#f1ecf6" stroke-width="0.25" opacity="0.22"/>
<path d="M54.26 552.34L50.13 554.37" stroke="#f1ecf6" stroke-width="0.32" opacity="0.8"/>
<path d="M52.65 547.37L48.11 548.14" stroke="#f1ecf6" stroke-width="0.32" opacity="0.8"/>
<path d="M52.46 542.90L47.88 542.51" stroke="#f1ecf6" stroke-width="0.25" opacity="0.22"/>
<path d="M53.30 538.81L48.93 537.37" stroke="#f1ecf6" stroke-width="0.25" opacity="0.22"/>
<path d="M54.97 535.16L51.03 532.78" stroke="#f1ecf6" stroke-width="0.25" opacity="0.22"/>
<path d="M57.07 532.35L53.67 529.25" stroke="#f1ecf6" stroke-width="0.32" opacity="0.8"/>
<path d="M59.39 530.21L56.59 526.56" stroke="#f1ecf6" stroke-width="0.32" opacity="0.8"/>
<path d="M61.96 528.56L59.81 524.49" stroke="#f1ecf6" stroke-width="0.32" opacity="0.8"/>
<path d="M64.06 527.62L62.45 523.31" stroke="#f1ecf6" stroke-width="0.25" opacity="0.22"/>
<path d="M66.42 526.93L65.42 522.44" stroke="#f1ecf6" stroke-width="0.25" opacity="0.22"/>
<path d="M68.27 526.62L67.74 522.05" stroke="#f1ecf6" stroke-width="0.25" opacity="0.22"/>
<path d="M70.25 526.50L70.24 521.90" stroke="#f1ecf6" stroke-width="0.25" opacity="0.22"/>
<path d="M69.70 538.15A6.65 6.65 0 0 1 69.70 551.45" fill="none" stroke="#bfaed0" stroke-width="1.9" />
<path d="M69.70 551.45A6.65 6.65 0 0 1 69.70 538.15" fill="none" stroke="#213f7b" stroke-width="2.1" />
<text transform="translate(60.70 545.40) scale(.1)" font-size="20" text-anchor="middle" fill="#333">Y</text>
<text transform="translate(79.60 545.40) scale(.1)" font-size="20" text-anchor="middle" fill="#333">X</text>
<circle cx="132.2" cy="544.4" r="20.20" fill="none" stroke="#c7bad4" stroke-width="4.60"/>
<text transform="translate(138.68 522.49) scale(.1)" font-size="22" text-anchor="middle" fill="#3a3a3a">1</text>
<text transform="translate(149.67 529.07) scale(.1)" font-size="22" text-anchor="middle" fill="#3a3a3a">2</text>
<text transform="translate(155.40 539.05) scale(.1)" font-size="22" text-anchor="middle" fill="#3a3a3a">3</text>
<text transform="translate(156.10 549.20) scale(.1)" font-size="22" text-anchor="middle" fill="#3a3a3a">4</text>
<text transform="translate(152.80 558.36) scale(.1)" font-size="22" text-anchor="middle" fill="#3a3a3a">5</text>
<text transform="translate(146.57 565.16) scale(.1)" font-size="22" text-anchor="middle" fill="#3a3a3a">6</text>
<text transform="translate(138.81 568.98) scale(.1)" font-size="22" text-anchor="middle" fill="#3a3a3a">7</text>
<text transform="translate(130.86 569.86) scale(.1)" font-size="22" text-anchor="middle" fill="#3a3a3a">8</text>
<text transform="translate(123.49 568.28) scale(.1)" font-size="22" text-anchor="middle" fill="#3a3a3a">9</text>
<text transform="translate(116.68 564.66) scale(.1)" font-size="22" text-anchor="middle" fill="#3a3a3a">10</text>
<text transform="translate(111.82 559.47) scale(.1)" font-size="22" text-anchor="middle" fill="#3a3a3a">11</text>
<text transform="translate(108.70 553.13) scale(.1)" font-size="22" text-anchor="middle" fill="#3a3a3a">12</text>
<text transform="translate(107.57 546.69) scale(.1)" font-size="22" text-anchor="middle" fill="#3a3a3a">13</text>
<text transform="translate(108.05 540.87) scale(.1)" font-size="22" text-anchor="middle" fill="#3a3a3a">14</text>
<text transform="translate(109.78 535.62) scale(.1)" font-size="22" text-anchor="middle" fill="#3a3a3a">15</text>
<text transform="translate(112.38 531.26) scale(.1)" font-size="22" text-anchor="middle" fill="#3a3a3a">16</text>
<text transform="translate(115.40 527.93) scale(.1)" font-size="22" text-anchor="middle" fill="#3a3a3a">17</text>
<text transform="translate(118.72 525.38) scale(.1)" font-size="22" text-anchor="middle" fill="#3a3a3a">18</text>
<text transform="translate(121.90 523.68) scale(.1)" font-size="22" text-anchor="middle" fill="#3a3a3a">19</text>
<text transform="translate(124.91 522.57) scale(.1)" font-size="22" text-anchor="middle" fill="#3a3a3a">20</text>
<text transform="translate(127.76 521.92) scale(.1)" font-size="22" text-anchor="middle" fill="#3a3a3a">21</text>
<text transform="translate(130.36 521.64) scale(.1)" font-size="22" text-anchor="middle" fill="#3a3a3a">22</text>
<path d="M130.10 524.31A20.20 20.20 0 0 1 132.06 524.20" fill="none" stroke="#a8062c" stroke-width="4.60" />
<path d="M132.34 524.20A20.20 20.20 0 0 1 142.52 527.04" fill="none" stroke="#a8062c" stroke-width="4.60" />
<path d="M142.77 527.18A20.20 20.20 0 0 1 149.89 534.64" fill="none" stroke="#a8062c" stroke-width="4.60" />
<path d="M123.28 526.28A20.20 20.20 0 0 1 124.70 525.64" fill="none" stroke="#213f7b" stroke-width="4.60" />
<path d="M117.40 530.65A20.20 20.20 0 0 1 119.82 528.44" fill="none" stroke="#a8062c" stroke-width="4.60" />
<path d="M120.05 528.27A20.20 20.20 0 0 1 122.71 526.57" fill="none" stroke="#a8062c" stroke-width="4.60" />
<path d="M114.01 553.18A20.20 20.20 0 0 1 112.30 547.84" fill="none" stroke="#213f7b" stroke-width="4.60" />
<path d="M151.11 551.50A20.20 20.20 0 0 1 147.12 558.02" fill="none" stroke="#a8062c" stroke-width="4.60" />
<path d="M140.87 562.64A20.20 20.20 0 0 1 134.43 564.48" fill="none" stroke="#a8062c" stroke-width="4.60" />
<path d="M141.42 529.05L143.78 525.11" stroke="#f1ecf6" stroke-width="0.32" opacity="0.8"/>
<path d="M147.91 535.82L151.95 533.62" stroke="#f1ecf6" stroke-width="0.32" opacity="0.8"/>
<path d="M150.06 543.19L154.65 542.88" stroke="#f1ecf6" stroke-width="0.25" opacity="0.22"/>
<path d="M149.02 550.53L153.34 552.10" stroke="#f1ecf6" stroke-width="0.32" opacity="0.8"/>
<path d="M145.37 556.53L148.75 559.64" stroke="#f1ecf6" stroke-width="0.32" opacity="0.8"/>
<path d="M140.04 560.49L142.05 564.63" stroke="#f1ecf6" stroke-width="0.32" opacity="0.8"/>
<path d="M134.10 562.20L134.59 566.77" stroke="#f1ecf6" stroke-width="0.32" opacity="0.8"/>
<path d="M128.43 561.90L127.46 566.39" stroke="#f1ecf6" stroke-width="0.25" opacity="0.22"/>
<path d="M123.30 559.93L121.02 563.93" stroke="#f1ecf6" stroke-width="0.25" opacity="0.22"/>
<path d="M119.15 556.65L115.80 559.80" stroke="#f1ecf6" stroke-width="0.25" opacity="0.22"/>
<path d="M116.16 552.34L112.03 554.37" stroke="#f1ecf6" stroke-width="0.32" opacity="0.8"/>
<path d="M114.55 547.37L110.01 548.14" stroke="#f1ecf6" stroke-width="0.32" opacity="0.8"/>
<path d="M114.36 542.90L109.78 542.51" stroke="#f1ecf6" stroke-width="0.25" opacity="0.22"/>
<path d="M115.20 538.81L110.83 537.37" stroke="#f1ecf6" stroke-width="0.25" opacity="0.22"/>
<path d="M116.87 535.16L112.93 532.78" stroke="#f1ecf6" stroke-width="0.25" opacity="0.22"/>
<path d="M118.97 532.35L115.57 529.25" stroke="#f1ecf6" stroke-width="0.32" opacity="0.8"/>
<path d="M121.29 530.21L118.49 526.56" stroke="#f1ecf6" stroke-width="0.32" opacity="0.8"/>
<path d="M123.86 528.56L121.71 524.49" stroke="#f1ecf6" stroke-width="0.32" opacity="0.8"/>
<path d="M125.96 527.62L124.35 523.31" stroke="#f1ecf6" stroke-width="0.25" opacity="0.22"/>
<path d="M128.32 526.93L127.32 522.44" stroke="#f1ecf6" stroke-width="0.25" opacity="0.22"/>
<path d="M130.17 526.62L129.64 522.05" stroke="#f1ecf6" stroke-width="0.32" opacity="0.8"/>
<path d="M132.15 526.50L132.14 521.90" stroke="#f1ecf6" stroke-width="0.32" opacity="0.8"/>
<path d="M131.60 538.15A6.65 6.65 0 0 1 131.60 551.45" fill="none" stroke="#bfaed0" stroke-width="1.9" />
<path d="M131.60 551.45A6.65 6.65 0 0 1 131.60 538.15" fill="none" stroke="#213f7b" stroke-width="2.1" />
<text transform="translate(122.60 545.40) scale(.1)" font-size="20" text-anchor="middle" fill="#333">Y</text>
<text transform="translate(141.50 545.40) scale(.1)" font-size="20" text-anchor="middle" fill="#333">X</text>
<circle cx="132.2" cy="600.4" r="20.20" fill="none" stroke="#c7bad4" stroke-width="4.60"/>
<text transform="translate(138.68 578.49) scale(.1)" font-size="22" text-anchor="middle" fill="#3a3a3a">1</text>
<text transform="translate(149.67 585.07) scale(.1)" font-size="22" text-anchor="middle" fill="#3a3a3a">2</text>
<text transform="translate(155.40 595.05) scale(.1)" font-size="22" text-anchor="middle" fill="#3a3a3a">3</text>
<text transform="translate(156.10 605.20) scale(.1)" font-size="22" text-anchor="middle" fill="#3a3a3a">4</text>
<text transform="translate(152.80 614.36) scale(.1)" font-size="22" text-anchor="middle" fill="#3a3a3a">5</text>
<text transform="translate(146.57 621.16) scale(.1)" font-size="22" text-anchor="middle" fill="#3a3a3a">6</text>
<text transform="translate(138.81 624.98) scale(.1)" font-size="22" text-anchor="middle" fill="#3a3a3a">7</text>
<text transform="translate(130.86 625.86) scale(.1)" font-size="22" text-anchor="middle" fill="#3a3a3a">8</text>
<text transform="translate(123.49 624.28) scale(.1)" font-size="22" text-anchor="middle" fill="#3a3a3a">9</text>
<text transform="translate(116.68 620.66) scale(.1)" font-size="22" text-anchor="middle" fill="#3a3a3a">10</text>
<text transform="translate(111.82 615.47) scale(.1)" font-size="22" text-anchor="middle" fill="#3a3a3a">11</text>
<text transform="translate(108.70 609.13) scale(.1)" font-size="22" text-anchor="middle" fill="#3a3a3a">12</text>
<text transform="translate(107.57 602.69) scale(.1)" font-size="22" text-anchor="middle" fill="#3a3a3a">13</text>
<text transform="translate(108.05 596.87) scale(.1)" font-size="22" text-anchor="middle" fill="#3a3a3a">14</text>
<text transform="translate(109.78 591.62) scale(.1)" font-size="22" text-anchor="middle" fill="#3a3a3a">15</text>
<text transform="translate(112.38 587.26) scale(.1)" font-size="22" text-anchor="middle" fill="#3a3a3a">16</text>
<text transform="translate(115.40 583.93) scale(.1)" font-size="22" text-anchor="middle" fill="#3a3a3a">17</text>
<text transform="translate(118.72 581.38) scale(.1)" font-size="22" text-anchor="middle" fill="#3a3a3a">18</text>
<text transform="translate(121.90 579.68) scale(.1)" font-size="22" text-anchor="middle" fill="#3a3a3a">19</text>
<text transform="translate(124.91 578.57) scale(.1)" font-size="22" text-anchor="middle" fill="#3a3a3a">20</text>
<text transform="translate(127.76 577.92) scale(.1)" font-size="22" text-anchor="middle" fill="#3a3a3a">21</text>
<text transform="translate(130.36 577.64) scale(.1)" font-size="22" text-anchor="middle" fill="#3a3a3a">22</text>
<path d="M130.10 580.31A20.20 20.20 0 0 1 132.06 580.20" fill="none" stroke="#a8062c" stroke-width="4.60" />
<path d="M132.34 580.20A20.20 20.20 0 0 1 142.52 583.04" fill="none" stroke="#a8062c" stroke-width="4.60" />
<path d="M142.77 583.18A20.20 20.20 0 0 1 149.89 590.64" fill="none" stroke="#a8062c" stroke-width="4.60" />
<path d="M123.28 582.28A20.20 20.20 0 0 1 124.70 581.64" fill="none" stroke="#213f7b" stroke-width="4.60" />
<path d="M117.40 586.65A20.20 20.20 0 0 1 119.82 584.44" fill="none" stroke="#a8062c" stroke-width="4.60" />
<path d="M120.05 584.27A20.20 20.20 0 0 1 122.71 582.57" fill="none" stroke="#a8062c" stroke-width="4.60" />
<path d="M114.01 609.18A20.20 20.20 0 0 1 112.30 603.84" fill="none" stroke="#213f7b" stroke-width="4.60" />
<path d="M151.11 607.50A20.20 20.20 0 0 1 147.12 614.02" fill="none" stroke="#a8062c" stroke-width="4.60" />
<path d="M140.87 618.64A20.20 20.20 0 0 1 134.43 620.48" fill="none" stroke="#a8062c" stroke-width="4.60" />
<path d="M112.09 598.51A20.20 20.20 0 0 1 112.98 594.17" fill="none" stroke="#a8062c" stroke-width="4.60" />
<path d="M141.42 585.05L143.78 581.11" stroke="#f1ecf6" stroke-width="0.32" opacity="0.8"/>
<path d="M147.91 591.82L151.95 589.62" stroke="#f1ecf6" stroke-width="0.32" opacity="0.8"/>
<path d="M150.06 599.19L154.65 598.88" stroke="#f1ecf6" stroke-width="0.25" opacity="0.22"/>
<path d="M149.02 606.53L153.34 608.10" stroke="#f1ecf6" stroke-width="0.32" opacity="0.8"/>
<path d="M145.37 612.53L148.75 615.64" stroke="#f1ecf6" stroke-width="0.32" opacity="0.8"/>
<path d="M140.04 616.49L142.05 620.63" stroke="#f1ecf6" stroke-width="0.32" opacity="0.8"/>
<path d="M134.10 618.20L134.59 622.77" stroke="#f1ecf6" stroke-width="0.32" opacity="0.8"/>
<path d="M128.43 617.90L127.46 622.39" stroke="#f1ecf6" stroke-width="0.25" opacity="0.22"/>
<path d="M123.30 615.93L121.02 619.93" stroke="#f1ecf6" stroke-width="0.25" opacity="0.22"/>
<path d="M119.15 612.65L115.80 615.80" stroke="#f1ecf6" stroke-width="0.25" opacity="0.22"/>
<path d="M116.16 608.34L112.03 610.37" stroke="#f1ecf6" stroke-width="0.32" opacity="0.8"/>
<path d="M114.55 603.37L110.01 604.14" stroke="#f1ecf6" stroke-width="0.32" opacity="0.8"/>
<path d="M114.36 598.90L109.78 598.51" stroke="#f1ecf6" stroke-width="0.32" opacity="0.8"/>
<path d="M115.20 594.81L110.83 593.37" stroke="#f1ecf6" stroke-width="0.32" opacity="0.8"/>
<path d="M116.87 591.16L112.93 588.78" stroke="#f1ecf6" stroke-width="0.25" opacity="0.22"/>
<path d="M118.97 588.35L115.57 585.25" stroke="#f1ecf6" stroke-width="0.32" opacity="0.8"/>
<path d="M121.29 586.21L118.49 582.56" stroke="#f1ecf6" stroke-width="0.32" opacity="0.8"/>
<path d="M123.86 584.56L121.71 580.49" stroke="#f1ecf6" stroke-width="0.32" opacity="0.8"/>
<path d="M125.96 583.62L124.35 579.31" stroke="#f1ecf6" stroke-width="0.25" opacity="0.22"/>
<path d="M128.32 582.93L127.32 578.44" stroke="#f1ecf6" stroke-width="0.25" opacity="0.22"/>
<path d="M130.17 582.62L129.64 578.05" stroke="#f1ecf6" stroke-width="0.32" opacity="0.8"/>
<path d="M132.15 582.50L132.14 577.90" stroke="#f1ecf6" stroke-width="0.32" opacity="0.8"/>
<path d="M131.60 594.15A6.65 6.65 0 0 1 131.60 607.45" fill="none" stroke="#bfaed0" stroke-width="1.9" />
<path d="M131.60 607.45A6.65 6.65 0 0 1 131.60 594.15" fill="none" stroke="#213f7b" stroke-width="2.1" />
<text transform="translate(122.60 601.40) scale(.1)" font-size="20" text-anchor="middle" fill="#333">Y</text>
<text transform="translate(141.50 601.40) scale(.1)" font-size="20" text-anchor="middle" fill="#333">X</text>
<circle cx="132.2" cy="656.7" r="20.20" fill="none" stroke="#c7bad4" stroke-width="4.60"/>
<text transform="translate(138.68 634.79) scale(.1)" font-size="22" text-anchor="middle" fill="#3a3a3a">1</text>
<text transform="translate(149.67 641.37) scale(.1)" font-size="22" text-anchor="middle" fill="#3a3a3a">2</text>
<text transform="translate(155.40 651.35) scale(.1)" font-size="22" text-anchor="middle" fill="#3a3a3a">3</text>
<text transform="translate(156.10 661.50) scale(.1)" font-size="22" text-anchor="middle" fill="#3a3a3a">4</text>
<text transform="translate(152.80 670.66) scale(.1)" font-size="22" text-anchor="middle" fill="#3a3a3a">5</text>
<text transform="translate(146.57 677.46) scale(.1)" font-size="22" text-anchor="middle" fill="#3a3a3a">6</text>
<text transform="translate(138.81 681.28) scale(.1)" font-size="22" text-anchor="middle" fill="#3a3a3a">7</text>
<text transform="translate(130.86 682.16) scale(.1)" font-size="22" text-anchor="middle" fill="#3a3a3a">8</text>
<text transform="translate(123.49 680.58) scale(.1)" font-size="22" text-anchor="middle" fill="#3a3a3a">9</text>
<text transform="translate(116.68 676.96) scale(.1)" font-size="22" text-anchor="middle" fill="#3a3a3a">10</text>
<text transform="translate(111.82 671.77) scale(.1)" font-size="22" text-anchor="middle" fill="#3a3a3a">11</text>
<text transform="translate(108.70 665.43) scale(.1)" font-size="22" text-anchor="middle" fill="#3a3a3a">12</text>
<text transform="translate(107.57 658.99) scale(.1)" font-size="22" text-anchor="middle" fill="#3a3a3a">13</text>
<text transform="translate(108.05 653.17) scale(.1)" font-size="22" text-anchor="middle" fill="#3a3a3a">14</text>
<text transform="translate(109.78 647.92) scale(.1)" font-size="22" text-anchor="middle" fill="#3a3a3a">15</text>
<text transform="translate(112.38 643.56) scale(.1)" font-size="22" text-anchor="middle" fill="#3a3a3a">16</text>
<text transform="translate(115.40 640.23) scale(.1)" font-size="22" text-anchor="middle" fill="#3a3a3a">17</text>
<text transform="translate(118.72 637.68) scale(.1)" font-size="22" text-anchor="middle" fill="#3a3a3a">18</text>
<text transform="translate(121.90 635.98) scale(.1)" font-size="22" text-anchor="middle" fill="#3a3a3a">19</text>
<text transform="translate(124.91 634.87) scale(.1)" font-size="22" text-anchor="middle" fill="#3a3a3a">20</text>
<text transform="translate(127.76 634.22) scale(.1)" font-size="22" text-anchor="middle" fill="#3a3a3a">21</text>
<text transform="translate(130.36 633.94) scale(.1)" font-size="22" text-anchor="middle" fill="#3a3a3a">22</text>
<path d="M151.11 663.80A20.20 20.20 0 0 1 147.12 670.32" fill="none" stroke="#a8062c" stroke-width="4.60" />
<path d="M141.42 641.35L143.78 637.41" stroke="#f1ecf6" stroke-width="0.25" opacity="0.22"/>
<path d="M147.91 648.12L151.95 645.92" stroke="#f1ecf6" stroke-width="0.25" opacity="0.22"/>
<path d="M150.06 655.49L154.65 655.18" stroke="#f1ecf6" stroke-width="0.25" opacity="0.22"/>
<path d="M149.02 662.83L153.34 664.40" stroke="#f1ecf6" stroke-width="0.32" opacity="0.8"/>
<path d="M145.37 668.83L148.75 671.94" stroke="#f1ecf6" stroke-width="0.32" opacity="0.8"/>
<path d="M140.04 672.79L142.05 676.93" stroke="#f1ecf6" stroke-width="0.25" opacity="0.22"/>
<path d="M134.10 674.50L134.59 679.07" stroke="#f1ecf6" stroke-width="0.25" opacity="0.22"/>
<path d="M128.43 674.20L127.46 678.69" stroke="#f1ecf6" stroke-width="0.25" opacity="0.22"/>
<path d="M123.30 672.23L121.02 676.23" stroke="#f1ecf6" stroke-width="0.25" opacity="0.22"/>
<path d="M119.15 668.95L115.80 672.10" stroke="#f1ecf6" stroke-width="0.25" opacity="0.22"/>
<path d="M116.16 664.64L112.03 666.67" stroke="#f1ecf6" stroke-width="0.25" opacity="0.22"/>
<path d="M114.55 659.67L110.01 660.44" stroke="#f1ecf6" stroke-width="0.25" opacity="0.22"/>
<path d="M114.36 655.20L109.78 654.81" stroke="#f1ecf6" stroke-width="0.25" opacity="0.22"/>
<path d="M115.20 651.11L110.83 649.67" stroke="#f1ecf6" stroke-width="0.25" opacity="0.22"/>
<path d="M116.87 647.46L112.93 645.08" stroke="#f1ecf6" stroke-width="0.25" opacity="0.22"/>
<path d="M118.97 644.65L115.57 641.55" stroke="#f1ecf6" stroke-width="0.25" opacity="0.22"/>
<path d="M121.29 642.51L118.49 638.86" stroke="#f1ecf6" stroke-width="0.25" opacity="0.22"/>
<path d="M123.86 640.86L121.71 636.79" stroke="#f1ecf6" stroke-width="0.25" opacity="0.22"/>
<path d="M125.96 639.92L124.35 635.61" stroke="#f1ecf6" stroke-width="0.25" opacity="0.22"/>
<path d="M128.32 639.23L127.32 634.74" stroke="#f1ecf6" stroke-width="0.25" opacity="0.22"/>
<path d="M130.17 638.92L129.64 634.35" stroke="#f1ecf6" stroke-width="0.25" opacity="0.22"/>
<path d="M132.15 638.80L132.14 634.20" stroke="#f1ecf6" stroke-width="0.25" opacity="0.22"/>
<circle cx="131.70" cy="663.20" r="6.65" fill="none" stroke="#bfaed0" stroke-width="2.0"/>
<text transform="translate(122.60 664.20) scale(.1)" font-size="20" text-anchor="middle" fill="#333">Y</text>
<text transform="translate(141.50 664.20) scale(.1)" font-size="20" text-anchor="middle" fill="#333">X</text>
<path d="M277 442V680.7" stroke="#000" stroke-width="1.2" stroke-dasharray="1.05 1.1" fill="none"/>
<text transform="translate(248.00 448.25) scale(.1)" font-size="63" text-anchor="middle" fill="#000" stroke="#000" stroke-width="0.4">MDS</text>
<text transform="translate(304.80 448.25) scale(.1)" font-size="63" text-anchor="middle" fill="#000" stroke="#000" stroke-width="0.4">AML</text>
<text transform="translate(185.03 484.30) rotate(-90.0) scale(.1)" font-size="62" text-anchor="middle" fill="#000" stroke="#000" stroke-width="0.4">Somatic mutations</text>
<text transform="translate(201.32 484.20) rotate(-90.0) scale(.1)" font-size="56" text-anchor="middle" fill="#000" textLength="560" lengthAdjust="spacingAndGlyphs" stroke="#000" stroke-width="1.3">Variant allele frequency (%)</text>
<text transform="translate(185.07 600.50) rotate(-90.0) scale(.1)" font-size="63" text-anchor="middle" fill="#000" stroke="#000" stroke-width="0.4">Cytogenetic clones</text>
<text transform="translate(216.00 512.15) scale(.1)" font-size="54" text-anchor="end" fill="#000" stroke="#000" stroke-width="1.0">0</text>
<text transform="translate(216.00 501.75) scale(.1)" font-size="54" text-anchor="end" fill="#000" stroke="#000" stroke-width="1.0">20</text>
<text transform="translate(216.00 491.35) scale(.1)" font-size="54" text-anchor="end" fill="#000" stroke="#000" stroke-width="1.0">40</text>
<text transform="translate(216.00 480.95) scale(.1)" font-size="54" text-anchor="end" fill="#000" stroke="#000" stroke-width="1.0">60</text>
<text transform="translate(216.00 470.55) scale(.1)" font-size="54" text-anchor="end" fill="#000" stroke="#000" stroke-width="1.0">80</text>
<text transform="translate(216.00 460.15) scale(.1)" font-size="54" text-anchor="end" fill="#000" stroke="#000" stroke-width="1.0">100</text>
<path d="M219 455V510.2H332" stroke="#1c1c1c" stroke-width="1.3" fill="none" stroke-linejoin="miter"/>
<circle cx="299.20" cy="509.16" r="1.6" fill="#213f7b"/>
<path d="M252.40 508.64L299.20 510.36" stroke="#e8921a" stroke-width="0.85" fill="none"/>
<circle cx="252.40" cy="508.64" r="1.6" fill="#e8921a"/>
<circle cx="299.20" cy="510.36" r="1.6" fill="#e8921a"/>
<path d="M252.40 470.16L299.20 460.02" stroke="#a8062c" stroke-width="0.85" fill="none"/>
<circle cx="252.40" cy="470.16" r="1.6" fill="#a8062c"/>
<circle cx="299.20" cy="460.02" r="1.6" fill="#a8062c"/>
<path d="M221.8 478.2H227.0" stroke="#a8062c" stroke-width="0.9"/>
<circle cx="224.4" cy="478.2" r="1.6" fill="#a8062c"/>
<text transform="translate(230.00 479.75) scale(.1)" font-size="44" text-anchor="start" fill="#2a2a2a" font-style="italic">TP53 Y220C</text>
<path d="M221.8 484.4H227.0" stroke="#e8921a" stroke-width="0.9"/>
<circle cx="224.4" cy="484.4" r="1.6" fill="#e8921a"/>
<text transform="translate(230.00 485.95) scale(.1)" font-size="44" text-anchor="start" fill="#2a2a2a" font-style="italic">PTPN11 D61G</text>
<path d="M221.8 490.6H227.0" stroke="#213f7b" stroke-width="0.9"/>
<circle cx="224.4" cy="490.6" r="1.6" fill="#213f7b"/>
<text transform="translate(230.00 492.15) scale(.1)" font-size="44" text-anchor="start" fill="#2a2a2a" font-style="italic">PTPN11 E69K</text>
<circle cx="246.4" cy="544.6" r="20.50" fill="none" stroke="#c7bad4" stroke-width="4.60"/>
<text transform="translate(252.96 522.40) scale(.1)" font-size="22" text-anchor="middle" fill="#3a3a3a">1</text>
<text transform="translate(264.08 529.07) scale(.1)" font-size="22" text-anchor="middle" fill="#3a3a3a">2</text>
<text transform="translate(269.89 539.17) scale(.1)" font-size="22" text-anchor="middle" fill="#3a3a3a">3</text>
<text transform="translate(270.60 549.45) scale(.1)" font-size="22" text-anchor="middle" fill="#3a3a3a">4</text>
<text transform="translate(267.25 558.72) scale(.1)" font-size="22" text-anchor="middle" fill="#3a3a3a">5</text>
<text transform="translate(260.95 565.60) scale(.1)" font-size="22" text-anchor="middle" fill="#3a3a3a">6</text>
<text transform="translate(253.09 569.47) scale(.1)" font-size="22" text-anchor="middle" fill="#3a3a3a">7</text>
<text transform="translate(245.04 570.36) scale(.1)" font-size="22" text-anchor="middle" fill="#3a3a3a">8</text>
<text transform="translate(237.59 568.76) scale(.1)" font-size="22" text-anchor="middle" fill="#3a3a3a">9</text>
<text transform="translate(230.70 565.10) scale(.1)" font-size="22" text-anchor="middle" fill="#3a3a3a">10</text>
<text transform="translate(225.78 559.84) scale(.1)" font-size="22" text-anchor="middle" fill="#3a3a3a">11</text>
<text transform="translate(222.62 553.42) scale(.1)" font-size="22" text-anchor="middle" fill="#3a3a3a">12</text>
<text transform="translate(221.47 546.90) scale(.1)" font-size="22" text-anchor="middle" fill="#3a3a3a">13</text>
<text transform="translate(221.95 541.01) scale(.1)" font-size="22" text-anchor="middle" fill="#3a3a3a">14</text>
<text transform="translate(223.70 535.70) scale(.1)" font-size="22" text-anchor="middle" fill="#3a3a3a">15</text>
<text transform="translate(226.34 531.28) scale(.1)" font-size="22" text-anchor="middle" fill="#3a3a3a">16</text>
<text transform="translate(229.40 527.91) scale(.1)" font-size="22" text-anchor="middle" fill="#3a3a3a">17</text>
<text transform="translate(232.76 525.33) scale(.1)" font-size="22" text-anchor="middle" fill="#3a3a3a">18</text>
<text transform="translate(235.98 523.60) scale(.1)" font-size="22" text-anchor="middle" fill="#3a3a3a">19</text>
<text transform="translate(239.03 522.48) scale(.1)" font-size="22" text-anchor="middle" fill="#3a3a3a">20</text>
<text transform="translate(241.92 521.83) scale(.1)" font-size="22" text-anchor="middle" fill="#3a3a3a">21</text>
<text transform="translate(244.54 521.54) scale(.1)" font-size="22" text-anchor="middle" fill="#3a3a3a">22</text>
<path d="M228.95 533.85A20.50 20.50 0 0 1 231.19 530.86" fill="none" stroke="#a8062c" stroke-width="4.60" />
<path d="M231.38 530.65A20.50 20.50 0 0 1 233.84 528.40" fill="none" stroke="#a8062c" stroke-width="4.60" />
<path d="M264.49 534.95A20.50 20.50 0 0 1 266.85 543.13" fill="none" stroke="#a8062c" stroke-width="4.60" />
<path d="M265.59 551.80A20.50 20.50 0 0 1 261.54 558.42" fill="none" stroke="#213f7b" stroke-width="4.60" />
<path d="M255.20 563.12A20.50 20.50 0 0 1 248.66 564.97" fill="none" stroke="#5ea330" stroke-width="4.60" />
<path d="M231.32 558.49A20.50 20.50 0 0 1 228.06 553.77" fill="none" stroke="#5ea330" stroke-width="4.60" />
<path d="M255.77 529.00L258.14 525.05" stroke="#f1ecf6" stroke-width="0.25" opacity="0.22"/>
<path d="M262.37 535.88L266.41 533.68" stroke="#f1ecf6" stroke-width="0.32" opacity="0.8"/>
<path d="M264.56 543.37L269.15 543.06" stroke="#f1ecf6" stroke-width="0.32" opacity="0.8"/>
<path d="M263.50 550.83L267.82 552.40" stroke="#f1ecf6" stroke-width="0.32" opacity="0.8"/>
<path d="M259.79 556.93L263.17 560.05" stroke="#f1ecf6" stroke-width="0.32" opacity="0.8"/>
<path d="M254.37 560.96L256.38 565.10" stroke="#f1ecf6" stroke-width="0.32" opacity="0.8"/>
<path d="M248.33 562.70L248.82 567.27" stroke="#f1ecf6" stroke-width="0.32" opacity="0.8"/>
<path d="M242.56 562.39L241.59 566.89" stroke="#f1ecf6" stroke-width="0.25" opacity="0.22"/>
<path d="M237.36 560.39L235.07 564.39" stroke="#f1ecf6" stroke-width="0.25" opacity="0.22"/>
<path d="M233.13 557.06L229.78 560.21" stroke="#f1ecf6" stroke-width="0.32" opacity="0.8"/>
<path d="M230.09 552.67L225.96 554.71" stroke="#f1ecf6" stroke-width="0.32" opacity="0.8"/>
<path d="M228.45 547.62L223.92 548.39" stroke="#f1ecf6" stroke-width="0.25" opacity="0.22"/>
<path d="M228.26 543.07L223.68 542.68" stroke="#f1ecf6" stroke-width="0.25" opacity="0.22"/>
<path d="M229.11 538.92L224.74 537.48" stroke="#f1ecf6" stroke-width="0.25" opacity="0.22"/>
<path d="M230.81 535.20L226.87 532.83" stroke="#f1ecf6" stroke-width="0.32" opacity="0.8"/>
<path d="M232.95 532.34L229.55 529.25" stroke="#f1ecf6" stroke-width="0.32" opacity="0.8"/>
<path d="M235.31 530.17L232.51 526.52" stroke="#f1ecf6" stroke-width="0.32" opacity="0.8"/>
<path d="M237.92 528.50L235.77 524.43" stroke="#f1ecf6" stroke-width="0.25" opacity="0.22"/>
<path d="M240.05 527.54L238.45 523.23" stroke="#f1ecf6" stroke-width="0.25" opacity="0.22"/>
<path d="M242.45 526.83L241.45 522.34" stroke="#f1ecf6" stroke-width="0.25" opacity="0.22"/>
<path d="M244.33 526.52L243.81 521.95" stroke="#f1ecf6" stroke-width="0.25" opacity="0.22"/>
<path d="M246.35 526.40L246.34 521.80" stroke="#f1ecf6" stroke-width="0.25" opacity="0.22"/>
<circle cx="245.90" cy="544.60" r="4.35" fill="none" stroke="#bfaed0" stroke-width="1.7"/>
<text transform="translate(239.00 545.60) scale(.1)" font-size="20" text-anchor="middle" fill="#333">Y</text>
<text transform="translate(252.80 545.60) scale(.1)" font-size="20" text-anchor="middle" fill="#333">X</text>
<circle cx="308.7" cy="544.6" r="20.50" fill="none" stroke="#c7bad4" stroke-width="4.60"/>
<text transform="translate(315.26 522.40) scale(.1)" font-size="22" text-anchor="middle" fill="#3a3a3a">1</text>
<text transform="translate(326.38 529.07) scale(.1)" font-size="22" text-anchor="middle" fill="#3a3a3a">2</text>
<text transform="translate(332.19 539.17) scale(.1)" font-size="22" text-anchor="middle" fill="#3a3a3a">3</text>
<text transform="translate(332.90 549.45) scale(.1)" font-size="22" text-anchor="middle" fill="#3a3a3a">4</text>
<text transform="translate(329.55 558.72) scale(.1)" font-size="22" text-anchor="middle" fill="#3a3a3a">5</text>
<text transform="translate(323.25 565.60) scale(.1)" font-size="22" text-anchor="middle" fill="#3a3a3a">6</text>
<text transform="translate(315.39 569.47) scale(.1)" font-size="22" text-anchor="middle" fill="#3a3a3a">7</text>
<text transform="translate(307.34 570.36) scale(.1)" font-size="22" text-anchor="middle" fill="#3a3a3a">8</text>
<text transform="translate(299.89 568.76) scale(.1)" font-size="22" text-anchor="middle" fill="#3a3a3a">9</text>
<text transform="translate(293.00 565.10) scale(.1)" font-size="22" text-anchor="middle" fill="#3a3a3a">10</text>
<text transform="translate(288.08 559.84) scale(.1)" font-size="22" text-anchor="middle" fill="#3a3a3a">11</text>
<text transform="translate(284.92 553.42) scale(.1)" font-size="22" text-anchor="middle" fill="#3a3a3a">12</text>
<text transform="translate(283.77 546.90) scale(.1)" font-size="22" text-anchor="middle" fill="#3a3a3a">13</text>
<text transform="translate(284.25 541.01) scale(.1)" font-size="22" text-anchor="middle" fill="#3a3a3a">14</text>
<text transform="translate(286.00 535.70) scale(.1)" font-size="22" text-anchor="middle" fill="#3a3a3a">15</text>
<text transform="translate(288.64 531.28) scale(.1)" font-size="22" text-anchor="middle" fill="#3a3a3a">16</text>
<text transform="translate(291.70 527.91) scale(.1)" font-size="22" text-anchor="middle" fill="#3a3a3a">17</text>
<text transform="translate(295.06 525.33) scale(.1)" font-size="22" text-anchor="middle" fill="#3a3a3a">18</text>
<text transform="translate(298.28 523.60) scale(.1)" font-size="22" text-anchor="middle" fill="#3a3a3a">19</text>
<text transform="translate(301.33 522.48) scale(.1)" font-size="22" text-anchor="middle" fill="#3a3a3a">20</text>
<text transform="translate(304.22 521.83) scale(.1)" font-size="22" text-anchor="middle" fill="#3a3a3a">21</text>
<text transform="translate(306.84 521.54) scale(.1)" font-size="22" text-anchor="middle" fill="#3a3a3a">22</text>
<path d="M299.32 526.37A20.50 20.50 0 0 1 301.47 525.42" fill="none" stroke="#213f7b" stroke-width="4.60" />
<path d="M326.79 534.95A20.50 20.50 0 0 1 329.15 543.13" fill="none" stroke="#a8062c" stroke-width="4.60" />
<path d="M329.17 543.41A20.50 20.50 0 0 1 327.99 551.53" fill="none" stroke="#213f7b" stroke-width="4.60" />
<path d="M327.89 551.80A20.50 20.50 0 0 1 323.84 558.42" fill="none" stroke="#213f7b" stroke-width="4.60" />
<path d="M317.50 563.12A20.50 20.50 0 0 1 310.96 564.97" fill="none" stroke="#5ea330" stroke-width="4.60" />
<path d="M293.62 558.49A20.50 20.50 0 0 1 290.36 553.77" fill="none" stroke="#a8062c" stroke-width="4.60" />
<path d="M290.24 553.51A20.50 20.50 0 0 1 288.50 548.09" fill="none" stroke="#a8062c" stroke-width="4.60" />
<path d="M318.07 529.00L320.44 525.05" stroke="#f1ecf6" stroke-width="0.25" opacity="0.22"/>
<path d="M324.67 535.88L328.71 533.68" stroke="#f1ecf6" stroke-width="0.32" opacity="0.8"/>
<path d="M326.86 543.37L331.45 543.06" stroke="#f1ecf6" stroke-width="0.32" opacity="0.8"/>
<path d="M325.80 550.83L330.12 552.40" stroke="#f1ecf6" stroke-width="0.32" opacity="0.8"/>
<path d="M322.09 556.93L325.47 560.05" stroke="#f1ecf6" stroke-width="0.32" opacity="0.8"/>
<path d="M316.67 560.96L318.68 565.10" stroke="#f1ecf6" stroke-width="0.32" opacity="0.8"/>
<path d="M310.63 562.70L311.12 567.27" stroke="#f1ecf6" stroke-width="0.32" opacity="0.8"/>
<path d="M304.86 562.39L303.89 566.89" stroke="#f1ecf6" stroke-width="0.25" opacity="0.22"/>
<path d="M299.66 560.39L297.37 564.39" stroke="#f1ecf6" stroke-width="0.25" opacity="0.22"/>
<path d="M295.43 557.06L292.08 560.21" stroke="#f1ecf6" stroke-width="0.32" opacity="0.8"/>
<path d="M292.39 552.67L288.26 554.71" stroke="#f1ecf6" stroke-width="0.32" opacity="0.8"/>
<path d="M290.75 547.62L286.22 548.39" stroke="#f1ecf6" stroke-width="0.32" opacity="0.8"/>
<path d="M290.56 543.07L285.98 542.68" stroke="#f1ecf6" stroke-width="0.25" opacity="0.22"/>
<path d="M291.41 538.92L287.04 537.48" stroke="#f1ecf6" stroke-width="0.25" opacity="0.22"/>
<path d="M293.11 535.20L289.17 532.83" stroke="#f1ecf6" stroke-width="0.25" opacity="0.22"/>
<path d="M295.25 532.34L291.85 529.25" stroke="#f1ecf6" stroke-width="0.25" opacity="0.22"/>
<path d="M297.61 530.17L294.81 526.52" stroke="#f1ecf6" stroke-width="0.25" opacity="0.22"/>
<path d="M300.22 528.50L298.07 524.43" stroke="#f1ecf6" stroke-width="0.32" opacity="0.8"/>
<path d="M302.35 527.54L300.75 523.23" stroke="#f1ecf6" stroke-width="0.32" opacity="0.8"/>
<path d="M304.75 526.83L303.75 522.34" stroke="#f1ecf6" stroke-width="0.25" opacity="0.22"/>
<path d="M306.63 526.52L306.11 521.95" stroke="#f1ecf6" stroke-width="0.25" opacity="0.22"/>
<path d="M308.65 526.40L308.64 521.80" stroke="#f1ecf6" stroke-width="0.25" opacity="0.22"/>
<circle cx="308.20" cy="544.60" r="4.35" fill="none" stroke="#bfaed0" stroke-width="1.7"/>
<text transform="translate(301.30 545.60) scale(.1)" font-size="20" text-anchor="middle" fill="#333">Y</text>
<text transform="translate(315.10 545.60) scale(.1)" font-size="20" text-anchor="middle" fill="#333">X</text>
<circle cx="246.4" cy="600.6" r="20.50" fill="none" stroke="#c7bad4" stroke-width="4.60"/>
<text transform="translate(252.96 578.40) scale(.1)" font-size="22" text-anchor="middle" fill="#3a3a3a">1</text>
<text transform="translate(264.08 585.07) scale(.1)" font-size="22" text-anchor="middle" fill="#3a3a3a">2</text>
<text transform="translate(269.89 595.17) scale(.1)" font-size="22" text-anchor="middle" fill="#3a3a3a">3</text>
<text transform="translate(270.60 605.45) scale(.1)" font-size="22" text-anchor="middle" fill="#3a3a3a">4</text>
<text transform="translate(267.25 614.72) scale(.1)" font-size="22" text-anchor="middle" fill="#3a3a3a">5</text>
<text transform="translate(260.95 621.60) scale(.1)" font-size="22" text-anchor="middle" fill="#3a3a3a">6</text>
<text transform="translate(253.09 625.47) scale(.1)" font-size="22" text-anchor="middle" fill="#3a3a3a">7</text>
<text transform="translate(245.04 626.36) scale(.1)" font-size="22" text-anchor="middle" fill="#3a3a3a">8</text>
<text transform="translate(237.59 624.76) scale(.1)" font-size="22" text-anchor="middle" fill="#3a3a3a">9</text>
<text transform="translate(230.70 621.10) scale(.1)" font-size="22" text-anchor="middle" fill="#3a3a3a">10</text>
<text transform="translate(225.78 615.84) scale(.1)" font-size="22" text-anchor="middle" fill="#3a3a3a">11</text>
<text transform="translate(222.62 609.42) scale(.1)" font-size="22" text-anchor="middle" fill="#3a3a3a">12</text>
<text transform="translate(221.47 602.90) scale(.1)" font-size="22" text-anchor="middle" fill="#3a3a3a">13</text>
<text transform="translate(221.95 597.01) scale(.1)" font-size="22" text-anchor="middle" fill="#3a3a3a">14</text>
<text transform="translate(223.70 591.70) scale(.1)" font-size="22" text-anchor="middle" fill="#3a3a3a">15</text>
<text transform="translate(226.34 587.28) scale(.1)" font-size="22" text-anchor="middle" fill="#3a3a3a">16</text>
<text transform="translate(229.40 583.91) scale(.1)" font-size="22" text-anchor="middle" fill="#3a3a3a">17</text>
<text transform="translate(232.76 581.33) scale(.1)" font-size="22" text-anchor="middle" fill="#3a3a3a">18</text>
<text transform="translate(235.98 579.60) scale(.1)" font-size="22" text-anchor="middle" fill="#3a3a3a">19</text>
<text transform="translate(239.03 578.48) scale(.1)" font-size="22" text-anchor="middle" fill="#3a3a3a">20</text>
<text transform="translate(241.92 577.83) scale(.1)" font-size="22" text-anchor="middle" fill="#3a3a3a">21</text>
<text transform="translate(244.54 577.54) scale(.1)" font-size="22" text-anchor="middle" fill="#3a3a3a">22</text>
<path d="M264.49 590.95A20.50 20.50 0 0 1 266.85 599.13" fill="none" stroke="#a8062c" stroke-width="4.60" />
<path d="M265.59 607.80A20.50 20.50 0 0 1 261.54 614.42" fill="none" stroke="#213f7b" stroke-width="4.60" />
<path d="M255.20 619.12A20.50 20.50 0 0 1 248.66 620.97" fill="none" stroke="#5ea330" stroke-width="4.60" />
<path d="M231.32 614.49A20.50 20.50 0 0 1 228.06 609.77" fill="none" stroke="#5ea330" stroke-width="4.60" />
<path d="M255.77 585.00L258.14 581.05" stroke="#f1ecf6" stroke-width="0.25" opacity="0.22"/>
<path d="M262.37 591.88L266.41 589.68" stroke="#f1ecf6" stroke-width="0.32" opacity="0.8"/>
<path d="M264.56 599.37L269.15 599.06" stroke="#f1ecf6" stroke-width="0.32" opacity="0.8"/>
<path d="M263.50 606.83L267.82 608.40" stroke="#f1ecf6" stroke-width="0.32" opacity="0.8"/>
<path d="M259.79 612.93L263.17 616.05" stroke="#f1ecf6" stroke-width="0.32" opacity="0.8"/>
<path d="M254.37 616.96L256.38 621.10" stroke="#f1ecf6" stroke-width="0.32" opacity="0.8"/>
<path d="M248.33 618.70L248.82 623.27" stroke="#f1ecf6" stroke-width="0.32" opacity="0.8"/>
<path d="M242.56 618.39L241.59 622.89" stroke="#f1ecf6" stroke-width="0.25" opacity="0.22"/>
<path d="M237.36 616.39L235.07 620.39" stroke="#f1ecf6" stroke-width="0.25" opacity="0.22"/>
<path d="M233.13 613.06L229.78 616.21" stroke="#f1ecf6" stroke-width="0.32" opacity="0.8"/>
<path d="M230.09 608.67L225.96 610.71" stroke="#f1ecf6" stroke-width="0.32" opacity="0.8"/>
<path d="M228.45 603.62L223.92 604.39" stroke="#f1ecf6" stroke-width="0.25" opacity="0.22"/>
<path d="M228.26 599.07L223.68 598.68" stroke="#f1ecf6" stroke-width="0.25" opacity="0.22"/>
<path d="M229.11 594.92L224.74 593.48" stroke="#f1ecf6" stroke-width="0.25" opacity="0.22"/>
<path d="M230.81 591.20L226.87 588.83" stroke="#f1ecf6" stroke-width="0.25" opacity="0.22"/>
<path d="M232.95 588.34L229.55 585.25" stroke="#f1ecf6" stroke-width="0.25" opacity="0.22"/>
<path d="M235.31 586.17L232.51 582.52" stroke="#f1ecf6" stroke-width="0.25" opacity="0.22"/>
<path d="M237.92 584.50L235.77 580.43" stroke="#f1ecf6" stroke-width="0.25" opacity="0.22"/>
<path d="M240.05 583.54L238.45 579.23" stroke="#f1ecf6" stroke-width="0.25" opacity="0.22"/>
<path d="M242.45 582.83L241.45 578.34" stroke="#f1ecf6" stroke-width="0.25" opacity="0.22"/>
<path d="M244.33 582.52L243.81 577.95" stroke="#f1ecf6" stroke-width="0.25" opacity="0.22"/>
<path d="M246.35 582.40L246.34 577.80" stroke="#f1ecf6" stroke-width="0.25" opacity="0.22"/>
<circle cx="245.90" cy="600.60" r="4.35" fill="none" stroke="#bfaed0" stroke-width="1.7"/>
<text transform="translate(239.00 601.60) scale(.1)" font-size="20" text-anchor="middle" fill="#333">Y</text>
<text transform="translate(252.80 601.60) scale(.1)" font-size="20" text-anchor="middle" fill="#333">X</text>
<circle cx="308.7" cy="600.6" r="20.50" fill="none" stroke="#c7bad4" stroke-width="4.60"/>
<text transform="translate(315.26 578.40) scale(.1)" font-size="22" text-anchor="middle" fill="#3a3a3a">1</text>
<text transform="translate(326.38 585.07) scale(.1)" font-size="22" text-anchor="middle" fill="#3a3a3a">2</text>
<text transform="translate(332.19 595.17) scale(.1)" font-size="22" text-anchor="middle" fill="#3a3a3a">3</text>
<text transform="translate(332.90 605.45) scale(.1)" font-size="22" text-anchor="middle" fill="#3a3a3a">4</text>
<text transform="translate(329.55 614.72) scale(.1)" font-size="22" text-anchor="middle" fill="#3a3a3a">5</text>
<text transform="translate(323.25 621.60) scale(.1)" font-size="22" text-anchor="middle" fill="#3a3a3a">6</text>
<text transform="translate(315.39 625.47) scale(.1)" font-size="22" text-anchor="middle" fill="#3a3a3a">7</text>
<text transform="translate(307.34 626.36) scale(.1)" font-size="22" text-anchor="middle" fill="#3a3a3a">8</text>
<text transform="translate(299.89 624.76) scale(.1)" font-size="22" text-anchor="middle" fill="#3a3a3a">9</text>
<text transform="translate(293.00 621.10) scale(.1)" font-size="22" text-anchor="middle" fill="#3a3a3a">10</text>
<text transform="translate(288.08 615.84) scale(.1)" font-size="22" text-anchor="middle" fill="#3a3a3a">11</text>
<text transform="translate(284.92 609.42) scale(.1)" font-size="22" text-anchor="middle" fill="#3a3a3a">12</text>
<text transform="translate(283.77 602.90) scale(.1)" font-size="22" text-anchor="middle" fill="#3a3a3a">13</text>
<text transform="translate(284.25 597.01) scale(.1)" font-size="22" text-anchor="middle" fill="#3a3a3a">14</text>
<text transform="translate(286.00 591.70) scale(.1)" font-size="22" text-anchor="middle" fill="#3a3a3a">15</text>
<text transform="translate(288.64 587.28) scale(.1)" font-size="22" text-anchor="middle" fill="#3a3a3a">16</text>
<text transform="translate(291.70 583.91) scale(.1)" font-size="22" text-anchor="middle" fill="#3a3a3a">17</text>
<text transform="translate(295.06 581.33) scale(.1)" font-size="22" text-anchor="middle" fill="#3a3a3a">18</text>
<text transform="translate(298.28 579.60) scale(.1)" font-size="22" text-anchor="middle" fill="#3a3a3a">19</text>
<text transform="translate(301.33 578.48) scale(.1)" font-size="22" text-anchor="middle" fill="#3a3a3a">20</text>
<text transform="translate(304.22 577.83) scale(.1)" font-size="22" text-anchor="middle" fill="#3a3a3a">21</text>
<text transform="translate(306.84 577.54) scale(.1)" font-size="22" text-anchor="middle" fill="#3a3a3a">22</text>
<path d="M299.32 582.37A20.50 20.50 0 0 1 301.47 581.42" fill="none" stroke="#213f7b" stroke-width="4.60" />
<path d="M326.79 590.95A20.50 20.50 0 0 1 329.15 599.13" fill="none" stroke="#a8062c" stroke-width="4.60" />
<path d="M327.89 607.80A20.50 20.50 0 0 1 323.84 614.42" fill="none" stroke="#213f7b" stroke-width="4.60" />
<path d="M317.50 619.12A20.50 20.50 0 0 1 310.96 620.97" fill="none" stroke="#5ea330" stroke-width="4.60" />
<path d="M293.62 614.49A20.50 20.50 0 0 1 290.36 609.77" fill="none" stroke="#5ea330" stroke-width="4.60" />
<path d="M318.07 585.00L320.44 581.05" stroke="#f1ecf6" stroke-width="0.25" opacity="0.22"/>
<path d="M324.67 591.88L328.71 589.68" stroke="#f1ecf6" stroke-width="0.32" opacity="0.8"/>
<path d="M326.86 599.37L331.45 599.06" stroke="#f1ecf6" stroke-width="0.32" opacity="0.8"/>
<path d="M325.80 606.83L330.12 608.40" stroke="#f1ecf6" stroke-width="0.32" opacity="0.8"/>
<path d="M322.09 612.93L325.47 616.05" stroke="#f1ecf6" stroke-width="0.32" opacity="0.8"/>
<path d="M316.67 616.96L318.68 621.10" stroke="#f1ecf6" stroke-width="0.32" opacity="0.8"/>
<path d="M310.63 618.70L311.12 623.27" stroke="#f1ecf6" stroke-width="0.32" opacity="0.8"/>
<path d="M304.86 618.39L303.89 622.89" stroke="#f1ecf6" stroke-width="0.25" opacity="0.22"/>
<path d="M299.66 616.39L297.37 620.39" stroke="#f1ecf6" stroke-width="0.25" opacity="0.22"/>
<path d="M295.43 613.06L292.08 616.21" stroke="#f1ecf6" stroke-width="0.32" opacity="0.8"/>
<path d="M292.39 608.67L288.26 610.71" stroke="#f1ecf6" stroke-width="0.32" opacity="0.8"/>
<path d="M290.75 603.62L286.22 604.39" stroke="#f1ecf6" stroke-width="0.25" opacity="0.22"/>
<path d="M290.56 599.07L285.98 598.68" stroke="#f1ecf6" stroke-width="0.25" opacity="0.22"/>
<path d="M291.41 594.92L287.04 593.48" stroke="#f1ecf6" stroke-width="0.25" opacity="0.22"/>
<path d="M293.11 591.20L289.17 588.83" stroke="#f1ecf6" stroke-width="0.25" opacity="0.22"/>
<path d="M295.25 588.34L291.85 585.25" stroke="#f1ecf6" stroke-width="0.25" opacity="0.22"/>
<path d="M297.61 586.17L294.81 582.52" stroke="#f1ecf6" stroke-width="0.25" opacity="0.22"/>
<path d="M300.22 584.50L298.07 580.43" stroke="#f1ecf6" stroke-width="0.32" opacity="0.8"/>
<path d="M302.35 583.54L300.75 579.23" stroke="#f1ecf6" stroke-width="0.32" opacity="0.8"/>
<path d="M304.75 582.83L303.75 578.34" stroke="#f1ecf6" stroke-width="0.25" opacity="0.22"/>
<path d="M306.63 582.52L306.11 577.95" stroke="#f1ecf6" stroke-width="0.25" opacity="0.22"/>
<path d="M308.65 582.40L308.64 577.80" stroke="#f1ecf6" stroke-width="0.25" opacity="0.22"/>
<circle cx="308.20" cy="600.60" r="4.35" fill="none" stroke="#bfaed0" stroke-width="1.7"/>
<text transform="translate(301.30 601.60) scale(.1)" font-size="20" text-anchor="middle" fill="#333">Y</text>
<text transform="translate(315.10 601.60) scale(.1)" font-size="20" text-anchor="middle" fill="#333">X</text>
<circle cx="308.7" cy="656.7" r="20.50" fill="none" stroke="#c7bad4" stroke-width="4.60"/>
<text transform="translate(315.26 634.50) scale(.1)" font-size="22" text-anchor="middle" fill="#3a3a3a">1</text>
<text transform="translate(326.38 641.17) scale(.1)" font-size="22" text-anchor="middle" fill="#3a3a3a">2</text>
<text transform="translate(332.19 651.27) scale(.1)" font-size="22" text-anchor="middle" fill="#3a3a3a">3</text>
<text transform="translate(332.90 661.55) scale(.1)" font-size="22" text-anchor="middle" fill="#3a3a3a">4</text>
<text transform="translate(329.55 670.82) scale(.1)" font-size="22" text-anchor="middle" fill="#3a3a3a">5</text>
<text transform="translate(323.25 677.70) scale(.1)" font-size="22" text-anchor="middle" fill="#3a3a3a">6</text>
<text transform="translate(315.39 681.57) scale(.1)" font-size="22" text-anchor="middle" fill="#3a3a3a">7</text>
<text transform="translate(307.34 682.46) scale(.1)" font-size="22" text-anchor="middle" fill="#3a3a3a">8</text>
<text transform="translate(299.89 680.86) scale(.1)" font-size="22" text-anchor="middle" fill="#3a3a3a">9</text>
<text transform="translate(293.00 677.20) scale(.1)" font-size="22" text-anchor="middle" fill="#3a3a3a">10</text>
<text transform="translate(288.08 671.94) scale(.1)" font-size="22" text-anchor="middle" fill="#3a3a3a">11</text>
<text transform="translate(284.92 665.52) scale(.1)" font-size="22" text-anchor="middle" fill="#3a3a3a">12</text>
<text transform="translate(283.77 659.00) scale(.1)" font-size="22" text-anchor="middle" fill="#3a3a3a">13</text>
<text transform="translate(284.25 653.11) scale(.1)" font-size="22" text-anchor="middle" fill="#3a3a3a">14</text>
<text transform="translate(286.00 647.80) scale(.1)" font-size="22" text-anchor="middle" fill="#3a3a3a">15</text>
<text transform="translate(288.64 643.38) scale(.1)" font-size="22" text-anchor="middle" fill="#3a3a3a">16</text>
<text transform="translate(291.70 640.01) scale(.1)" font-size="22" text-anchor="middle" fill="#3a3a3a">17</text>
<text transform="translate(295.06 637.43) scale(.1)" font-size="22" text-anchor="middle" fill="#3a3a3a">18</text>
<text transform="translate(298.28 635.70) scale(.1)" font-size="22" text-anchor="middle" fill="#3a3a3a">19</text>
<text transform="translate(301.33 634.58) scale(.1)" font-size="22" text-anchor="middle" fill="#3a3a3a">20</text>
<text transform="translate(304.22 633.93) scale(.1)" font-size="22" text-anchor="middle" fill="#3a3a3a">21</text>
<text transform="translate(306.84 633.64) scale(.1)" font-size="22" text-anchor="middle" fill="#3a3a3a">22</text>
<path d="M326.79 647.05A20.50 20.50 0 0 1 329.15 655.23" fill="none" stroke="#a8062c" stroke-width="4.60" />
<path d="M327.89 663.90A20.50 20.50 0 0 1 323.84 670.52" fill="none" stroke="#213f7b" stroke-width="4.60" />
<path d="M317.50 675.22A20.50 20.50 0 0 1 310.96 677.07" fill="none" stroke="#5ea330" stroke-width="4.60" />
<path d="M293.62 670.59A20.50 20.50 0 0 1 290.36 665.87" fill="none" stroke="#a8062c" stroke-width="4.60" />
<path d="M318.07 641.10L320.44 637.15" stroke="#f1ecf6" stroke-width="0.25" opacity="0.22"/>
<path d="M324.67 647.98L328.71 645.78" stroke="#f1ecf6" stroke-width="0.32" opacity="0.8"/>
<path d="M326.86 655.47L331.45 655.16" stroke="#f1ecf6" stroke-width="0.32" opacity="0.8"/>
<path d="M325.80 662.93L330.12 664.50" stroke="#f1ecf6" stroke-width="0.32" opacity="0.8"/>
<path d="M322.09 669.03L325.47 672.15" stroke="#f1ecf6" stroke-width="0.32" opacity="0.8"/>
<path d="M316.67 673.06L318.68 677.20" stroke="#f1ecf6" stroke-width="0.32" opacity="0.8"/>
<path d="M310.63 674.80L311.12 679.37" stroke="#f1ecf6" stroke-width="0.32" opacity="0.8"/>
<path d="M304.86 674.49L303.89 678.99" stroke="#f1ecf6" stroke-width="0.25" opacity="0.22"/>
<path d="M299.66 672.49L297.37 676.49" stroke="#f1ecf6" stroke-width="0.25" opacity="0.22"/>
<path d="M295.43 669.16L292.08 672.31" stroke="#f1ecf6" stroke-width="0.32" opacity="0.8"/>
<path d="M292.39 664.77L288.26 666.81" stroke="#f1ecf6" stroke-width="0.32" opacity="0.8"/>
<path d="M290.75 659.72L286.22 660.49" stroke="#f1ecf6" stroke-width="0.25" opacity="0.22"/>
<path d="M290.56 655.17L285.98 654.78" stroke="#f1ecf6" stroke-width="0.25" opacity="0.22"/>
<path d="M291.41 651.02L287.04 649.58" stroke="#f1ecf6" stroke-width="0.25" opacity="0.22"/>
<path d="M293.11 647.30L289.17 644.93" stroke="#f1ecf6" stroke-width="0.25" opacity="0.22"/>
<path d="M295.25 644.44L291.85 641.35" stroke="#f1ecf6" stroke-width="0.25" opacity="0.22"/>
<path d="M297.61 642.27L294.81 638.62" stroke="#f1ecf6" stroke-width="0.25" opacity="0.22"/>
<path d="M300.22 640.60L298.07 636.53" stroke="#f1ecf6" stroke-width="0.25" opacity="0.22"/>
<path d="M302.35 639.64L300.75 635.33" stroke="#f1ecf6" stroke-width="0.25" opacity="0.22"/>
<path d="M304.75 638.93L303.75 634.44" stroke="#f1ecf6" stroke-width="0.25" opacity="0.22"/>
<path d="M306.63 638.62L306.11 634.05" stroke="#f1ecf6" stroke-width="0.25" opacity="0.22"/>
<path d="M308.65 638.50L308.64 633.90" stroke="#f1ecf6" stroke-width="0.25" opacity="0.22"/>
<circle cx="308.20" cy="656.70" r="4.35" fill="none" stroke="#bfaed0" stroke-width="1.7"/>
<text transform="translate(301.30 657.70) scale(.1)" font-size="20" text-anchor="middle" fill="#333">Y</text>
<text transform="translate(315.10 657.70) scale(.1)" font-size="20" text-anchor="middle" fill="#333">X</text>
<path d="M450.5 442V680.7" stroke="#000" stroke-width="1.2" stroke-dasharray="1.05 1.1" fill="none"/>
<text transform="translate(420.00 448.25) scale(.1)" font-size="63" text-anchor="middle" fill="#000" stroke="#000" stroke-width="0.4">MDS</text>
<text transform="translate(479.00 448.25) scale(.1)" font-size="63" text-anchor="middle" fill="#000" stroke="#000" stroke-width="0.4">AML</text>
<text transform="translate(356.03 482.70) rotate(-90.0) scale(.1)" font-size="62" text-anchor="middle" fill="#000" stroke="#000" stroke-width="0.4">Somatic mutations</text>
<text transform="translate(372.12 482.70) rotate(-90.0) scale(.1)" font-size="56" text-anchor="middle" fill="#000" textLength="560" lengthAdjust="spacingAndGlyphs" stroke="#000" stroke-width="1.3">Variant allele frequency (%)</text>
<text transform="translate(356.07 600.50) rotate(-90.0) scale(.1)" font-size="63" text-anchor="middle" fill="#000" stroke="#000" stroke-width="0.4">Cytogenetic clones</text>
<text transform="translate(386.40 512.15) scale(.1)" font-size="54" text-anchor="end" fill="#000" stroke="#000" stroke-width="1.0">0</text>
<text transform="translate(386.40 501.23) scale(.1)" font-size="54" text-anchor="end" fill="#000" stroke="#000" stroke-width="1.0">20</text>
<text transform="translate(386.40 490.31) scale(.1)" font-size="54" text-anchor="end" fill="#000" stroke="#000" stroke-width="1.0">40</text>
<text transform="translate(386.40 479.39) scale(.1)" font-size="54" text-anchor="end" fill="#000" stroke="#000" stroke-width="1.0">60</text>
<text transform="translate(386.40 468.47) scale(.1)" font-size="54" text-anchor="end" fill="#000" stroke="#000" stroke-width="1.0">80</text>
<text transform="translate(386.40 457.55) scale(.1)" font-size="54" text-anchor="end" fill="#000" stroke="#000" stroke-width="1.0">100</text>
<path d="M389.6 452.4V510.2H508" stroke="#1c1c1c" stroke-width="1.3" fill="none" stroke-linejoin="miter"/>
<path d="M425.00 471.00L473.60 459.59" stroke="#a8062c" stroke-width="0.85" fill="none"/>
<circle cx="425.00" cy="471.00" r="1.6" fill="#a8062c"/>
<circle cx="473.60" cy="459.59" r="1.6" fill="#a8062c"/>
<path d="M392.4 459.6H397.6" stroke="#a8062c" stroke-width="0.9"/>
<circle cx="395" cy="459.6" r="1.6" fill="#a8062c"/>
<text transform="translate(400.00 461.15) scale(.1)" font-size="44" text-anchor="start" fill="#2a2a2a" font-style="italic">TP53 Y234D</text>
<circle cx="419.2" cy="544.5" r="21.05" fill="none" stroke="#c7bad4" stroke-width="4.90"/>
<text transform="translate(425.95 521.62) scale(.1)" font-size="22" text-anchor="middle" fill="#3a3a3a">1</text>
<text transform="translate(437.39 528.48) scale(.1)" font-size="22" text-anchor="middle" fill="#3a3a3a">2</text>
<text transform="translate(443.36 538.88) scale(.1)" font-size="22" text-anchor="middle" fill="#3a3a3a">3</text>
<text transform="translate(444.09 549.45) scale(.1)" font-size="22" text-anchor="middle" fill="#3a3a3a">4</text>
<text transform="translate(440.65 558.98) scale(.1)" font-size="22" text-anchor="middle" fill="#3a3a3a">5</text>
<text transform="translate(434.16 566.06) scale(.1)" font-size="22" text-anchor="middle" fill="#3a3a3a">6</text>
<text transform="translate(426.08 570.04) scale(.1)" font-size="22" text-anchor="middle" fill="#3a3a3a">7</text>
<text transform="translate(417.80 570.96) scale(.1)" font-size="22" text-anchor="middle" fill="#3a3a3a">8</text>
<text transform="translate(410.13 569.31) scale(.1)" font-size="22" text-anchor="middle" fill="#3a3a3a">9</text>
<text transform="translate(403.06 565.55) scale(.1)" font-size="22" text-anchor="middle" fill="#3a3a3a">10</text>
<text transform="translate(398.00 560.13) scale(.1)" font-size="22" text-anchor="middle" fill="#3a3a3a">11</text>
<text transform="translate(394.75 553.53) scale(.1)" font-size="22" text-anchor="middle" fill="#3a3a3a">12</text>
<text transform="translate(393.57 546.82) scale(.1)" font-size="22" text-anchor="middle" fill="#3a3a3a">13</text>
<text transform="translate(394.07 540.77) scale(.1)" font-size="22" text-anchor="middle" fill="#3a3a3a">14</text>
<text transform="translate(395.87 535.30) scale(.1)" font-size="22" text-anchor="middle" fill="#3a3a3a">15</text>
<text transform="translate(398.58 530.76) scale(.1)" font-size="22" text-anchor="middle" fill="#3a3a3a">16</text>
<text transform="translate(401.72 527.29) scale(.1)" font-size="22" text-anchor="middle" fill="#3a3a3a">17</text>
<text transform="translate(405.18 524.64) scale(.1)" font-size="22" text-anchor="middle" fill="#3a3a3a">18</text>
<text transform="translate(408.49 522.86) scale(.1)" font-size="22" text-anchor="middle" fill="#3a3a3a">19</text>
<text transform="translate(411.63 521.71) scale(.1)" font-size="22" text-anchor="middle" fill="#3a3a3a">20</text>
<text transform="translate(414.60 521.04) scale(.1)" font-size="22" text-anchor="middle" fill="#3a3a3a">21</text>
<text transform="translate(417.30 520.74) scale(.1)" font-size="22" text-anchor="middle" fill="#3a3a3a">22</text>
<path d="M398.41 547.80A21.05 21.05 0 0 1 398.22 542.82" fill="none" stroke="#a8062c" stroke-width="4.90" />
<path d="M438.91 551.89A21.05 21.05 0 0 1 434.75 558.69" fill="none" stroke="#a8062c" stroke-width="4.90" />
<path d="M428.24 563.51A21.05 21.05 0 0 1 421.52 565.42" fill="none" stroke="#5ea330" stroke-width="4.90" />
<path d="M428.78 528.55L431.30 524.35" stroke="#f1ecf6" stroke-width="0.25" opacity="0.22"/>
<path d="M435.53 535.59L439.83 533.24" stroke="#f1ecf6" stroke-width="0.25" opacity="0.22"/>
<path d="M437.76 543.24L442.65 542.91" stroke="#f1ecf6" stroke-width="0.25" opacity="0.22"/>
<path d="M436.68 550.87L441.28 552.54" stroke="#f1ecf6" stroke-width="0.32" opacity="0.8"/>
<path d="M432.88 557.10L436.49 560.42" stroke="#f1ecf6" stroke-width="0.32" opacity="0.8"/>
<path d="M427.35 561.22L429.49 565.63" stroke="#f1ecf6" stroke-width="0.32" opacity="0.8"/>
<path d="M421.17 563.00L421.69 567.87" stroke="#f1ecf6" stroke-width="0.32" opacity="0.8"/>
<path d="M415.28 562.68L414.25 567.47" stroke="#f1ecf6" stroke-width="0.25" opacity="0.22"/>
<path d="M409.96 560.64L407.52 564.89" stroke="#f1ecf6" stroke-width="0.25" opacity="0.22"/>
<path d="M405.64 557.23L402.07 560.59" stroke="#f1ecf6" stroke-width="0.25" opacity="0.22"/>
<path d="M402.53 552.75L398.14 554.92" stroke="#f1ecf6" stroke-width="0.25" opacity="0.22"/>
<path d="M400.86 547.59L396.03 548.40" stroke="#f1ecf6" stroke-width="0.32" opacity="0.8"/>
<path d="M400.67 542.94L395.78 542.53" stroke="#f1ecf6" stroke-width="0.32" opacity="0.8"/>
<path d="M401.53 538.69L396.88 537.16" stroke="#f1ecf6" stroke-width="0.25" opacity="0.22"/>
<path d="M403.27 534.90L399.07 532.37" stroke="#f1ecf6" stroke-width="0.25" opacity="0.22"/>
<path d="M405.45 531.97L401.83 528.67" stroke="#f1ecf6" stroke-width="0.25" opacity="0.22"/>
<path d="M407.87 529.75L404.88 525.87" stroke="#f1ecf6" stroke-width="0.25" opacity="0.22"/>
<path d="M410.53 528.04L408.25 523.71" stroke="#f1ecf6" stroke-width="0.25" opacity="0.22"/>
<path d="M412.71 527.07L411.01 522.47" stroke="#f1ecf6" stroke-width="0.25" opacity="0.22"/>
<path d="M415.16 526.34L414.10 521.56" stroke="#f1ecf6" stroke-width="0.25" opacity="0.22"/>
<path d="M417.09 526.02L416.53 521.15" stroke="#f1ecf6" stroke-width="0.25" opacity="0.22"/>
<path d="M419.15 525.90L419.14 521.00" stroke="#f1ecf6" stroke-width="0.25" opacity="0.22"/>
<path d="M418.21 539.63A4.90 4.90 0 1 1 412.80 544.67" fill="none" stroke="#bfaed0" stroke-width="1.6" />
<text transform="translate(425.20 545.20) scale(.1)" font-size="20" text-anchor="middle" fill="#333">X</text>
<text transform="translate(412.00 549.80) scale(.1)" font-size="20" text-anchor="middle" fill="#333">Y</text>
<path d="M435.08 554.19Q425.15 552.32 424.33 562.38" stroke="#1a1a1a" stroke-width="0.75" fill="none"/>
<circle cx="419.2" cy="600.5" r="21.05" fill="none" stroke="#c7bad4" stroke-width="4.90"/>
<text transform="translate(425.95 577.62) scale(.1)" font-size="22" text-anchor="middle" fill="#3a3a3a">1</text>
<text transform="translate(437.39 584.48) scale(.1)" font-size="22" text-anchor="middle" fill="#3a3a3a">2</text>
<text transform="translate(443.36 594.88) scale(.1)" font-size="22" text-anchor="middle" fill="#3a3a3a">3</text>
<text transform="translate(444.09 605.45) scale(.1)" font-size="22" text-anchor="middle" fill="#3a3a3a">4</text>
<text transform="translate(440.65 614.98) scale(.1)" font-size="22" text-anchor="middle" fill="#3a3a3a">5</text>
<text transform="translate(434.16 622.06) scale(.1)" font-size="22" text-anchor="middle" fill="#3a3a3a">6</text>
<text transform="translate(426.08 626.04) scale(.1)" font-size="22" text-anchor="middle" fill="#3a3a3a">7</text>
<text transform="translate(417.80 626.96) scale(.1)" font-size="22" text-anchor="middle" fill="#3a3a3a">8</text>
<text transform="translate(410.13 625.31) scale(.1)" font-size="22" text-anchor="middle" fill="#3a3a3a">9</text>
<text transform="translate(403.06 621.55) scale(.1)" font-size="22" text-anchor="middle" fill="#3a3a3a">10</text>
<text transform="translate(398.00 616.13) scale(.1)" font-size="22" text-anchor="middle" fill="#3a3a3a">11</text>
<text transform="translate(394.75 609.53) scale(.1)" font-size="22" text-anchor="middle" fill="#3a3a3a">12</text>
<text transform="translate(393.57 602.82) scale(.1)" font-size="22" text-anchor="middle" fill="#3a3a3a">13</text>
<text transform="translate(394.07 596.77) scale(.1)" font-size="22" text-anchor="middle" fill="#3a3a3a">14</text>
<text transform="translate(395.87 591.30) scale(.1)" font-size="22" text-anchor="middle" fill="#3a3a3a">15</text>
<text transform="translate(398.58 586.76) scale(.1)" font-size="22" text-anchor="middle" fill="#3a3a3a">16</text>
<text transform="translate(401.72 583.29) scale(.1)" font-size="22" text-anchor="middle" fill="#3a3a3a">17</text>
<text transform="translate(405.18 580.64) scale(.1)" font-size="22" text-anchor="middle" fill="#3a3a3a">18</text>
<text transform="translate(408.49 578.86) scale(.1)" font-size="22" text-anchor="middle" fill="#3a3a3a">19</text>
<text transform="translate(411.63 577.71) scale(.1)" font-size="22" text-anchor="middle" fill="#3a3a3a">20</text>
<text transform="translate(414.60 577.04) scale(.1)" font-size="22" text-anchor="middle" fill="#3a3a3a">21</text>
<text transform="translate(417.30 576.74) scale(.1)" font-size="22" text-anchor="middle" fill="#3a3a3a">22</text>
<path d="M414.83 579.91A21.05 21.05 0 0 1 416.72 579.60" fill="none" stroke="#213f7b" stroke-width="4.90" />
<path d="M398.41 603.80A21.05 21.05 0 0 1 398.22 598.82" fill="none" stroke="#a8062c" stroke-width="4.90" />
<path d="M438.91 607.89A21.05 21.05 0 0 1 434.75 614.69" fill="none" stroke="#a8062c" stroke-width="4.90" />
<path d="M428.24 619.51A21.05 21.05 0 0 1 421.52 621.42" fill="none" stroke="#5ea330" stroke-width="4.90" />
<path d="M428.78 584.55L431.30 580.35" stroke="#f1ecf6" stroke-width="0.25" opacity="0.22"/>
<path d="M435.53 591.59L439.83 589.24" stroke="#f1ecf6" stroke-width="0.25" opacity="0.22"/>
<path d="M437.76 599.24L442.65 598.91" stroke="#f1ecf6" stroke-width="0.25" opacity="0.22"/>
<path d="M436.68 606.87L441.28 608.54" stroke="#f1ecf6" stroke-width="0.32" opacity="0.8"/>
<path d="M432.88 613.10L436.49 616.42" stroke="#f1ecf6" stroke-width="0.32" opacity="0.8"/>
<path d="M427.35 617.22L429.49 621.63" stroke="#f1ecf6" stroke-width="0.32" opacity="0.8"/>
<path d="M421.17 619.00L421.69 623.87" stroke="#f1ecf6" stroke-width="0.32" opacity="0.8"/>
<path d="M415.28 618.68L414.25 623.47" stroke="#f1ecf6" stroke-width="0.25" opacity="0.22"/>
<path d="M409.96 616.64L407.52 620.89" stroke="#f1ecf6" stroke-width="0.25" opacity="0.22"/>
<path d="M405.64 613.23L402.07 616.59" stroke="#f1ecf6" stroke-width="0.25" opacity="0.22"/>
<path d="M402.53 608.75L398.14 610.92" stroke="#f1ecf6" stroke-width="0.25" opacity="0.22"/>
<path d="M400.86 603.59L396.03 604.40" stroke="#f1ecf6" stroke-width="0.32" opacity="0.8"/>
<path d="M400.67 598.94L395.78 598.53" stroke="#f1ecf6" stroke-width="0.32" opacity="0.8"/>
<path d="M401.53 594.69L396.88 593.16" stroke="#f1ecf6" stroke-width="0.25" opacity="0.22"/>
<path d="M403.27 590.90L399.07 588.37" stroke="#f1ecf6" stroke-width="0.25" opacity="0.22"/>
<path d="M405.45 587.97L401.83 584.67" stroke="#f1ecf6" stroke-width="0.25" opacity="0.22"/>
<path d="M407.87 585.75L404.88 581.87" stroke="#f1ecf6" stroke-width="0.25" opacity="0.22"/>
<path d="M410.53 584.04L408.25 579.71" stroke="#f1ecf6" stroke-width="0.25" opacity="0.22"/>
<path d="M412.71 583.07L411.01 578.47" stroke="#f1ecf6" stroke-width="0.25" opacity="0.22"/>
<path d="M415.16 582.34L414.10 577.56" stroke="#f1ecf6" stroke-width="0.32" opacity="0.8"/>
<path d="M417.09 582.02L416.53 577.15" stroke="#f1ecf6" stroke-width="0.32" opacity="0.8"/>
<path d="M419.15 581.90L419.14 577.00" stroke="#f1ecf6" stroke-width="0.25" opacity="0.22"/>
<path d="M418.21 595.63A4.90 4.90 0 1 1 412.80 600.67" fill="none" stroke="#bfaed0" stroke-width="1.6" />
<text transform="translate(425.20 601.20) scale(.1)" font-size="20" text-anchor="middle" fill="#333">X</text>
<text transform="translate(412.00 605.80) scale(.1)" font-size="20" text-anchor="middle" fill="#333">Y</text>
<path d="M435.08 610.19Q425.15 608.32 424.33 618.38" stroke="#1a1a1a" stroke-width="0.75" fill="none"/>
<circle cx="419.2" cy="656.4" r="21.05" fill="none" stroke="#c7bad4" stroke-width="4.90"/>
<text transform="translate(425.95 633.52) scale(.1)" font-size="22" text-anchor="middle" fill="#3a3a3a">1</text>
<text transform="translate(437.39 640.38) scale(.1)" font-size="22" text-anchor="middle" fill="#3a3a3a">2</text>
<text transform="translate(443.36 650.78) scale(.1)" font-size="22" text-anchor="middle" fill="#3a3a3a">3</text>
<text transform="translate(444.09 661.35) scale(.1)" font-size="22" text-anchor="middle" fill="#3a3a3a">4</text>
<text transform="translate(440.65 670.88) scale(.1)" font-size="22" text-anchor="middle" fill="#3a3a3a">5</text>
<text transform="translate(434.16 677.96) scale(.1)" font-size="22" text-anchor="middle" fill="#3a3a3a">6</text>
<text transform="translate(426.08 681.94) scale(.1)" font-size="22" text-anchor="middle" fill="#3a3a3a">7</text>
<text transform="translate(417.80 682.86) scale(.1)" font-size="22" text-anchor="middle" fill="#3a3a3a">8</text>
<text transform="translate(410.13 681.21) scale(.1)" font-size="22" text-anchor="middle" fill="#3a3a3a">9</text>
<text transform="translate(403.06 677.45) scale(.1)" font-size="22" text-anchor="middle" fill="#3a3a3a">10</text>
<text transform="translate(398.00 672.03) scale(.1)" font-size="22" text-anchor="middle" fill="#3a3a3a">11</text>
<text transform="translate(394.75 665.43) scale(.1)" font-size="22" text-anchor="middle" fill="#3a3a3a">12</text>
<text transform="translate(393.57 658.72) scale(.1)" font-size="22" text-anchor="middle" fill="#3a3a3a">13</text>
<text transform="translate(394.07 652.67) scale(.1)" font-size="22" text-anchor="middle" fill="#3a3a3a">14</text>
<text transform="translate(395.87 647.20) scale(.1)" font-size="22" text-anchor="middle" fill="#3a3a3a">15</text>
<text transform="translate(398.58 642.66) scale(.1)" font-size="22" text-anchor="middle" fill="#3a3a3a">16</text>
<text transform="translate(401.72 639.19) scale(.1)" font-size="22" text-anchor="middle" fill="#3a3a3a">17</text>
<text transform="translate(405.18 636.54) scale(.1)" font-size="22" text-anchor="middle" fill="#3a3a3a">18</text>
<text transform="translate(408.49 634.76) scale(.1)" font-size="22" text-anchor="middle" fill="#3a3a3a">19</text>
<text transform="translate(411.63 633.61) scale(.1)" font-size="22" text-anchor="middle" fill="#3a3a3a">20</text>
<text transform="translate(414.60 632.94) scale(.1)" font-size="22" text-anchor="middle" fill="#3a3a3a">21</text>
<text transform="translate(417.30 632.64) scale(.1)" font-size="22" text-anchor="middle" fill="#3a3a3a">22</text>
<path d="M414.83 635.81A21.05 21.05 0 0 1 416.72 635.50" fill="none" stroke="#213f7b" stroke-width="4.90" />
<path d="M398.41 659.70A21.05 21.05 0 0 1 398.22 654.72" fill="none" stroke="#a8062c" stroke-width="4.90" />
<path d="M438.91 663.79A21.05 21.05 0 0 1 434.75 670.59" fill="none" stroke="#a8062c" stroke-width="4.90" />
<path d="M428.24 675.41A21.05 21.05 0 0 1 421.52 677.32" fill="none" stroke="#5ea330" stroke-width="4.90" />
<path d="M428.78 640.45L431.30 636.25" stroke="#f1ecf6" stroke-width="0.25" opacity="0.22"/>
<path d="M435.53 647.49L439.83 645.14" stroke="#f1ecf6" stroke-width="0.25" opacity="0.22"/>
<path d="M437.76 655.14L442.65 654.81" stroke="#f1ecf6" stroke-width="0.25" opacity="0.22"/>
<path d="M436.68 662.77L441.28 664.44" stroke="#f1ecf6" stroke-width="0.32" opacity="0.8"/>
<path d="M432.88 669.00L436.49 672.32" stroke="#f1ecf6" stroke-width="0.32" opacity="0.8"/>
<path d="M427.35 673.12L429.49 677.53" stroke="#f1ecf6" stroke-width="0.32" opacity="0.8"/>
<path d="M421.17 674.90L421.69 679.77" stroke="#f1ecf6" stroke-width="0.32" opacity="0.8"/>
<path d="M415.28 674.58L414.25 679.37" stroke="#f1ecf6" stroke-width="0.25" opacity="0.22"/>
<path d="M409.96 672.54L407.52 676.79" stroke="#f1ecf6" stroke-width="0.25" opacity="0.22"/>
<path d="M405.64 669.13L402.07 672.49" stroke="#f1ecf6" stroke-width="0.25" opacity="0.22"/>
<path d="M402.53 664.65L398.14 666.82" stroke="#f1ecf6" stroke-width="0.25" opacity="0.22"/>
<path d="M400.86 659.49L396.03 660.30" stroke="#f1ecf6" stroke-width="0.32" opacity="0.8"/>
<path d="M400.67 654.84L395.78 654.43" stroke="#f1ecf6" stroke-width="0.32" opacity="0.8"/>
<path d="M401.53 650.59L396.88 649.06" stroke="#f1ecf6" stroke-width="0.25" opacity="0.22"/>
<path d="M403.27 646.80L399.07 644.27" stroke="#f1ecf6" stroke-width="0.25" opacity="0.22"/>
<path d="M405.45 643.87L401.83 640.57" stroke="#f1ecf6" stroke-width="0.25" opacity="0.22"/>
<path d="M407.87 641.65L404.88 637.77" stroke="#f1ecf6" stroke-width="0.25" opacity="0.22"/>
<path d="M410.53 639.94L408.25 635.61" stroke="#f1ecf6" stroke-width="0.25" opacity="0.22"/>
<path d="M412.71 638.97L411.01 634.37" stroke="#f1ecf6" stroke-width="0.25" opacity="0.22"/>
<path d="M415.16 638.24L414.10 633.46" stroke="#f1ecf6" stroke-width="0.32" opacity="0.8"/>
<path d="M417.09 637.92L416.53 633.05" stroke="#f1ecf6" stroke-width="0.32" opacity="0.8"/>
<path d="M419.15 637.80L419.14 632.90" stroke="#f1ecf6" stroke-width="0.25" opacity="0.22"/>
<path d="M418.21 651.53A4.90 4.90 0 1 1 412.80 656.57" fill="none" stroke="#bfaed0" stroke-width="1.6" />
<path d="M419.20 645.75A10.65 10.65 0 0 1 429.00 652.24" fill="none" stroke="#bfaed0" stroke-width="1.5" />
<text transform="translate(425.20 657.10) scale(.1)" font-size="20" text-anchor="middle" fill="#333">X</text>
<text transform="translate(412.00 661.70) scale(.1)" font-size="20" text-anchor="middle" fill="#333">Y</text>
<path d="M435.08 666.09Q425.15 664.22 424.33 674.28" stroke="#1a1a1a" stroke-width="0.75" fill="none"/>
<circle cx="483.5" cy="544.5" r="21.05" fill="none" stroke="#c7bad4" stroke-width="4.90"/>
<text transform="translate(490.25 521.62) scale(.1)" font-size="22" text-anchor="middle" fill="#3a3a3a">1</text>
<text transform="translate(501.69 528.48) scale(.1)" font-size="22" text-anchor="middle" fill="#3a3a3a">2</text>
<text transform="translate(507.66 538.88) scale(.1)" font-size="22" text-anchor="middle" fill="#3a3a3a">3</text>
<text transform="translate(508.39 549.45) scale(.1)" font-size="22" text-anchor="middle" fill="#3a3a3a">4</text>
<text transform="translate(504.95 558.98) scale(.1)" font-size="22" text-anchor="middle" fill="#3a3a3a">5</text>
<text transform="translate(498.46 566.06) scale(.1)" font-size="22" text-anchor="middle" fill="#3a3a3a">6</text>
<text transform="translate(490.38 570.04) scale(.1)" font-size="22" text-anchor="middle" fill="#3a3a3a">7</text>
<text transform="translate(482.10 570.96) scale(.1)" font-size="22" text-anchor="middle" fill="#3a3a3a">8</text>
<text transform="translate(474.43 569.31) scale(.1)" font-size="22" text-anchor="middle" fill="#3a3a3a">9</text>
<text transform="translate(467.36 565.55) scale(.1)" font-size="22" text-anchor="middle" fill="#3a3a3a">10</text>
<text transform="translate(462.30 560.13) scale(.1)" font-size="22" text-anchor="middle" fill="#3a3a3a">11</text>
<text transform="translate(459.05 553.53) scale(.1)" font-size="22" text-anchor="middle" fill="#3a3a3a">12</text>
<text transform="translate(457.87 546.82) scale(.1)" font-size="22" text-anchor="middle" fill="#3a3a3a">13</text>
<text transform="translate(458.37 540.77) scale(.1)" font-size="22" text-anchor="middle" fill="#3a3a3a">14</text>
<text transform="translate(460.17 535.30) scale(.1)" font-size="22" text-anchor="middle" fill="#3a3a3a">15</text>
<text transform="translate(462.88 530.76) scale(.1)" font-size="22" text-anchor="middle" fill="#3a3a3a">16</text>
<text transform="translate(466.02 527.29) scale(.1)" font-size="22" text-anchor="middle" fill="#3a3a3a">17</text>
<text transform="translate(469.48 524.64) scale(.1)" font-size="22" text-anchor="middle" fill="#3a3a3a">18</text>
<text transform="translate(472.79 522.86) scale(.1)" font-size="22" text-anchor="middle" fill="#3a3a3a">19</text>
<text transform="translate(475.93 521.71) scale(.1)" font-size="22" text-anchor="middle" fill="#3a3a3a">20</text>
<text transform="translate(478.90 521.04) scale(.1)" font-size="22" text-anchor="middle" fill="#3a3a3a">21</text>
<text transform="translate(481.60 520.74) scale(.1)" font-size="22" text-anchor="middle" fill="#3a3a3a">22</text>
<path d="M479.13 523.91A21.05 21.05 0 0 1 481.02 523.60" fill="none" stroke="#213f7b" stroke-width="4.90" />
<path d="M462.71 547.80A21.05 21.05 0 0 1 462.52 542.82" fill="none" stroke="#a8062c" stroke-width="4.90" />
<path d="M503.21 551.89A21.05 21.05 0 0 1 499.05 558.69" fill="none" stroke="#a8062c" stroke-width="4.90" />
<path d="M492.54 563.51A21.05 21.05 0 0 1 485.82 565.42" fill="none" stroke="#5ea330" stroke-width="4.90" />
<path d="M493.08 528.55L495.60 524.35" stroke="#f1ecf6" stroke-width="0.25" opacity="0.22"/>
<path d="M499.83 535.59L504.13 533.24" stroke="#f1ecf6" stroke-width="0.25" opacity="0.22"/>
<path d="M502.06 543.24L506.95 542.91" stroke="#f1ecf6" stroke-width="0.25" opacity="0.22"/>
<path d="M500.98 550.87L505.58 552.54" stroke="#f1ecf6" stroke-width="0.32" opacity="0.8"/>
<path d="M497.18 557.10L500.79 560.42" stroke="#f1ecf6" stroke-width="0.32" opacity="0.8"/>
<path d="M491.65 561.22L493.79 565.63" stroke="#f1ecf6" stroke-width="0.32" opacity="0.8"/>
<path d="M485.47 563.00L485.99 567.87" stroke="#f1ecf6" stroke-width="0.32" opacity="0.8"/>
<path d="M479.58 562.68L478.55 567.47" stroke="#f1ecf6" stroke-width="0.25" opacity="0.22"/>
<path d="M474.26 560.64L471.82 564.89" stroke="#f1ecf6" stroke-width="0.25" opacity="0.22"/>
<path d="M469.94 557.23L466.37 560.59" stroke="#f1ecf6" stroke-width="0.25" opacity="0.22"/>
<path d="M466.83 552.75L462.44 554.92" stroke="#f1ecf6" stroke-width="0.25" opacity="0.22"/>
<path d="M465.16 547.59L460.33 548.40" stroke="#f1ecf6" stroke-width="0.32" opacity="0.8"/>
<path d="M464.97 542.94L460.08 542.53" stroke="#f1ecf6" stroke-width="0.32" opacity="0.8"/>
<path d="M465.83 538.69L461.18 537.16" stroke="#f1ecf6" stroke-width="0.25" opacity="0.22"/>
<path d="M467.57 534.90L463.37 532.37" stroke="#f1ecf6" stroke-width="0.25" opacity="0.22"/>
<path d="M469.75 531.97L466.13 528.67" stroke="#f1ecf6" stroke-width="0.25" opacity="0.22"/>
<path d="M472.17 529.75L469.18 525.87" stroke="#f1ecf6" stroke-width="0.25" opacity="0.22"/>
<path d="M474.83 528.04L472.55 523.71" stroke="#f1ecf6" stroke-width="0.25" opacity="0.22"/>
<path d="M477.01 527.07L475.31 522.47" stroke="#f1ecf6" stroke-width="0.25" opacity="0.22"/>
<path d="M479.46 526.34L478.40 521.56" stroke="#f1ecf6" stroke-width="0.32" opacity="0.8"/>
<path d="M481.39 526.02L480.83 521.15" stroke="#f1ecf6" stroke-width="0.32" opacity="0.8"/>
<path d="M483.45 525.90L483.44 521.00" stroke="#f1ecf6" stroke-width="0.25" opacity="0.22"/>
<path d="M482.51 539.63A4.90 4.90 0 1 1 477.10 544.67" fill="none" stroke="#bfaed0" stroke-width="1.6" />
<path d="M483.50 533.85A10.65 10.65 0 0 1 493.30 540.34" fill="none" stroke="#bfaed0" stroke-width="1.5" />
<text transform="translate(489.50 545.20) scale(.1)" font-size="20" text-anchor="middle" fill="#333">X</text>
<text transform="translate(476.30 549.80) scale(.1)" font-size="20" text-anchor="middle" fill="#333">Y</text>
<path d="M499.38 554.19Q489.45 552.32 488.63 562.38" stroke="#1a1a1a" stroke-width="0.75" fill="none"/>
</g>
</svg>
<div id="frame"></div>
</body></html>
